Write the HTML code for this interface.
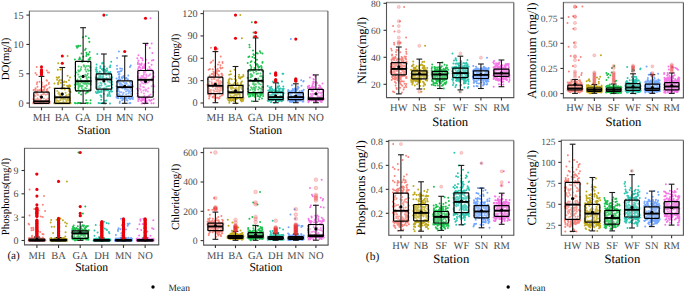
<!DOCTYPE html><html><head><meta charset="utf-8"><style>html,body{margin:0;padding:0;background:#fff;}svg{display:block;}text{text-rendering:geometricPrecision;}</style></head><body>
<svg width="685" height="292" viewBox="0 0 685 292" font-family='"Liberation Serif", serif'>
<rect width="685" height="292" fill="#fff"/>
<path d="M34.4 103.3h0M34.1 102.3h0M34.3 103.3h0M46.9 101.9h0M49 103.3h0M49.4 102.1h0M35.6 88.9h0M46.8 102.8h0M43.8 98.5h0M34.2 99.7h0M40.3 103.3h0M40.7 98.4h0M37.2 90.9h0M47.7 100.4h0M49.5 103h0M45.8 101.9h0M33.8 101.4h0M47.8 91.7h0M43.1 94.3h0M47.2 101.6h0M44.2 101.5h0M44 94.1h0M39.6 90.1h0M36 103.3h0M35.3 103.3h0M47.7 102.1h0M42.3 101.7h0M37.8 90.2h0M47.9 102.4h0M37 103.3h0M43 101.4h0M39.3 103.3h0M41.8 84.2h0M34.1 95.1h0M46.5 91.3h0M34.9 102.1h0M36.6 103.3h0M34 102.5h0M39.2 103.3h0M35.6 88.3h0M39.2 102.5h0M40.9 89.3h0M38.9 103.3h0M33.6 89.9h0M35.6 100.3h0M49.5 103.3h0M37.5 94.3h0M42 103.3h0M36.9 102.6h0M46.6 80.2h0M36.9 92.5h0M33.7 102.4h0M37.5 103h0M48.8 83.9h0M36.8 84h0M43.6 103.3h0M44 89.5h0M48.3 103.3h0M36.1 92.1h0M46.5 102.6h0M39.9 102.1h0M36 93.2h0M46.6 103.3h0M44.1 90h0M35.4 99.6h0M41.9 82.4h0M47.7 101.8h0M38.1 103.3h0M37.5 98.3h0M39.1 103.3h0M48.2 98.4h0M42 86.4h0M36.2 103.3h0M41.1 90.8h0M38.6 99.4h0M46.2 99.4h0M37.3 99.2h0M42.5 91.5h0M43.4 86.7h0M44.7 100.9h0M41.1 100.2h0M47.8 94.2h0M42.5 103.2h0M35.2 89.6h0M34.4 103.3h0M35.7 91.2h0M35.6 95.7h0M49 82.8h0M49.7 101.4h0M41.8 103.3h0M45.2 103.3h0M40.5 99.4h0M43.6 102.6h0M46.3 103.3h0M33.8 103.3h0M35.3 103.1h0M37.5 86.7h0M44.8 86.3h0M40.3 103.3h0M46.5 85.2h0M47.5 89h0M42.4 102.5h0M35.3 103.1h0M35.9 103.3h0M38.3 103.3h0M41.5 102.9h0M33.5 102.5h0M42.4 103.3h0M48.7 101.5h0M41.4 90.2h0M41.6 102.1h0M47 80.7h0M39.9 96.6h0M34.3 103.3h0M35.9 103.2h0M44.3 89.5h0M40.8 103.3h0M37.6 101.7h0M37.2 82.2h0M39.1 102.8h0M41.1 102.2h0M33.3 103.3h0M33.9 103.3h0M37 102.8h0M45.7 100.3h0M47.8 93.5h0M49.6 102.6h0M43.9 93.2h0M43.6 89.7h0M41.9 90.4h0M46.9 89.7h0M44.7 87.6h0M39.2 103.3h0M43.6 89.7h0M41.3 94.9h0M41.5 90.8h0M34.3 95.7h0M34.4 103.3h0M36.6 93h0M39.5 81.8h0M45.9 94.8h0M34.5 96.3h0M45.6 103.3h0M33.4 99h0M44.4 103.1h0M38 95.1h0M40.9 101.6h0M49.5 87.6h0M46.8 103.3h0M37.6 101.7h0M36.7 66.9h0M36.7 74.7h0M35.5 72.9h0M49 72.6h0M46.8 70.6h0M47.9 72.5h0" stroke="#F8766D" stroke-width="2.0" stroke-linecap="round" opacity="0.88"/>
<path d="M62.1 103.3h0M61.5 103.3h0M59.2 103.3h0M67.9 103.3h0M69 80.2h0M60.5 100.2h0M60 94.3h0M54.8 102.6h0M69.6 85.2h0M62.5 102.9h0M69.9 100.2h0M69.2 86.2h0M66 95.7h0M61.5 89.1h0M58.7 92.4h0M61.8 80.2h0M66.3 102h0M64.9 103h0M60.5 95.4h0M69.1 103.3h0M70.6 103.3h0M55.5 103.3h0M58.3 103.3h0M60.8 82.7h0M60.2 96.5h0M70.1 103.3h0M64.5 97.2h0M58.1 103.3h0M69.9 98.5h0M54.5 83.5h0M63.8 82.2h0M69.4 99.7h0M58.1 84.3h0M65.3 103.3h0M64.8 89.5h0M63.2 98.3h0M69.3 87.3h0M56.1 101.9h0M65.6 92.7h0M63.7 103.3h0M54.1 103.3h0M69.9 98.2h0M57.9 82.9h0M59.1 77h0M65.2 97.3h0M65.1 103.1h0M59.6 103.3h0M57.3 91h0M62.4 88.8h0M67.6 75.7h0M58.9 103.3h0M57.1 97.4h0M65.1 99.2h0M57.5 103.3h0M55 103.3h0M66.2 82.1h0M57.1 79.8h0M54.5 88.6h0M60.2 100h0M58.6 103.3h0M70 77.6h0M67.7 100.6h0M54.8 98.8h0M69.3 100.2h0M68.9 100.4h0M67.5 99.3h0M55 103.3h0M66.4 103.1h0M58.5 101h0M58.3 93.4h0M58.6 101.5h0M64.5 88.2h0M61.9 103.3h0M58.2 77.7h0M69.4 97.4h0M67.7 86.5h0M59.4 93.7h0M67 100.4h0M58.1 103.3h0M59.4 103.3h0M58.4 82.9h0M65.8 103.3h0M64.3 103.3h0M68.1 88.5h0M58.9 103.3h0M66.3 100.2h0M56.5 103.3h0M59.4 94.7h0M57.8 69.8h0M70.5 92.1h0M67.6 97.9h0M58.9 81.1h0M63.7 103.3h0M68.4 100.2h0M66.9 103h0M64.3 103.3h0M56.3 100.3h0M64 103.2h0M59.4 103.3h0M57.4 103.3h0M55 95.7h0M63.1 99.7h0M65.6 103.3h0M59.1 102.4h0M63.4 101.7h0M68.4 99.2h0M57.3 100.4h0M69 103.3h0M68.7 85.8h0M63.2 103.3h0M64.3 81.4h0M56.4 97.2h0M69.4 96.6h0M67.4 97.5h0M69.7 103.3h0M54.9 97.7h0M69 99.8h0M67.1 85.7h0M68.1 99.5h0M60.6 103.3h0M56 99.9h0M68.9 89.4h0M66.6 95.2h0M64 85.1h0M59.1 93h0M61.1 94.5h0M61.3 98.5h0M62.1 93.3h0M61.6 87.9h0M55.8 97.9h0M55.5 98.9h0M54.7 97h0M66.9 103.3h0M60.3 103.3h0M70.6 103.3h0M70.3 86.1h0M56.7 77.4h0M59.8 79.9h0M58.6 103.3h0M69.3 103.3h0M62.4 102.9h0M56.7 103.3h0M68.9 91.1h0M62.8 87.2h0M68.5 100.5h0M68.7 94.6h0M60.5 69.6h0M70.5 102.9h0M66.7 100.5h0M54.8 103.3h0M67.6 56h0M58.2 63.3h0" stroke="#B79F00" stroke-width="2.0" stroke-linecap="round" opacity="0.88"/>
<path d="M85.8 36.3h0M77.3 103.3h0M83.3 83.6h0M85.7 93.6h0M80.7 102.9h0M78.5 86.4h0M78.2 74.6h0M77 82.1h0M76.4 90.9h0M81.5 53.5h0M80.6 78.9h0M90.4 83.2h0M83.6 89.8h0M87.7 91h0M90.4 103.2h0M85.5 80.9h0M75.6 84.8h0M74.9 59.5h0M82.5 61.7h0M78.5 82.9h0M80.4 91.2h0M88.9 66.1h0M84 90.1h0M79.2 59.1h0M89.4 41.9h0M78.7 103.1h0M80.2 45.7h0M78.8 87.5h0M86.3 71.4h0M88.8 38.2h0M86.8 54.6h0M78.3 88.3h0M75.2 87.8h0M77.1 47.8h0M86.3 102.9h0M87 66h0M80.8 103.3h0M89.2 89.4h0M78.2 45.7h0M85.3 69.4h0M79.6 71.3h0M87.4 103h0M81.8 87.9h0M79.5 103.1h0M80.1 86h0M89 80.9h0M87.6 82.3h0M83.7 65.3h0M88.4 54.2h0M87.5 103.3h0M88 81.4h0M80.6 81.4h0M90.5 90.3h0M76.6 81.2h0M87.9 73.8h0M81.5 86.5h0M89.6 51.9h0M79.2 103h0M81.1 81.1h0M87.3 80h0M80.6 70.1h0M87.1 75.2h0M87.7 83.4h0M78.7 66.4h0M86.5 88.6h0M78.9 93h0M77.5 79.6h0M76.5 72.6h0M88 62h0M78 83.5h0M81.2 94.4h0M87.9 103.1h0M85.3 81.2h0M87.1 82.9h0M84.3 83.7h0M78.6 84h0M86.4 52.8h0M85.5 67.4h0M85.2 88.1h0M87.8 103.2h0M78.9 71.4h0M85.1 82.8h0M90.3 67.8h0M87.7 69.5h0M91 81.6h0M77.5 103.2h0M76.5 46.3h0M86.7 78.2h0M88.6 70.7h0M90.6 84.4h0M81.3 67h0M75.7 83.8h0M75 84.8h0M86.4 84.1h0M78.5 90.1h0M78.4 46.4h0M78.3 85.1h0M82.6 76.2h0M85.4 83.8h0M79.7 57.5h0M88.9 83.8h0M79 85.7h0M86.8 92.2h0M81.9 81.6h0M80.8 69.1h0M88.6 54.8h0M88.6 59.4h0M90.6 100.3h0M76.5 90.8h0M77.3 84h0M89.6 59h0M89.7 59.6h0M86.3 55.9h0M82.1 62h0M79.2 77.1h0M82.6 89.5h0M83.1 81.5h0M88.8 54.2h0M85.9 76.6h0M81.7 85.7h0M75.2 76.1h0M90.3 67.2h0M82.8 37.2h0M80.4 76.5h0M82.7 86.1h0M82 60.2h0M88.5 77.2h0M83.2 56.7h0M91 80.7h0M80.1 58.9h0M85.3 74.8h0M83.9 66.3h0M74.9 103.1h0M85.7 48.7h0M85 50h0M84.7 66h0M87.5 82h0M87.7 92.3h0M80.9 69.4h0M79.1 59.3h0M80.1 84h0M90.3 70.5h0M75.4 103.2h0M90.1 57.8h0M90.4 77.8h0M81.6 82.1h0M78.3 70.3h0M86.2 100.2h0M89.3 41.7h0M87 85.9h0" stroke="#00BA38" stroke-width="2.0" stroke-linecap="round" opacity="0.88"/>
<path d="M107.5 96.1h0M97 74.4h0M103.2 74.9h0M111.6 89h0M106.4 100.6h0M107.7 94.4h0M96.6 69.8h0M102.9 77.9h0M101.6 91.9h0M102.5 76.7h0M108.6 72.7h0M96.6 87.3h0M109.4 75h0M111.9 77.2h0M100.7 77.3h0M107 68.4h0M100.3 68h0M102.6 103.1h0M96.3 71.6h0M105.1 71.8h0M107 70.2h0M97 85.1h0M108.1 72.3h0M106.9 89.6h0M108.1 90.2h0M97 80.9h0M105.2 73.2h0M103.5 68.6h0M98.6 90.7h0M105 84.5h0M98.1 79h0M97.3 54h0M105.5 72.7h0M95.9 79h0M110 103.5h0M99.9 78h0M111.3 82.1h0M99.8 71.5h0M98.6 103h0M110.1 96.1h0M96.6 64.4h0M97.6 83.2h0M105 88.9h0M102.1 63.5h0M112.1 91.5h0M101.4 97h0M96.4 67.5h0M106.3 74.9h0M108.1 95.7h0M100.5 75.7h0M101 73.6h0M98.4 92.6h0M95.8 92h0M111 90.5h0M110.4 65.5h0M97.2 81.3h0M103.1 70.6h0M106 71.4h0M107.5 89.9h0M100 91.9h0M109.6 91.6h0M100.9 91.3h0M96.5 93h0M99.1 75.9h0M99.9 87.6h0M112.1 84.4h0M100.4 66.2h0M100.5 95.6h0M101.2 99.7h0M104.3 103.3h0M110.8 81.8h0M97.9 77.9h0M98.8 73.2h0M103.8 94.1h0M107.4 90.2h0M98.9 77.7h0M102.4 74.3h0M101.2 95.8h0M95.8 69.6h0M110.1 80.3h0M101.7 90.8h0M105.5 84.2h0M103 103.2h0M109.2 92.7h0M107.4 86.2h0M110.1 73.9h0M104.1 79.6h0M95.9 78.6h0M97.3 89.8h0M97.2 71.6h0M105.6 90.5h0M107.3 78.9h0M96.3 69.4h0M103.9 79.6h0M97.9 92.7h0M105.1 69.8h0M111.2 91.4h0M109.6 82.3h0M111.3 83.2h0M99.6 85.5h0M111.9 81.8h0M109.7 67h0M111.5 79h0M106.1 89.2h0M96.7 78.8h0M95.9 79.3h0M111.2 61.8h0M110.3 71.9h0M100 103.3h0M104.6 88.2h0M99.7 76.9h0M111.4 81.8h0M106.4 86.8h0M111.5 77.5h0M103.3 88.4h0M97.8 91.8h0M100.4 82.8h0M109.6 94h0M106.4 78h0M103.2 74.9h0M103.4 77.1h0M104.1 89.4h0M95.8 77.6h0M104.8 69.7h0M112 87.7h0M96.7 73.2h0M96.6 81.6h0M107.8 81.6h0M107.9 89.8h0M101.4 85.5h0M109.7 77h0M107.9 79h0M108.6 73.6h0M110.1 66.9h0M105.3 103.4h0M102.5 62.7h0M101.9 69.2h0M107.6 80.9h0M104.8 83.4h0M108.7 86.1h0M103 79.4h0M98 86.9h0M97 77.7h0M109.6 86h0M102.7 63.2h0M105 100.8h0M104.5 66.5h0M104.2 79h0M101.5 83.5h0M111.4 85h0M106.8 15.1h0" stroke="#12BFA6" stroke-width="2.0" stroke-linecap="round" opacity="0.88"/>
<path d="M123 98.5h0M131 85.4h0M123.7 87.6h0M125.2 56h0M132.7 97.3h0M118.2 86.9h0M130 82.5h0M119 74h0M124.8 86.9h0M126.4 97.1h0M117.1 57.9h0M127.9 79.2h0M130.4 103.1h0M119.6 83.1h0M120.8 85.9h0M133 86.5h0M118.4 90.2h0M118 80.4h0M130.1 86.7h0M116.6 78.4h0M128.3 93.4h0M118 97.3h0M122.2 85.2h0M117.3 91.1h0M132.4 85.2h0M120.5 84.3h0M121.6 70.7h0M126.4 78h0M132.2 87.4h0M128.3 91h0M131 93.9h0M119.3 79h0M121.2 97.1h0M122.8 98.2h0M130.1 99.3h0M121.1 96.4h0M122.1 100.3h0M117.9 82.1h0M123.8 77h0M122.2 78.5h0M132.3 91.4h0M120.2 68.5h0M120.7 97.9h0M122.5 85.1h0M119.9 84.6h0M125.4 98h0M127.3 79.9h0M122.9 93.9h0M121.7 97.2h0M122.4 98.3h0M117.5 94.4h0M128.3 96.6h0M131.5 90.5h0M118.6 74.3h0M127.4 100.6h0M127.3 90.2h0M122.2 96.3h0M131.6 97.1h0M117 81.9h0M119.7 103h0M117 91.3h0M119.4 83.8h0M128.3 85.5h0M127.8 89.4h0M129.3 103.3h0M126.5 100h0M129.6 96.4h0M117.8 72.1h0M128.8 90.8h0M117.9 95h0M131.9 89.8h0M130.2 81.1h0M117.3 88.8h0M124.9 89.6h0M117.1 97.9h0M125.5 78.4h0M125.4 83.9h0M123.2 99.4h0M118.6 93.9h0M120.3 83h0M123.8 86.8h0M121.4 92.3h0M121.9 97.7h0M129 86h0M126.3 83.1h0M118.3 80.2h0M119.8 92h0M119.7 95h0M118.3 89h0M122.4 88.3h0M132.9 99.1h0M132.7 98.8h0M123.6 98.3h0M116.5 86.2h0M126.8 83.7h0M120.6 83.5h0M129.3 97.8h0M119.5 94.4h0M119.2 76.5h0M121.8 77.3h0M122.5 77.5h0M130.2 91.7h0M126.8 100.1h0M131.4 82.1h0M124.7 87.4h0M126.1 94.3h0M119.1 82.5h0M117 65.7h0M116.4 97h0M123.5 76h0M124.9 83.2h0M123.7 92.8h0M119.1 77.5h0M125.8 89.1h0M121.8 96.9h0M130.8 65.4h0M129.9 67h0M126.5 82.9h0M132.2 85.5h0M121.4 83.6h0M119.5 74.2h0M117.8 89h0M126 91.6h0M125.8 86.5h0M131.2 98.2h0M120.6 98.2h0M120.6 86.5h0M120.1 85.9h0M126.2 98.2h0M117.6 90.3h0M128.3 75.5h0M128.4 98.2h0M119.2 77.3h0M129.3 85.7h0M120.3 79.7h0M119.9 101.6h0M123.5 82h0M130.9 84.3h0M119.2 71.8h0M129.1 92.7h0M122.6 77.5h0M117.1 68.9h0M129.7 98.5h0M120.6 71.2h0M130.3 89h0M118.2 98.2h0M121.2 97.1h0M118.8 91.3h0M127.9 86.3h0M122.1 68.8h0M118.9 51.5h0" stroke="#619CFF" stroke-width="2.0" stroke-linecap="round" opacity="0.88"/>
<path d="M137.8 64.1h0M143.7 67.3h0M143.7 98.1h0M138.4 75.9h0M147 97.4h0M145 98h0M143.1 87.1h0M142.7 103.2h0M153.6 103.2h0M141.7 98.3h0M141.5 79.8h0M153.1 78.8h0M150 100.7h0M147.7 69.4h0M150.4 94.6h0M142.2 58.6h0M145.6 70.9h0M146.3 89.7h0M142.6 99.8h0M143.3 81h0M139.4 97.3h0M144.7 103.4h0M142.2 77.4h0M142.3 99.7h0M152.8 78h0M138.5 60.4h0M153.6 77h0M151.6 69.4h0M152.1 80.8h0M137.6 96.5h0M148.9 95.7h0M140.5 86.3h0M140.4 64.7h0M138.5 55.2h0M139.4 63.9h0M151.8 78.5h0M142.6 60.2h0M143.9 74.5h0M138.1 90.5h0M142.7 100.3h0M141.5 76.4h0M146.6 101.9h0M149.2 100h0M139.5 99.1h0M144.2 99.2h0M146.4 76.7h0M142.7 76.3h0M149 96.5h0M150 69.3h0M141.8 82.8h0M137.3 58.3h0M150.1 74.3h0M149.8 48.1h0M138.2 101h0M140.2 77.9h0M139.7 88.6h0M152.5 71h0M141.2 100.9h0M147.8 79.9h0M142.6 68.2h0M138.3 98.9h0M151.6 86.2h0M144 77.6h0M140.9 57.8h0M144.4 96.1h0M147.9 97.6h0M146.7 45.1h0M141.6 64.7h0M142.7 67.1h0M148.5 62.9h0M146.8 82.8h0M143.2 97.5h0M151.6 64.7h0M137.6 93.4h0M152.4 53h0M138.8 71.1h0M138.7 73.2h0M151.9 60.6h0M150.4 100.8h0M141 100.6h0M153.7 98.9h0M145.3 63.7h0M140.2 84.4h0M145.5 98.3h0M145.4 89.4h0M140.8 89.7h0M141.7 63.4h0M138.3 95.9h0M144 79.5h0M137.3 88.8h0M146.2 74.4h0M153.5 73h0M143.8 71.9h0M153.4 85h0M144 87.3h0M147.3 43.4h0M147.3 96.7h0M139.1 97.2h0M138 69h0M147.9 91.5h0M153.4 92.1h0M151.4 103.3h0M153.7 76.6h0M149.6 75.2h0M143.7 72.1h0M148.5 75.8h0M146.2 75.3h0M141.6 75.9h0M149.2 81.5h0M140.9 81.3h0M145.9 59.8h0M140 67.5h0M147.8 82.4h0M137.9 62.6h0M139.2 66.6h0M138.9 97h0M144.7 68.1h0M153.8 86.6h0M145.1 83.1h0M148.5 70.1h0M141.1 79.1h0M143.5 90.4h0M146.7 103h0M141.7 97.9h0M138.7 97.2h0M144.2 65h0M143.4 75.7h0M143.3 83.5h0M144 93.6h0M143.6 67.7h0M153.4 60h0M148.3 88.2h0M143.5 99.6h0M152.2 80h0M144.9 101.1h0M145.1 66.1h0M145.4 83.7h0M149.5 67h0M146.4 100.5h0M140.8 69.6h0M138.6 67.3h0M138.1 77.6h0M145.2 72.1h0M144.1 72.9h0M151.7 43.4h0M145.8 90.8h0M141.7 103.5h0M141.4 92.3h0M145.7 77.9h0M151.6 100.1h0M150.5 18.2h0" stroke="#F564E3" stroke-width="2.0" stroke-linecap="round" opacity="0.88"/>
<line x1="41.5" y1="76.4" x2="41.5" y2="92.1" stroke="#1a1a1a" stroke-width="1.1"/>
<line x1="41.5" y1="103.3" x2="41.5" y2="103.3" stroke="#1a1a1a" stroke-width="1.1"/>
<line x1="38.6" y1="76.4" x2="44.4" y2="76.4" stroke="#1a1a1a" stroke-width="1.1"/>
<line x1="38.6" y1="103.3" x2="44.4" y2="103.3" stroke="#1a1a1a" stroke-width="1.1"/>
<rect x="33.8" y="92.1" width="15.4" height="11.2" rx="0.8" fill="#fff" fill-opacity="0.2" stroke="#000" stroke-width="1.2"/>
<line x1="33.8" y1="101.3" x2="49.2" y2="101.3" stroke="#000" stroke-width="1.9"/>
<circle cx="41.5" cy="97.1" r="1.55" fill="#000"/>
<circle cx="41.5" cy="66.9" r="1.55" fill="#E8000B"/>
<circle cx="41.5" cy="69.9" r="1.55" fill="#E8000B"/>
<circle cx="41.5" cy="70.7" r="1.55" fill="#E8000B"/>
<circle cx="41.5" cy="71.5" r="1.55" fill="#E8000B"/>
<circle cx="41.5" cy="72.3" r="1.55" fill="#E8000B"/>
<circle cx="41.5" cy="73.1" r="1.55" fill="#E8000B"/>
<circle cx="41.5" cy="73.9" r="1.55" fill="#E8000B"/>
<circle cx="41.5" cy="74.7" r="1.55" fill="#E8000B"/>
<line x1="62.3" y1="67.5" x2="62.3" y2="88.4" stroke="#1a1a1a" stroke-width="1.1"/>
<line x1="62.3" y1="103.3" x2="62.3" y2="103.3" stroke="#1a1a1a" stroke-width="1.1"/>
<line x1="59.4" y1="67.5" x2="65.2" y2="67.5" stroke="#1a1a1a" stroke-width="1.1"/>
<line x1="59.4" y1="103.3" x2="65.2" y2="103.3" stroke="#1a1a1a" stroke-width="1.1"/>
<rect x="54.6" y="88.4" width="15.4" height="14.9" rx="0.8" fill="#fff" fill-opacity="0.2" stroke="#000" stroke-width="1.2"/>
<line x1="54.6" y1="97.3" x2="70" y2="97.3" stroke="#000" stroke-width="1.9"/>
<circle cx="62.3" cy="94.1" r="1.55" fill="#000"/>
<circle cx="62.3" cy="56" r="1.55" fill="#E8000B"/>
<circle cx="62.3" cy="63.3" r="1.55" fill="#E8000B"/>
<line x1="83.1" y1="27.7" x2="83.1" y2="61.3" stroke="#1a1a1a" stroke-width="1.1"/>
<line x1="83.1" y1="90.8" x2="83.1" y2="103.3" stroke="#1a1a1a" stroke-width="1.1"/>
<line x1="80.2" y1="27.7" x2="86" y2="27.7" stroke="#1a1a1a" stroke-width="1.1"/>
<line x1="80.2" y1="103.3" x2="86" y2="103.3" stroke="#1a1a1a" stroke-width="1.1"/>
<rect x="75.4" y="61.3" width="15.4" height="29.5" rx="0.8" fill="#fff" fill-opacity="0.2" stroke="#000" stroke-width="1.2"/>
<line x1="75.4" y1="81.2" x2="90.8" y2="81.2" stroke="#000" stroke-width="1.9"/>
<circle cx="83.1" cy="76.4" r="1.55" fill="#000"/>
<line x1="103.9" y1="54" x2="103.9" y2="73.9" stroke="#1a1a1a" stroke-width="1.1"/>
<line x1="103.9" y1="89.2" x2="103.9" y2="103.3" stroke="#1a1a1a" stroke-width="1.1"/>
<line x1="101" y1="54" x2="106.8" y2="54" stroke="#1a1a1a" stroke-width="1.1"/>
<line x1="101" y1="103.3" x2="106.8" y2="103.3" stroke="#1a1a1a" stroke-width="1.1"/>
<rect x="96.2" y="73.9" width="15.4" height="15.3" rx="0.8" fill="#fff" fill-opacity="0.2" stroke="#000" stroke-width="1.2"/>
<line x1="96.2" y1="79.4" x2="111.6" y2="79.4" stroke="#000" stroke-width="1.9"/>
<circle cx="103.9" cy="81" r="1.55" fill="#000"/>
<circle cx="103.9" cy="15.1" r="1.55" fill="#E8000B"/>
<line x1="124.7" y1="56" x2="124.7" y2="80.8" stroke="#1a1a1a" stroke-width="1.1"/>
<line x1="124.7" y1="96.3" x2="124.7" y2="103.3" stroke="#1a1a1a" stroke-width="1.1"/>
<line x1="121.8" y1="56" x2="127.6" y2="56" stroke="#1a1a1a" stroke-width="1.1"/>
<line x1="121.8" y1="103.3" x2="127.6" y2="103.3" stroke="#1a1a1a" stroke-width="1.1"/>
<rect x="117" y="80.8" width="15.4" height="15.5" rx="0.8" fill="#fff" fill-opacity="0.2" stroke="#000" stroke-width="1.2"/>
<line x1="117" y1="87.2" x2="132.4" y2="87.2" stroke="#000" stroke-width="1.9"/>
<circle cx="124.7" cy="86.4" r="1.55" fill="#000"/>
<circle cx="124.7" cy="51.5" r="1.55" fill="#E8000B"/>
<line x1="145.5" y1="43.4" x2="145.5" y2="70.5" stroke="#1a1a1a" stroke-width="1.1"/>
<line x1="145.5" y1="97.1" x2="145.5" y2="103.3" stroke="#1a1a1a" stroke-width="1.1"/>
<line x1="142.6" y1="43.4" x2="148.4" y2="43.4" stroke="#1a1a1a" stroke-width="1.1"/>
<line x1="142.6" y1="103.3" x2="148.4" y2="103.3" stroke="#1a1a1a" stroke-width="1.1"/>
<rect x="137.8" y="70.5" width="15.4" height="26.6" rx="0.8" fill="#fff" fill-opacity="0.2" stroke="#000" stroke-width="1.2"/>
<line x1="137.8" y1="79.8" x2="153.2" y2="79.8" stroke="#000" stroke-width="1.9"/>
<circle cx="145.5" cy="81.4" r="1.55" fill="#000"/>
<circle cx="145.5" cy="18.2" r="1.55" fill="#E8000B"/>
<line x1="29.4" y1="11.2" x2="158.5" y2="11.2" stroke="#b8b8b8" stroke-width="1.7"/>
<line x1="158.5" y1="11.2" x2="158.5" y2="107.3" stroke="#555" stroke-width="1.1"/>
<line x1="29.4" y1="107.3" x2="159" y2="107.3" stroke="#555" stroke-width="1.1"/>
<line x1="29.4" y1="10.7" x2="29.4" y2="107.8" stroke="#555" stroke-width="1.1"/>
<line x1="26.4" y1="103.1" x2="29.4" y2="103.1" stroke="#333" stroke-width="1.1"/>
<text x="23.5" y="106.57" font-size="10.2" fill="#4d4d4d" text-anchor="end">0</text>
<line x1="26.4" y1="73.77" x2="29.4" y2="73.77" stroke="#333" stroke-width="1.1"/>
<text x="23.5" y="77.24" font-size="10.2" fill="#4d4d4d" text-anchor="end">5</text>
<line x1="26.4" y1="44.43" x2="29.4" y2="44.43" stroke="#333" stroke-width="1.1"/>
<text x="23.5" y="47.9" font-size="10.2" fill="#4d4d4d" text-anchor="end">10</text>
<line x1="26.4" y1="15.1" x2="29.4" y2="15.1" stroke="#333" stroke-width="1.1"/>
<text x="23.5" y="18.57" font-size="10.2" fill="#4d4d4d" text-anchor="end">15</text>
<line x1="41.5" y1="107.3" x2="41.5" y2="110.3" stroke="#333" stroke-width="1.1"/>
<text x="41.5" y="120.6" font-size="10.9" fill="#4d4d4d" text-anchor="middle">MH</text>
<line x1="62.3" y1="107.3" x2="62.3" y2="110.3" stroke="#333" stroke-width="1.1"/>
<text x="62.3" y="120.6" font-size="10.9" fill="#4d4d4d" text-anchor="middle">BA</text>
<line x1="83.1" y1="107.3" x2="83.1" y2="110.3" stroke="#333" stroke-width="1.1"/>
<text x="83.1" y="120.6" font-size="10.9" fill="#4d4d4d" text-anchor="middle">GA</text>
<line x1="103.9" y1="107.3" x2="103.9" y2="110.3" stroke="#333" stroke-width="1.1"/>
<text x="103.9" y="120.6" font-size="10.9" fill="#4d4d4d" text-anchor="middle">DH</text>
<line x1="124.7" y1="107.3" x2="124.7" y2="110.3" stroke="#333" stroke-width="1.1"/>
<text x="124.7" y="120.6" font-size="10.9" fill="#4d4d4d" text-anchor="middle">MN</text>
<line x1="145.5" y1="107.3" x2="145.5" y2="110.3" stroke="#333" stroke-width="1.1"/>
<text x="145.5" y="120.6" font-size="10.9" fill="#4d4d4d" text-anchor="middle">NO</text>
<text x="93.95" y="133.8" font-size="12" font-weight="normal" fill="#000" text-anchor="middle" textLength="32.8" lengthAdjust="spacingAndGlyphs">Station</text>
<text transform="translate(8.9 58.9) rotate(-90)" font-size="10.9" font-weight="normal" fill="#000" text-anchor="middle" textLength="42.7" lengthAdjust="spacingAndGlyphs">DO(mg/l)</text>
<path d="M210.6 93.4h0M213.4 84.6h0M216.7 86.1h0M222.1 75h0M215.9 98.1h0M212.6 83.7h0M218.8 75.2h0M214.7 82.8h0M221.5 87.4h0M217.6 87.8h0M216.9 71.8h0M220.2 67.5h0M218.2 80.1h0M209.7 94.3h0M208.9 94.3h0M218 64.5h0M209.9 68.9h0M208 79.3h0M211.1 92.2h0M216.4 91.3h0M220.9 68.4h0M213.7 75.1h0M217.7 89.4h0M208.9 84.3h0M214.3 78.1h0M209.3 96.1h0M215.8 51.6h0M219.4 90.4h0M215.2 66.8h0M216.1 82.6h0M221.7 95.6h0M207.9 94h0M222.5 62.1h0M214.6 98.1h0M210.2 77.5h0M208.5 92h0M220 96.6h0M207.9 86.9h0M209.5 96.5h0M213.4 90.2h0M222.5 95.1h0M215.1 72.9h0M209.3 96.6h0M209.3 84.6h0M215.5 95.1h0M210.6 94.5h0M215.4 93.8h0M215.2 100.5h0M218.4 83.5h0M211.6 77.2h0M215.7 89h0M216.7 70h0M220 82.7h0M217 97.6h0M218.5 98.5h0M220.4 90.6h0M222.5 67.7h0M208.8 88.6h0M218.3 77.8h0M209.6 90.5h0M223 94.2h0M215.4 75.4h0M217.6 68.7h0M220.9 81.7h0M213 96.7h0M219.3 62.3h0M221.9 73.7h0M216.9 73.5h0M221.4 73.8h0M222.6 63.1h0M211.4 61.9h0M214.7 94h0M222 86h0M213.7 78.7h0M222.5 75.3h0M208.8 88.6h0M216.9 73.3h0M215.2 75.4h0M214.1 96.2h0M212.8 87.1h0M220.9 90.2h0M208.8 92.2h0M214.5 79.1h0M218.3 74.7h0M211.7 73.9h0M211 89.9h0M221.7 82.2h0M222.7 85.8h0M220.7 56.5h0M207.4 84.9h0M220.4 65.2h0M209 90.2h0M213.4 71.8h0M208.6 69.8h0M222.7 87.4h0M217.5 80.5h0M218.2 85.1h0M213.2 85.9h0M218.3 97.8h0M219.4 87.3h0M219.4 78h0M209.6 91.1h0M216.8 70h0M219.4 98.3h0M219.6 92.6h0M214.1 84.4h0M220.3 80.9h0M222.8 89.4h0M211.8 79.4h0M220.6 83.4h0M209.6 90.4h0M219.2 70.9h0M208.2 91.5h0M222.9 89.3h0M222.5 94.7h0M214.4 91.2h0M213.7 93.3h0M210.6 62.7h0M220.8 87.3h0M209.8 76h0M216.3 86.7h0M213.2 77.1h0M212 84.9h0M219.8 93.3h0M213.1 73.8h0M211.3 93.1h0M219.5 84.2h0M220.3 88.4h0M217.7 91.7h0M218.5 81.4h0M222.5 88.9h0M213.7 90.6h0M210.4 90.3h0M215.7 84.8h0M212.8 69.2h0M215.4 88.4h0M216.6 80.3h0M211.8 83.4h0M209.8 75.6h0M221.8 77h0M220.6 77.5h0M218.7 70.8h0M211.8 82.2h0M220.6 82.5h0M208.9 94.3h0M213.1 60.6h0M212.6 97.3h0M209.6 81.6h0M216.3 97.7h0M209.1 98.6h0M211 47.7h0M217.5 49h0" stroke="#F8766D" stroke-width="2.0" stroke-linecap="round" opacity="0.88"/>
<path d="M236.6 95.8h0M240.9 84h0M228 91.3h0M234.3 101.2h0M239.1 88.9h0M235.7 94.3h0M243.5 97.9h0M243.3 75h0M229.6 92.7h0M238.8 87.4h0M230.5 95.6h0M230.6 96.9h0M234.5 91.9h0M230.6 86.8h0M238.7 90.7h0M242.7 85.5h0M239 86.3h0M241.3 98.1h0M231.7 88.9h0M243.4 98.6h0M233.2 100.6h0M229.1 83.6h0M235 98.7h0M235.1 78.9h0M236.5 99h0M227.8 98.1h0M242.6 86.6h0M239.2 93.6h0M229.6 83.4h0M233.6 98h0M234.9 82.7h0M228.6 80.2h0M241.7 89.1h0M230.8 88.6h0M229.1 79.3h0M234.8 99h0M238.8 88.7h0M228.3 100h0M238.3 94.3h0M238.6 97.8h0M237.1 98.8h0M231.1 97.8h0M237.6 84.2h0M243.1 100.8h0M231.3 100.8h0M242.4 98h0M229.9 78.5h0M243.1 85.2h0M230.1 98.3h0M241.8 99.3h0M236.4 103.3h0M237.4 92.2h0M228.3 83.8h0M233.8 96.7h0M227.9 85.6h0M229.4 83.4h0M229.2 98.1h0M233.1 91.1h0M241.1 86h0M232.3 99.4h0M243.2 98.8h0M229.3 102.8h0M235.8 89.7h0M237.3 94.2h0M240.3 78.6h0M228 82.5h0M241.6 81.9h0M238.8 76.8h0M233.1 96.5h0M243.2 99.5h0M240.9 77.6h0M231.5 85.3h0M241.7 101.6h0M239.8 95.9h0M236 80.1h0M237.5 82.9h0M243 91.3h0M237.9 91.5h0M242.1 77.1h0M230.9 74.2h0M231.7 79.2h0M234.5 69.7h0M239.4 87.2h0M227.9 97.7h0M243 98.1h0M238 89.9h0M232.4 87.1h0M233.3 100h0M243 99.2h0M239.8 97.1h0M234 99.4h0M239.2 93.4h0M240.8 77.6h0M241.2 82.8h0M231.9 87.8h0M230 98.3h0M238.1 90.1h0M243.2 98.8h0M236.6 88.3h0M241.2 100.1h0M239.1 74.8h0M233.4 84.2h0M240.3 99.2h0M239.8 94.7h0M233.6 98.2h0M235 88.6h0M240.9 100.4h0M229.3 101.1h0M229 86.6h0M230.3 92.7h0M229.4 93.5h0M235 95.1h0M228.6 90.9h0M236.5 85.6h0M229.2 74.8h0M231.3 91.7h0M228.8 81.3h0M239.2 78.1h0M232.6 93.2h0M233.3 88h0M230.4 71.3h0M235.7 88.3h0M239.4 92.9h0M237.2 97.8h0M242.7 98.8h0M242 81.6h0M241.9 97.9h0M234.5 98h0M236.8 98.3h0M238.4 94.3h0M235.1 76.3h0M243.4 76.3h0M230.7 98h0M231.1 93.2h0M234 96h0M227.8 87.8h0M227.5 98.6h0M234.8 97.5h0M229.7 86.6h0M229.9 99.1h0M236.8 91.7h0M230.2 100.3h0M234 93.3h0M241.3 88h0M242.6 97.2h0M229.1 100.4h0M232.1 96.7h0M236 81.1h0M235.7 83.6h0M236.9 97.8h0M240.3 15.1h0M241.9 38.3h0" stroke="#B79F00" stroke-width="2.0" stroke-linecap="round" opacity="0.88"/>
<path d="M262 93.5h0M251.7 93.7h0M256 86.8h0M257.6 96.1h0M260.4 73.6h0M258.5 81.9h0M250.5 74.7h0M254.5 68h0M263 93.3h0M253.3 92.9h0M251.1 69h0M248.1 91.8h0M254.3 85h0M262.7 77.4h0M258.9 87.3h0M247.9 93.8h0M263 94.1h0M257.8 65h0M259.9 51.2h0M260.8 92.4h0M257 64.1h0M259.2 99.2h0M250.4 96.2h0M251.8 101.3h0M249.4 44.7h0M253 50.4h0M254.3 89h0M248.5 92.2h0M257.6 94h0M260.3 92h0M255.5 88h0M248.4 57.1h0M253.8 72.7h0M260.4 93h0M250.6 77.3h0M251.3 67h0M256.6 74h0M249.3 93.5h0M254.4 92.8h0M248.1 71.2h0M257.8 93.1h0M262 76.1h0M258.2 89.5h0M260 94.1h0M263 71.6h0M252.6 89.6h0M249 96.7h0M250 80.2h0M250.7 62h0M255.9 80.5h0M256.1 71.6h0M253.8 95.2h0M258.3 92.6h0M255.2 89.1h0M254.7 68.8h0M249.3 56.5h0M252 75.1h0M249.6 47.2h0M252.4 75.9h0M254.6 69.9h0M249.1 85.6h0M259.9 96.9h0M250.2 95.2h0M250.4 65.2h0M253 84.1h0M249.5 92.8h0M261.9 70.4h0M262.9 82h0M255 90.6h0M249.7 70.7h0M260.6 52.8h0M255.1 92.7h0M252.7 94.3h0M253.1 70.2h0M260.8 84.4h0M247.7 77.7h0M262 76.4h0M261.2 88.7h0M253.4 91.8h0M253.6 87.5h0M254.2 93h0M251.5 61.2h0M259.3 67h0M258.1 66.4h0M256.2 64.7h0M261.1 66h0M262.6 61.9h0M258 73.4h0M254.9 62.6h0M261.5 68.2h0M251.6 88.1h0M248 88.7h0M248.7 93h0M254 93.5h0M257.7 53.5h0M262 82.1h0M261.6 89.5h0M260.9 95.2h0M254.3 81.5h0M250.9 73.9h0M263 87h0M248.1 94.8h0M259.1 83.8h0M260.7 95.5h0M251.1 87.3h0M261.7 67.1h0M253.7 83.8h0M252.4 57h0M250.6 70.8h0M258.3 80.8h0M256.6 53.1h0M256.4 93.7h0M262.4 62.7h0M262 98.4h0M262.5 53.4h0M260.5 94.4h0M251.7 76.6h0M255.8 84.3h0M253 95.5h0M251.4 70h0M250.4 80.1h0M257 59.7h0M259 69.9h0M261 91.5h0M254.7 96.8h0M258.5 96.2h0M257.8 82.6h0M259.9 88.3h0M254.2 93.4h0M250.2 89.9h0M252.6 95.7h0M254.6 93.7h0M262.7 81.4h0M249.9 93.5h0M263.1 96.1h0M254.4 87.4h0M253.9 72.8h0M247.7 63h0M253.3 71h0M254.5 58.1h0M258.2 78.6h0M253.4 54.3h0M258.4 67.7h0M254 55h0M260.4 95h0M255.3 88.9h0M261.9 87h0M262.5 79.5h0M252.9 81.8h0M260.2 76.3h0M251.8 22.3h0M253.5 32.6h0M253.8 36.5h0" stroke="#00BA38" stroke-width="2.0" stroke-linecap="round" opacity="0.88"/>
<path d="M272.1 89h0M278.7 91.1h0M280.6 100h0M271.9 99.8h0M282.3 92.9h0M282.5 96.2h0M270.8 88.6h0M269.2 90.4h0M283.4 92.2h0M268 101.1h0M269.5 94.7h0M278.5 100.1h0M283.4 98.5h0M271.7 98.2h0M279 86.2h0M273.3 100.1h0M278.6 101h0M280.4 97.7h0M281.8 97.6h0M274 98.7h0M276.7 90.4h0M278.8 100.1h0M275.9 91.5h0M278.4 91.5h0M274.2 92.8h0M277.5 87.4h0M272 98.3h0M280.9 91.6h0M272.8 93.6h0M277.5 99.6h0M272.1 90.4h0M279.8 100.8h0M282.2 92.1h0M282.7 97.8h0M272.1 91.9h0M279.3 90.1h0M278.1 92.7h0M279.3 97.2h0M272.1 94.3h0M283.7 88.8h0M280.7 95.8h0M281.5 97.5h0M269.6 87.6h0M268.5 100.3h0M279.6 96.4h0M273.7 94.6h0M275.3 91.2h0M268.2 90.5h0M279.2 97.4h0M282.6 98.7h0M269.6 100.3h0M273.1 97.1h0M280.3 88.5h0M282.2 89h0M277.8 86.4h0M269.3 90.5h0M279.6 91.4h0M280.9 97.5h0M278.7 88.7h0M270.4 98h0M275.6 97.4h0M276.6 98.4h0M270.3 95.5h0M283.1 98.4h0M283.2 100.3h0M272.7 96.3h0M272.2 99.9h0M282.9 96h0M282.9 98.5h0M281.5 96.3h0M277.4 98.5h0M283.3 86.6h0M271 102.2h0M278.4 100.5h0M278.6 88.6h0M274.5 102.7h0M276.8 99h0M282.2 97.9h0M270.9 91.1h0M282.6 90.9h0M272.9 89.9h0M278.9 98h0M269.4 90.9h0M270 99.5h0M283 94.1h0M278.2 83.6h0M276.5 92.8h0M269.9 89.4h0M280.5 100.3h0M276.9 97.1h0M276.4 98h0M271.5 101.1h0M271.6 99.7h0M273.9 97.3h0M278.4 92.1h0M275.7 97.6h0M270.6 95.2h0M269.1 100.8h0M272.6 97.8h0M270.2 88.2h0M282.3 98.9h0M270.3 97.8h0M278.1 100.4h0M268.6 94.8h0M269.3 98.7h0M275.9 93h0M274.6 94h0M267.7 100.7h0M270.9 98.1h0M283.6 93.6h0M278.4 99.5h0M278.7 98.1h0M276.4 100.2h0M275.7 88.8h0M275.6 100h0M282.7 99.2h0M269.9 97.4h0M278.9 100.4h0M279.2 86h0M268.5 100.5h0M273.3 92.9h0M279.1 98.4h0M267.7 85.9h0M281.6 92.8h0M279.2 100.2h0M278.5 98.3h0M281.7 101.3h0M282.3 98.9h0M283.2 90.2h0M270.8 87.7h0M273.1 97.3h0M277.1 96.9h0M275.7 99.4h0M278.3 97.9h0M272.1 96.5h0M280.2 93.3h0M275.9 99.7h0M274.1 99.2h0M279.4 91.2h0M273.4 97.6h0M279.8 98.5h0M280.3 99.9h0M277.9 93.8h0M268.7 99.4h0M276.1 101.5h0M271.4 86.7h0M279.5 100.5h0M272 98.4h0M282 93.1h0M274.4 90.2h0M283.3 73.8h0M270.2 73.4h0M282.5 73.7h0M273 81.5h0M282 81.5h0" stroke="#12BFA6" stroke-width="2.0" stroke-linecap="round" opacity="0.88"/>
<path d="M293.8 100h0M294.2 89.9h0M288.1 99.6h0M288 98.3h0M298.7 92.5h0M298.6 100h0M291 99.2h0M297.2 89.7h0M288.4 98.9h0M297.4 94.7h0M292.8 100.4h0M302.3 98.4h0M301.5 85.8h0M293.8 95.7h0M292.1 92h0M303.6 97.3h0M291.4 98.3h0M296.6 92.3h0M291.9 92h0M303.7 97.7h0M291.2 97.5h0M293.7 100.7h0M292.4 97h0M303.5 96.8h0M295.7 96.9h0M301.9 90.8h0M297.6 98.7h0M289.1 99.3h0M289.6 98.4h0M293 96.6h0M294.5 91.2h0M294.2 98.5h0M298.4 94.4h0M291.5 98h0M301.1 97.5h0M288.2 93h0M298.6 87.8h0M290.9 97.4h0M298.9 94.7h0M290 94.7h0M292.8 100.1h0M297.7 100.4h0M298.7 99h0M300.3 95.2h0M301.1 99.8h0M295 92.7h0M289.5 91.6h0M303.4 101.5h0M301.4 99.5h0M288 91.5h0M301.1 97.7h0M301.6 96.6h0M288.2 90h0M297.8 101h0M292.2 100.2h0M303.7 89.8h0M302.6 92h0M291.4 93.1h0M297.6 89.3h0M295.2 100.3h0M290.9 97.5h0M299.7 99.3h0M294.1 99.7h0M293.7 99.9h0M288.2 97.1h0M301.8 92.8h0M299.5 99.9h0M296.2 98h0M295.9 89.5h0M293.4 100h0M298 100.7h0M297.1 98.3h0M287.8 97.7h0M301.1 99.7h0M297.8 95.4h0M301.6 92.3h0M300.9 94.1h0M303.1 94.2h0M296 100.6h0M294 99.8h0M290.8 100h0M294.8 96.5h0M302.7 91.3h0M296.9 101.4h0M292.7 99.9h0M298.2 99.8h0M288.8 97.3h0M290.2 93.8h0M289.4 93h0M291.8 90.7h0M289.2 99.7h0M292.6 99.7h0M300.4 98.4h0M287.9 100.5h0M300.3 100.6h0M299.9 99.9h0M292.8 89.1h0M294.8 88.4h0M295.4 92.4h0M302.1 98h0M296.8 94.4h0M291.7 95.9h0M293.7 90.8h0M297.8 86.6h0M289.9 91.2h0M299.5 93.4h0M298.3 94.7h0M293 101.7h0M289.8 98.7h0M300.5 99.3h0M300.7 96.3h0M288.9 93.1h0M293.7 101.6h0M295.8 98.1h0M292.6 100.4h0M294.8 98.2h0M298.1 87.3h0M299.9 98.1h0M295 100.5h0M300 99.9h0M294.6 100.2h0M296.8 90h0M302.5 101.4h0M299.2 95.7h0M292.6 89.3h0M289.8 101.8h0M291.3 101.9h0M296.1 100.7h0M291.8 91.6h0M299.7 91.3h0M297.4 88.6h0M298.9 100.6h0M292.2 93.3h0M292.3 100h0M292.2 99.1h0M295.7 100.8h0M295.9 100.5h0M294.4 98.3h0M303.5 99.4h0M291.9 85.2h0M291 95.2h0M300.8 94.6h0M290.6 100.8h0M290.9 95.2h0M289.3 93.4h0M298.2 100.6h0M303.2 101.3h0M293.8 97.8h0M298.2 92.9h0M296 96h0M290.8 39.1h0M303.3 81.6h0M303.7 81.1h0M301.2 80.2h0" stroke="#619CFF" stroke-width="2.0" stroke-linecap="round" opacity="0.88"/>
<path d="M319.4 89.7h0M312.2 87.3h0M312.9 98.4h0M321.4 88.2h0M317 100.1h0M309.5 99.2h0M311.5 90.7h0M321.5 99.2h0M314.2 99.6h0M314 98.6h0M307.9 86.4h0M308.3 99.8h0M317.2 91h0M323.4 99.7h0M309.9 77.4h0M320.9 101.8h0M320.9 96.6h0M312.1 97h0M317.1 100h0M317.5 94h0M313.1 87.8h0M309.5 99h0M322.8 91.1h0M322.9 92.8h0M315.3 98.6h0M309.6 99.3h0M318.8 87.9h0M315.8 100.4h0M315 82.3h0M310.7 93.9h0M315.1 100.1h0M314.5 98.4h0M321.5 98.8h0M311.7 95.4h0M314.2 98.3h0M313.1 98.1h0M313.3 74.9h0M314.7 100.7h0M323.4 91.5h0M317.2 95.4h0M312.1 98.9h0M313.9 101h0M309.5 98.8h0M309.7 88.2h0M320 86.1h0M312.3 85.8h0M311.8 87.5h0M312.6 98.9h0M313.2 94.4h0M322.5 83.6h0M315.3 76.6h0M323.4 90.3h0M318.1 98.4h0M323.1 91.2h0M321.9 99.3h0M318.3 88.4h0M311.5 99.8h0M317.6 97.3h0M323.2 95.4h0M316.2 82.2h0M320.8 99.1h0M320.3 96.4h0M315.8 101.8h0M314.2 100.2h0M313.2 83.6h0M319.1 100.4h0M316 100.4h0M311.4 87.6h0M307.9 87.9h0M320.2 87.5h0M321.2 93.8h0M321.3 99.2h0M318.8 99.3h0M312.3 86.8h0M310 96.9h0M319.1 85.4h0M320.2 100.4h0M320.3 100.6h0M309.6 87.8h0M309.1 85.7h0M309.2 100.7h0M321.9 92.7h0M308.4 98.6h0M319.3 99.7h0M319.1 97.2h0M312.6 98.9h0M311.3 89.8h0M321.7 99.5h0M314 98.4h0M317 83h0M312 99.7h0M320.2 98.2h0M323.8 98.7h0M321.3 98.9h0M309.9 99h0M322.7 89.8h0M316.1 99.3h0M315.4 98.6h0M315.5 84.7h0M318.2 100.3h0M323.8 98.8h0M313.9 86.8h0M315.4 99.9h0M319.6 100h0M313.9 79.6h0M322.2 95.8h0M313.7 93.8h0M317.2 100.9h0M313.5 78.9h0M317.4 100.1h0M311.9 98.7h0M315 98.3h0M311.2 96.2h0M320.4 100.2h0M315 99.8h0M308.6 97.2h0M318.9 92.6h0M312.7 84.1h0M318.4 96.5h0M308.4 101.3h0M312.4 94.1h0M310.8 99.8h0M319.4 98.5h0M318.4 88h0M310.9 96.2h0M316.4 92.4h0M311.6 100.6h0M321.8 102.1h0M312.7 90.7h0M312.7 91.2h0M320.1 99.1h0M314 87.8h0M308.4 102.2h0M320.2 98.9h0M316.7 99.9h0M308.5 98.4h0M307.9 99.9h0M320.1 92.7h0M319.6 98.6h0M317.5 99.9h0M313.4 100h0M319.6 99.1h0M309.7 100.1h0M311.9 100.3h0M322.1 99.6h0M319.9 99.5h0M312 96.3h0M313.2 81.8h0M322.3 100h0M308.1 87.2h0" stroke="#F564E3" stroke-width="2.0" stroke-linecap="round" opacity="0.88"/>
<line x1="215.4" y1="51.6" x2="215.4" y2="77.2" stroke="#1a1a1a" stroke-width="1.1"/>
<line x1="215.4" y1="93.7" x2="215.4" y2="102.7" stroke="#1a1a1a" stroke-width="1.1"/>
<line x1="212.5" y1="51.6" x2="218.3" y2="51.6" stroke="#1a1a1a" stroke-width="1.1"/>
<line x1="212.5" y1="102.7" x2="218.3" y2="102.7" stroke="#1a1a1a" stroke-width="1.1"/>
<rect x="207.9" y="77.2" width="15" height="16.5" rx="0.8" fill="#fff" fill-opacity="0.2" stroke="#000" stroke-width="1.2"/>
<line x1="207.9" y1="85.8" x2="222.9" y2="85.8" stroke="#000" stroke-width="1.9"/>
<circle cx="215.4" cy="84.2" r="1.55" fill="#000"/>
<circle cx="215.4" cy="47.7" r="1.55" fill="#E8000B"/>
<circle cx="215.4" cy="49" r="1.55" fill="#E8000B"/>
<line x1="235.5" y1="66.5" x2="235.5" y2="85.4" stroke="#1a1a1a" stroke-width="1.1"/>
<line x1="235.5" y1="97.7" x2="235.5" y2="103.3" stroke="#1a1a1a" stroke-width="1.1"/>
<line x1="232.6" y1="66.5" x2="238.4" y2="66.5" stroke="#1a1a1a" stroke-width="1.1"/>
<line x1="232.6" y1="103.3" x2="238.4" y2="103.3" stroke="#1a1a1a" stroke-width="1.1"/>
<rect x="228" y="85.4" width="15" height="12.3" rx="0.8" fill="#fff" fill-opacity="0.2" stroke="#000" stroke-width="1.2"/>
<line x1="228" y1="92.3" x2="243" y2="92.3" stroke="#000" stroke-width="1.9"/>
<circle cx="235.5" cy="90.8" r="1.55" fill="#000"/>
<circle cx="235.5" cy="15.1" r="1.55" fill="#E8000B"/>
<circle cx="235.5" cy="38.3" r="1.55" fill="#E8000B"/>
<line x1="255.6" y1="37.9" x2="255.6" y2="69.9" stroke="#1a1a1a" stroke-width="1.1"/>
<line x1="255.6" y1="92.7" x2="255.6" y2="101.3" stroke="#1a1a1a" stroke-width="1.1"/>
<line x1="252.7" y1="37.9" x2="258.5" y2="37.9" stroke="#1a1a1a" stroke-width="1.1"/>
<line x1="252.7" y1="101.3" x2="258.5" y2="101.3" stroke="#1a1a1a" stroke-width="1.1"/>
<rect x="248.1" y="69.9" width="15" height="22.8" rx="0.8" fill="#fff" fill-opacity="0.2" stroke="#000" stroke-width="1.2"/>
<line x1="248.1" y1="80.8" x2="263.1" y2="80.8" stroke="#000" stroke-width="1.9"/>
<circle cx="255.6" cy="79.2" r="1.55" fill="#000"/>
<circle cx="255.6" cy="22.3" r="1.55" fill="#E8000B"/>
<circle cx="255.6" cy="32.6" r="1.55" fill="#E8000B"/>
<circle cx="255.6" cy="36.5" r="1.55" fill="#E8000B"/>
<line x1="275.7" y1="82.8" x2="275.7" y2="92.3" stroke="#1a1a1a" stroke-width="1.1"/>
<line x1="275.7" y1="99.7" x2="275.7" y2="102.7" stroke="#1a1a1a" stroke-width="1.1"/>
<line x1="272.8" y1="82.8" x2="278.6" y2="82.8" stroke="#1a1a1a" stroke-width="1.1"/>
<line x1="272.8" y1="102.7" x2="278.6" y2="102.7" stroke="#1a1a1a" stroke-width="1.1"/>
<rect x="268.2" y="92.3" width="15" height="7.4" rx="0.8" fill="#fff" fill-opacity="0.2" stroke="#000" stroke-width="1.2"/>
<line x1="268.2" y1="97.1" x2="283.2" y2="97.1" stroke="#000" stroke-width="1.9"/>
<circle cx="275.7" cy="95.7" r="1.55" fill="#000"/>
<circle cx="275.7" cy="72.9" r="1.55" fill="#E8000B"/>
<circle cx="275.7" cy="73.7" r="1.55" fill="#E8000B"/>
<circle cx="275.7" cy="74.5" r="1.55" fill="#E8000B"/>
<circle cx="275.7" cy="75.3" r="1.55" fill="#E8000B"/>
<circle cx="275.7" cy="79.6" r="1.55" fill="#E8000B"/>
<circle cx="275.7" cy="80.4" r="1.55" fill="#E8000B"/>
<circle cx="275.7" cy="81.2" r="1.55" fill="#E8000B"/>
<line x1="295.8" y1="83.8" x2="295.8" y2="92.7" stroke="#1a1a1a" stroke-width="1.1"/>
<line x1="295.8" y1="99.7" x2="295.8" y2="102.7" stroke="#1a1a1a" stroke-width="1.1"/>
<line x1="292.9" y1="83.8" x2="298.7" y2="83.8" stroke="#1a1a1a" stroke-width="1.1"/>
<line x1="292.9" y1="102.7" x2="298.7" y2="102.7" stroke="#1a1a1a" stroke-width="1.1"/>
<rect x="288.3" y="92.7" width="15" height="7" rx="0.8" fill="#fff" fill-opacity="0.2" stroke="#000" stroke-width="1.2"/>
<line x1="288.3" y1="97.1" x2="303.3" y2="97.1" stroke="#000" stroke-width="1.9"/>
<circle cx="295.8" cy="96.1" r="1.55" fill="#000"/>
<circle cx="295.8" cy="39.1" r="1.55" fill="#E8000B"/>
<circle cx="295.8" cy="78.8" r="1.55" fill="#E8000B"/>
<circle cx="295.8" cy="79.6" r="1.55" fill="#E8000B"/>
<circle cx="295.8" cy="80.4" r="1.55" fill="#E8000B"/>
<circle cx="295.8" cy="81.2" r="1.55" fill="#E8000B"/>
<line x1="315.9" y1="74.9" x2="315.9" y2="89.4" stroke="#1a1a1a" stroke-width="1.1"/>
<line x1="315.9" y1="99.7" x2="315.9" y2="102.7" stroke="#1a1a1a" stroke-width="1.1"/>
<line x1="313" y1="74.9" x2="318.8" y2="74.9" stroke="#1a1a1a" stroke-width="1.1"/>
<line x1="313" y1="102.7" x2="318.8" y2="102.7" stroke="#1a1a1a" stroke-width="1.1"/>
<rect x="308.4" y="89.4" width="15" height="10.3" rx="0.8" fill="#fff" fill-opacity="0.2" stroke="#000" stroke-width="1.2"/>
<line x1="308.4" y1="98.3" x2="323.4" y2="98.3" stroke="#000" stroke-width="1.9"/>
<circle cx="315.9" cy="93.7" r="1.55" fill="#000"/>
<line x1="203.5" y1="11" x2="327.9" y2="11" stroke="#b8b8b8" stroke-width="1.7"/>
<line x1="327.9" y1="11" x2="327.9" y2="107.1" stroke="#555" stroke-width="1.1"/>
<line x1="203.5" y1="107.1" x2="328.4" y2="107.1" stroke="#555" stroke-width="1.1"/>
<line x1="203.5" y1="10.5" x2="203.5" y2="107.6" stroke="#555" stroke-width="1.1"/>
<line x1="200.5" y1="103" x2="203.5" y2="103" stroke="#333" stroke-width="1.1"/>
<text x="197.6" y="106.47" font-size="10.2" fill="#4d4d4d" text-anchor="end">0</text>
<line x1="200.5" y1="80.65" x2="203.5" y2="80.65" stroke="#333" stroke-width="1.1"/>
<text x="197.6" y="84.12" font-size="10.2" fill="#4d4d4d" text-anchor="end">30</text>
<line x1="200.5" y1="58.3" x2="203.5" y2="58.3" stroke="#333" stroke-width="1.1"/>
<text x="197.6" y="61.77" font-size="10.2" fill="#4d4d4d" text-anchor="end">60</text>
<line x1="200.5" y1="35.95" x2="203.5" y2="35.95" stroke="#333" stroke-width="1.1"/>
<text x="197.6" y="39.42" font-size="10.2" fill="#4d4d4d" text-anchor="end">90</text>
<line x1="200.5" y1="13.6" x2="203.5" y2="13.6" stroke="#333" stroke-width="1.1"/>
<text x="197.6" y="17.07" font-size="10.2" fill="#4d4d4d" text-anchor="end">120</text>
<line x1="215.4" y1="107.1" x2="215.4" y2="110.1" stroke="#333" stroke-width="1.1"/>
<text x="215.4" y="120.5" font-size="10.9" fill="#4d4d4d" text-anchor="middle">MH</text>
<line x1="235.5" y1="107.1" x2="235.5" y2="110.1" stroke="#333" stroke-width="1.1"/>
<text x="235.5" y="120.5" font-size="10.9" fill="#4d4d4d" text-anchor="middle">BA</text>
<line x1="255.6" y1="107.1" x2="255.6" y2="110.1" stroke="#333" stroke-width="1.1"/>
<text x="255.6" y="120.5" font-size="10.9" fill="#4d4d4d" text-anchor="middle">GA</text>
<line x1="275.7" y1="107.1" x2="275.7" y2="110.1" stroke="#333" stroke-width="1.1"/>
<text x="275.7" y="120.5" font-size="10.9" fill="#4d4d4d" text-anchor="middle">DH</text>
<line x1="295.8" y1="107.1" x2="295.8" y2="110.1" stroke="#333" stroke-width="1.1"/>
<text x="295.8" y="120.5" font-size="10.9" fill="#4d4d4d" text-anchor="middle">MN</text>
<line x1="315.9" y1="107.1" x2="315.9" y2="110.1" stroke="#333" stroke-width="1.1"/>
<text x="315.9" y="120.5" font-size="10.9" fill="#4d4d4d" text-anchor="middle">NO</text>
<text x="265.7" y="133.8" font-size="12" font-weight="normal" fill="#000" text-anchor="middle" textLength="32.8" lengthAdjust="spacingAndGlyphs">Station</text>
<text transform="translate(178.6 58.3) rotate(-90)" font-size="10.9" font-weight="normal" fill="#000" text-anchor="middle" textLength="49.4" lengthAdjust="spacingAndGlyphs">BOD(mg/l)</text>
<path d="M31.9 240.7h0M30.3 240.6h0M38.3 240.8h0M37.3 240.7h0M34.2 239.2h0M36.5 239h0M38.8 240.8h0M28.8 238.3h0M42.7 240.8h0M39.8 240.3h0M35.6 239.7h0M29 240.8h0M37.4 240.7h0M39 238.9h0M41.5 240.8h0M35.1 238.2h0M45 240.6h0M44.5 240.8h0M41.2 238.7h0M30 240.7h0M33.7 239.2h0M41.2 240.5h0M42.2 238.2h0M37.7 238.9h0M29.6 240.3h0M35.6 239.5h0M29.7 238.1h0M38.7 239.2h0M38.5 238.3h0M28.7 240.7h0M29 240.8h0M31.9 237.1h0M38.3 238.5h0M44.6 240.5h0M29.2 240.5h0M42.8 240.7h0M36.8 240.7h0M42.1 240.8h0M32.9 238.6h0M39.5 240.4h0M37.1 238.5h0M33.9 240.8h0M28.8 240.8h0M43.5 240.3h0M41.4 239.2h0M31.8 239.2h0M41.7 239.9h0M42.5 240.6h0M31.9 237.7h0M41.2 239.2h0M38 239h0M39.6 239.6h0M41.3 240.3h0M35.5 240.8h0M34.5 240h0M34.7 240.4h0M40.7 240.7h0M38.5 240.4h0M43.4 240.8h0M36.3 240.7h0M42.7 240.7h0M40.3 240.8h0M35 240.4h0M43.1 238.9h0M45.3 239.9h0M30.8 240.4h0M29.4 239.2h0M36.4 239.5h0M30 238.2h0M32.6 240.4h0M30.4 239.2h0M38.2 240.6h0M42.3 240.4h0M34 239.3h0M38.7 238.1h0M39 240.5h0M28.8 240.6h0M31.2 240h0M43.8 239.8h0M38.4 240.8h0M32.8 239h0M31.6 238.4h0M35.1 240.8h0M36.5 240.5h0M35.6 239h0M45.2 240.8h0M34.8 239.5h0M34.5 240.8h0M37.4 240.4h0M40 240.8h0M35.7 240.6h0M31.9 240.8h0M33.9 240.1h0M33.1 240.7h0M40.3 239h0M30.2 239.6h0M37.4 240.8h0M35.7 239.9h0M34.2 237.6h0M42.9 237.6h0M34.4 239.6h0M30 240.7h0M39.4 238.9h0M33 240.7h0M38.8 237.5h0M44.4 240.8h0M39.6 240.8h0M30.2 240.8h0M36.5 240.8h0M43.7 239.2h0M28.6 240.7h0M41.8 240.8h0M43 240.7h0M42 240.7h0M33.8 240.8h0M30.4 240.8h0M37.8 240.1h0M34 238.9h0M41.5 238.6h0M30.3 239h0M33.8 240.7h0M30 240.1h0M43.5 238.9h0M40.2 240.8h0M30.9 240.6h0M42.3 240.4h0M37.1 240.6h0M40.2 238.6h0M37.9 238.7h0M43.6 240.7h0M29.7 240.7h0M42.3 237.9h0M37.6 240.1h0M29.8 240h0M39.9 240.7h0M44.4 238.9h0M41.7 240.6h0M41.6 240.2h0M43.8 240.2h0M36.5 240.5h0M40 238h0M36.7 239.2h0M43.5 240.6h0M38 240.4h0M44.9 240.2h0M36.7 238.5h0M40.6 240.8h0M45.5 240.5h0M29.6 240.7h0M32.8 240.6h0M36 174.1h0M29.6 189.4h0M44 196.1h0M42.8 204.7h0M35.9 212.9h0M38.7 210.6h0M45.1 210.9h0M40.8 216.6h0M29.5 215.4h0M34.2 208.9h0M35.6 208.9h0M42.7 216.9h0M32.1 235.8h0M28.6 223.7h0M29.2 224.5h0M33.4 228.7h0M38 231.1h0M33.4 229.9h0M40.2 232.1h0M36.4 231.8h0M33.2 227.7h0M36.3 220.7h0M31.5 230.2h0M43.5 234.2h0M42.4 234.1h0M31.3 228.1h0" stroke="#F8766D" stroke-width="2.0" stroke-linecap="round" opacity="0.88"/>
<path d="M66.9 239.4h0M55.9 240.6h0M55.7 240.7h0M55.2 240.6h0M64.2 238.3h0M62.6 240.1h0M56.4 238.5h0M66.5 240.2h0M54.5 240.7h0M59.9 240.6h0M54.3 238.4h0M66.2 240.7h0M60 240.6h0M61.2 239.5h0M62 238.6h0M67.2 240.8h0M63.7 240.4h0M54.7 238.6h0M61.5 238h0M59.6 240.5h0M50.3 240.8h0M52.4 240h0M53.1 240.4h0M57.3 240h0M52.2 240.7h0M65.2 239.1h0M60.3 240.6h0M54 240.7h0M51.2 238h0M57.5 240.7h0M55.4 240.6h0M62 240.8h0M51.7 239.2h0M65.8 240.4h0M61.5 239.3h0M63 240.8h0M61.8 240.4h0M53.1 240.4h0M65.4 240.1h0M55.6 240.1h0M62.7 239.8h0M67.2 239.6h0M61.2 238.5h0M66.9 240.8h0M58.1 240.7h0M66 239.8h0M50.5 240.6h0M60.8 240.7h0M66.5 238.9h0M59.3 239.8h0M54.2 239.2h0M50.5 238.8h0M63.9 239.9h0M59 239.2h0M67 240.4h0M62 238.6h0M61.5 240.7h0M54.5 240.7h0M50.2 240.2h0M51.1 240.6h0M50 238.7h0M63.9 240.7h0M50.1 239.2h0M58.8 239h0M55.5 238.9h0M63.2 238h0M67 240h0M51.3 238.6h0M55.8 240.8h0M52.1 240.7h0M62 240.3h0M57.1 239.2h0M65.3 239.5h0M59.8 239h0M51.2 240h0M52 240.7h0M62.6 239.4h0M64.2 240.8h0M56.7 240.8h0M60.8 240.8h0M58.7 240.8h0M59.2 240.7h0M60.9 238.7h0M49.9 239.2h0M51.8 239.2h0M52.2 239.7h0M50 240.3h0M53.4 240.5h0M54.1 240.8h0M56.1 240.5h0M62.7 240.7h0M65.5 240.6h0M65.3 240.8h0M59.6 240.3h0M60.6 240.6h0M60.6 239.8h0M64.4 240.7h0M63.2 238.7h0M53.4 240.6h0M56.5 239.1h0M59.8 240.8h0M51.6 240.8h0M54.7 240.8h0M59 239.8h0M59.2 239.3h0M51.2 240.8h0M51.4 238.8h0M59.1 240h0M60.3 240.7h0M60.1 239.2h0M66.3 240.6h0M59.2 240.4h0M59.2 237.9h0M66.5 239.8h0M59.7 239.3h0M53.7 240.8h0M57.3 240.3h0M67 239.4h0M61.5 239.1h0M56.1 238.5h0M59.1 240.4h0M51.1 240.7h0M55.9 240.4h0M56.6 240.2h0M66.7 240.7h0M55.4 240.6h0M63.7 240.3h0M56.3 240.8h0M66.6 240.5h0M66.6 240h0M64.2 239.9h0M59.1 240.7h0M56.4 240.7h0M65.8 240.7h0M65.4 240.7h0M58.3 240.8h0M63.7 240.7h0M63.5 240.5h0M65.3 239.2h0M65.3 239.1h0M52.5 240.8h0M65 240.7h0M58.2 238.9h0M65.9 240.7h0M60.4 240.3h0M50.8 238.4h0M52.3 240.8h0M57.9 240h0M59.2 240.8h0M65.9 239h0M66.9 181.4h0M56.6 219.7h0M54.3 226.8h0M65.6 232.2h0M58.7 221h0M65.3 236.4h0M51.7 226.8h0M58.9 226.9h0M53.1 233h0M66.9 223.6h0M60.5 218.6h0M62.9 220.2h0M65.9 226.3h0M65.1 222.6h0M50.7 222.6h0M51.2 220h0" stroke="#B79F00" stroke-width="2.0" stroke-linecap="round" opacity="0.88"/>
<path d="M84 225.4h0M80.9 233.2h0M79.3 232.6h0M73.6 229.6h0M82.6 239.3h0M73.7 225.6h0M88.8 230.6h0M73.8 238.8h0M86.4 232.2h0M76.1 240.1h0M85.3 228.9h0M82.1 232.8h0M82.2 232.4h0M73.5 233.2h0M72.9 231.9h0M85.3 238.3h0M88.2 236.1h0M86.4 238.3h0M81.5 234.6h0M74.7 232h0M79.7 236.8h0M77 239.8h0M82.4 229.7h0M80.4 238.2h0M80.2 238.4h0M86 238.2h0M72.8 227h0M83.3 239.7h0M83.4 234.5h0M85.2 235.9h0M73.3 232.6h0M72.1 238.2h0M87.5 232.7h0M80.5 227.6h0M87.8 234.1h0M75 240.4h0M79.8 233.3h0M72.1 230.6h0M82.8 232.5h0M86 239.5h0M87.2 239.4h0M87.6 238.6h0M85.5 232h0M85.6 234.1h0M83.7 238.7h0M88.1 239.2h0M81.5 228.7h0M74.1 236.6h0M82.7 239.4h0M86.6 230.5h0M72.9 227.1h0M80.9 238.6h0M77.2 233.5h0M79.5 231.3h0M83.9 234.9h0M82.9 238.6h0M88.4 237.8h0M73 230.5h0M72.4 228.8h0M79.9 232.2h0M74.7 233.2h0M86.3 238.8h0M83.8 233.3h0M81.1 235.5h0M72.2 236.2h0M74.3 227.9h0M85.5 237.6h0M84.4 232.4h0M84.7 229.5h0M78.7 238.2h0M83.4 239.1h0M86.8 233h0M83.4 236h0M76 233.4h0M77.4 231.7h0M76.3 228.1h0M72.8 238.9h0M77.8 226.2h0M86.2 227.2h0M82.7 239.2h0M82.1 234.8h0M77.2 228.9h0M82.9 230.4h0M77.8 239.1h0M82.5 225.3h0M84.3 232.8h0M85.8 230.7h0M81 226.6h0M83.1 230h0M77.2 236.4h0M88.8 230.3h0M72.9 239.2h0M78.3 236h0M82.5 233.1h0M88.1 234.1h0M79.8 233.2h0M85.4 238.7h0M73.9 239.2h0M74.1 239.4h0M84.6 234.8h0M78.5 234.9h0M88 237.6h0M77.6 238.8h0M77.9 239.4h0M79 237.2h0M76.4 233.1h0M83.8 235h0M81.2 234.2h0M79 231.9h0M74.7 238.9h0M77.4 231.8h0M74.7 238.4h0M81.6 231.6h0M79 229.9h0M79.2 231.8h0M87.9 235.9h0M73.1 232h0M78 228.9h0M75.2 238.2h0M80.4 231.5h0M87.9 225.9h0M88.4 239.7h0M82.3 232.3h0M74.1 234.8h0M73.7 237.7h0M86.7 232.7h0M76.3 232.7h0M81.2 238.4h0M80.6 239.1h0M76.8 238.5h0M72.1 238.4h0M80.1 231.3h0M87.8 233.9h0M78.8 232.8h0M81.6 239.4h0M74.8 237.5h0M82 229.4h0M84.3 238.5h0M71.8 232.8h0M82.2 238.6h0M80.6 231.8h0M86.4 226.2h0M75.3 229.5h0M75.3 239.1h0M82.2 238.6h0M83.4 226.5h0M84.8 228.3h0M87.3 238h0M85.8 226.5h0M79.4 229.4h0M78.4 152.5h0M85.3 206.6h0M82.9 213.4h0M80.9 215.8h0" stroke="#00BA38" stroke-width="2.0" stroke-linecap="round" opacity="0.88"/>
<path d="M101.2 240.7h0M108.5 239.3h0M104.9 240.8h0M102.8 240.1h0M102.5 240.4h0M105.1 240.5h0M109.3 239.7h0M99.3 240.3h0M108.4 240.7h0M107.2 240.8h0M99 239.2h0M101 239.6h0M100.5 239.2h0M105.4 240.4h0M101.7 239.8h0M102.6 238.7h0M96.7 240.8h0M93.9 239.2h0M96.2 240.4h0M97.2 239h0M104.4 240.7h0M98.6 240.2h0M108.9 240h0M105.4 240.8h0M98.1 240.7h0M106.1 239.1h0M103.9 240.7h0M102.4 240.4h0M96 240.8h0M99.5 239.2h0M96.7 240.7h0M106.2 239.5h0M94.7 240.8h0M106 240.6h0M96.2 238.6h0M102.3 239.1h0M97 240.7h0M98.8 240h0M107.5 240.2h0M104.1 239.2h0M100.2 239.7h0M95.6 240.1h0M104.1 239.5h0M98.9 239.6h0M106.2 240.4h0M97.7 240.4h0M96.8 240.8h0M108.4 239.1h0M102.8 240.8h0M95.1 238.9h0M104.8 240.4h0M94.5 239h0M105.5 239.1h0M107.7 239.1h0M101.3 239.4h0M109.8 239.4h0M104.8 239.6h0M102 240.4h0M107.8 240.8h0M105.1 239.7h0M104.7 240.2h0M110 240.5h0M94.5 240.4h0M107 239.3h0M109.3 239.2h0M109.7 240.5h0M95.1 239.8h0M95 240.8h0M104.9 240.8h0M98.7 239.7h0M106.8 240.7h0M99.1 239.7h0M106 240.7h0M101.4 240.8h0M95.5 240.7h0M107 240.8h0M110.4 240.3h0M110.1 240.6h0M100.5 238.7h0M108.5 239.9h0M105.7 240.8h0M103.5 239.2h0M94.3 239.4h0M103.7 240.8h0M102.5 240.5h0M98 239.1h0M109.1 240.7h0M108.8 240.6h0M98.5 238.5h0M93.5 240.8h0M105 240.4h0M94.8 240.8h0M108.4 240.7h0M104.5 239.4h0M94 239.3h0M106.3 240.8h0M95.7 240.7h0M97.2 239.8h0M104.1 240.8h0M94.2 240h0M103.4 239.4h0M98 239.5h0M102.2 240.8h0M96.8 239.6h0M103.2 240.1h0M105.1 240.4h0M106.8 240.3h0M98.6 240.7h0M98.3 240.4h0M99.6 239.6h0M104.1 238.9h0M108.4 240.6h0M95.7 240.7h0M99.3 240.5h0M108.7 239.6h0M99.6 239.5h0M96.3 240.8h0M100.3 240.8h0M98.9 239.8h0M108.4 239.3h0M105.3 240.8h0M102.7 238.6h0M100.5 240.7h0M94.5 240.8h0M107.3 239.5h0M93.9 240.8h0M96.2 240.7h0M110 239.4h0M107.1 240.8h0M107 239.4h0M105.7 240.7h0M98 239.5h0M95.9 239.2h0M97.6 240.7h0M105 239.6h0M105.2 240.7h0M99.4 239.3h0M109.2 239.9h0M106.5 240.3h0M100.4 240.7h0M97 240.6h0M108.5 239.5h0M102.1 239.2h0M96.1 239.4h0M104.5 240h0M100.2 240.7h0M106.3 239.8h0M110.4 239.5h0M96.5 240.1h0M105.8 239.7h0M97.6 232.5h0M106.5 229.6h0M108.9 232.1h0M106.6 223.1h0M104 221.8h0M94.5 230.4h0M104.8 228.5h0M94.5 235.8h0M107 230h0M108.6 223.5h0M99.1 237h0M95.7 225h0M100.4 225.2h0M109.4 233.2h0" stroke="#12BFA6" stroke-width="2.0" stroke-linecap="round" opacity="0.88"/>
<path d="M126.2 238.7h0M115.2 240.5h0M120 239.3h0M115.4 240.3h0M121.9 239.8h0M121.3 240.4h0M116.1 240.7h0M116.8 238.7h0M131.8 240.6h0M119.3 240h0M121.4 240.3h0M131.9 240.7h0M127.9 240.4h0M121.4 239.6h0M115.1 240.8h0M127.6 240.8h0M131.3 239.1h0M129.4 240h0M129.7 240.5h0M128.3 239.4h0M125.3 240.7h0M131.6 240.8h0M126.5 239.3h0M122.9 240.5h0M117.8 240.7h0M130 240.6h0M127.2 239h0M120.2 240.8h0M120.7 240.7h0M131.9 240.3h0M131.4 240.6h0M124.6 240.3h0M128 239.4h0M126.9 240h0M115.9 240.8h0M117.2 238.4h0M118.8 240.7h0M130.9 239.9h0M124.9 239.6h0M115 240.5h0M120.7 240.3h0M129.5 240.6h0M123.5 239.4h0M115.1 240.7h0M131.4 240.5h0M123.4 240.5h0M117.7 239.5h0M123.1 240.7h0M128.5 240.8h0M119 238.9h0M126.5 239.2h0M115.7 238.5h0M119.1 240.8h0M117.1 240.1h0M127.9 240.7h0M118.4 238.7h0M125.1 240.8h0M120.3 239.4h0M123.3 238.8h0M122.3 239.5h0M131.5 239.8h0M131.7 240.1h0M116.6 240.6h0M131 240.7h0M127.8 238.8h0M127.7 240.8h0M119.4 240.8h0M127.8 239.1h0M122.7 240.5h0M128.3 240.6h0M127.2 240.7h0M128.3 240.6h0M120.4 238.1h0M130.6 239.2h0M121.4 240.8h0M119.9 240.3h0M127.3 240h0M129.7 240.6h0M124.4 240.8h0M114.9 240.8h0M116 238.7h0M124.2 240.4h0M131.1 239.9h0M129.1 239h0M131.6 238.9h0M123.9 240.6h0M124.7 240.7h0M125.3 240.6h0M126.6 240.6h0M124 240.6h0M119.8 239.3h0M117.5 239.9h0M127.5 240.4h0M124.7 240.7h0M122.8 238.5h0M126.1 240.8h0M119.5 240.4h0M123.8 239.7h0M116.3 240h0M128 240.4h0M129.6 240.6h0M114.9 239.9h0M122.7 240.5h0M118.8 240.6h0M115.8 240h0M119.9 238.9h0M131.3 240.6h0M117.8 240.8h0M126.5 240.7h0M116.8 240.7h0M121.1 240.8h0M122.1 238.6h0M130.1 240.8h0M130.5 240.8h0M125.6 239.5h0M128.6 239.6h0M132.1 240.6h0M120.5 240.6h0M118.7 238.6h0M122.5 240.5h0M131.9 239.6h0M122.2 239.2h0M127 238.6h0M124 239h0M121 240.6h0M131 238.1h0M128.4 240.6h0M123.3 239.8h0M123.1 239.3h0M123.1 239.4h0M127.6 239.6h0M126.5 239.4h0M128.3 239h0M122.3 240.6h0M130.9 240.7h0M132.1 239.1h0M127.9 239.6h0M130 240.7h0M123.8 240.8h0M122.8 240.4h0M131.7 240h0M121.4 240.8h0M127.7 240.2h0M121.2 239.8h0M126 240.4h0M114.9 240.7h0M126 240.3h0M131.9 239.1h0M129.2 239.6h0M121.2 240.5h0M122 225.3h0M115.9 235.1h0M128.5 237.8h0M126 229.5h0M128.1 224.5h0M121.5 235.6h0M118.6 228.3h0M129.6 223.5h0M122.6 231.1h0M118 231.1h0M121 218.8h0M118 229.8h0M120.5 229.2h0M127.7 223.8h0M127.7 225.7h0M121.3 233.2h0" stroke="#619CFF" stroke-width="2.0" stroke-linecap="round" opacity="0.88"/>
<path d="M146.5 239.2h0M152.2 240.2h0M143.5 238.6h0M136.7 239.1h0M146.4 240.5h0M141.9 240.8h0M141.1 240.7h0M141.5 238.8h0M142.6 239.9h0M146.5 240.8h0M148.1 240.8h0M139.3 238.9h0M142.6 240.7h0M147.5 239h0M147.9 240.4h0M151 240.6h0M148.3 240.5h0M144 240.6h0M150.2 240.8h0M141.4 240.4h0M144.9 239.4h0M148.2 239.9h0M142.2 240.8h0M143.3 239.1h0M153 240.8h0M139.9 240.6h0M144.9 240.7h0M145.4 239.7h0M149.4 239.6h0M146.8 240.8h0M145 238.9h0M149.9 240.7h0M144.6 240.7h0M153.5 240.5h0M145.8 240.7h0M150.7 240.5h0M145.2 239.3h0M136.8 240.1h0M139.2 240.5h0M149.3 240.2h0M152.3 240h0M139.3 240.7h0M138.9 240.8h0M144.4 240.3h0M140.9 240.6h0M143.4 240.7h0M139.3 240.5h0M137.7 239.1h0M149.6 240.7h0M149 239.1h0M144 239.1h0M140.9 239.2h0M152.6 240.8h0M153.4 240.6h0M138.3 240.5h0M152.9 240.7h0M137.3 238.6h0M146.8 240.7h0M153.5 239.3h0M143 238.8h0M147.8 239.6h0M149.7 239.7h0M145.9 240.7h0M153.7 239.2h0M139.7 240.5h0M151.4 240h0M136.9 240.7h0M147.7 239.7h0M150.7 239.3h0M138.1 238.8h0M141.8 239.9h0M144.9 240.7h0M151.9 238.8h0M152.9 240.2h0M145.9 239.5h0M138.5 240.8h0M143.2 240.6h0M144.2 239.3h0M147 238.4h0M138.5 239h0M148.4 240.8h0M147.9 239h0M150.8 239.4h0M137.9 239.7h0M142.8 239.7h0M138.9 240.5h0M140.2 240.7h0M147.6 240.7h0M146 240h0M151 240.8h0M151.7 240.8h0M145.4 240.4h0M151.1 240.6h0M144.3 240.7h0M149.6 240.7h0M137.8 240.7h0M149.5 240.3h0M146.3 239.2h0M138.7 240.8h0M153.7 240.7h0M146.8 240.2h0M142.9 240.7h0M139.6 239.4h0M142.5 239h0M148.5 238h0M151 240.3h0M142 240.1h0M143.7 239.6h0M146.3 239.5h0M148.4 238.8h0M152.1 240.8h0M153.3 238.7h0M144.4 239.4h0M152.1 239.4h0M139 240.3h0M137.3 240.7h0M143.3 240h0M148.3 240.2h0M136.9 240.7h0M146.8 239.2h0M151.6 239.8h0M143.4 238.6h0M142.2 239.5h0M151.9 239.2h0M143.5 240.1h0M148.9 240.5h0M151.7 239.6h0M139.8 240.7h0M140.4 240.5h0M146.9 240.5h0M151.7 240.6h0M143.5 240.8h0M141.4 239.7h0M140.6 240.4h0M145.2 239.5h0M146.4 240.6h0M146.2 240.6h0M137.6 240.8h0M145.9 240.7h0M151.8 240h0M151.7 240.7h0M142.1 239.5h0M152.3 240.2h0M148.5 240.6h0M150.1 240.4h0M142.2 239.9h0M139.7 240.7h0M148.8 239.6h0M137.6 240.5h0M148.9 240.8h0M144.2 228.1h0M140.4 219.3h0M144.5 233.1h0M150.5 235.7h0M153.5 229h0M143.4 218.7h0M137.4 229h0M139.1 235.5h0M141.2 229.9h0M144.6 226.1h0M139.5 224.3h0M147.3 231.6h0M153.3 220.3h0M140.4 220.8h0M142.8 224.1h0M152.1 228.2h0" stroke="#F564E3" stroke-width="2.0" stroke-linecap="round" opacity="0.88"/>
<line x1="36.9" y1="237" x2="36.9" y2="239.1" stroke="#1a1a1a" stroke-width="1.1"/>
<line x1="36.9" y1="240.8" x2="36.9" y2="240.6" stroke="#1a1a1a" stroke-width="1.1"/>
<line x1="34" y1="237" x2="39.8" y2="237" stroke="#1a1a1a" stroke-width="1.1"/>
<line x1="34" y1="240.6" x2="39.8" y2="240.6" stroke="#1a1a1a" stroke-width="1.1"/>
<rect x="28.9" y="239.1" width="16" height="1.7" rx="0.8" fill="#fff" fill-opacity="0.2" stroke="#000" stroke-width="1.2"/>
<line x1="28.9" y1="240.3" x2="44.9" y2="240.3" stroke="#000" stroke-width="1.9"/>
<circle cx="36.9" cy="239.4" r="1.55" fill="#000"/>
<circle cx="36.9" cy="174.1" r="1.55" fill="#E8000B"/>
<circle cx="36.9" cy="189.4" r="1.55" fill="#E8000B"/>
<circle cx="36.9" cy="196.1" r="1.55" fill="#E8000B"/>
<circle cx="36.9" cy="204.7" r="1.55" fill="#E8000B"/>
<circle cx="36.9" cy="207.7" r="1.55" fill="#E8000B"/>
<circle cx="36.9" cy="208.5" r="1.55" fill="#E8000B"/>
<circle cx="36.9" cy="209.3" r="1.55" fill="#E8000B"/>
<circle cx="36.9" cy="210.1" r="1.55" fill="#E8000B"/>
<circle cx="36.9" cy="210.9" r="1.55" fill="#E8000B"/>
<circle cx="36.9" cy="211.7" r="1.55" fill="#E8000B"/>
<circle cx="36.9" cy="212.5" r="1.55" fill="#E8000B"/>
<circle cx="36.9" cy="213.3" r="1.55" fill="#E8000B"/>
<circle cx="36.9" cy="214.1" r="1.55" fill="#E8000B"/>
<circle cx="36.9" cy="214.9" r="1.55" fill="#E8000B"/>
<circle cx="36.9" cy="215.7" r="1.55" fill="#E8000B"/>
<circle cx="36.9" cy="216.5" r="1.55" fill="#E8000B"/>
<circle cx="36.9" cy="220" r="1.55" fill="#E8000B"/>
<circle cx="36.9" cy="220.8" r="1.55" fill="#E8000B"/>
<circle cx="36.9" cy="221.6" r="1.55" fill="#E8000B"/>
<circle cx="36.9" cy="222.4" r="1.55" fill="#E8000B"/>
<circle cx="36.9" cy="223.2" r="1.55" fill="#E8000B"/>
<circle cx="36.9" cy="224" r="1.55" fill="#E8000B"/>
<circle cx="36.9" cy="224.8" r="1.55" fill="#E8000B"/>
<circle cx="36.9" cy="225.6" r="1.55" fill="#E8000B"/>
<circle cx="36.9" cy="226.4" r="1.55" fill="#E8000B"/>
<circle cx="36.9" cy="227.2" r="1.55" fill="#E8000B"/>
<circle cx="36.9" cy="228" r="1.55" fill="#E8000B"/>
<circle cx="36.9" cy="228.8" r="1.55" fill="#E8000B"/>
<circle cx="36.9" cy="229.6" r="1.55" fill="#E8000B"/>
<circle cx="36.9" cy="230.4" r="1.55" fill="#E8000B"/>
<circle cx="36.9" cy="231.2" r="1.55" fill="#E8000B"/>
<circle cx="36.9" cy="232" r="1.55" fill="#E8000B"/>
<circle cx="36.9" cy="232.8" r="1.55" fill="#E8000B"/>
<circle cx="36.9" cy="233.6" r="1.55" fill="#E8000B"/>
<circle cx="36.9" cy="234.4" r="1.55" fill="#E8000B"/>
<circle cx="36.9" cy="235.2" r="1.55" fill="#E8000B"/>
<circle cx="36.9" cy="236" r="1.55" fill="#E8000B"/>
<line x1="58.55" y1="237.5" x2="58.55" y2="239.3" stroke="#1a1a1a" stroke-width="1.1"/>
<line x1="58.55" y1="240.8" x2="58.55" y2="240.6" stroke="#1a1a1a" stroke-width="1.1"/>
<line x1="55.65" y1="237.5" x2="61.45" y2="237.5" stroke="#1a1a1a" stroke-width="1.1"/>
<line x1="55.65" y1="240.6" x2="61.45" y2="240.6" stroke="#1a1a1a" stroke-width="1.1"/>
<rect x="50.55" y="239.3" width="16" height="1.5" rx="0.8" fill="#fff" fill-opacity="0.2" stroke="#000" stroke-width="1.2"/>
<line x1="50.55" y1="240.3" x2="66.55" y2="240.3" stroke="#000" stroke-width="1.9"/>
<circle cx="58.55" cy="239.6" r="1.55" fill="#000"/>
<circle cx="58.55" cy="181.4" r="1.55" fill="#E8000B"/>
<circle cx="58.55" cy="218.4" r="1.55" fill="#E8000B"/>
<circle cx="58.55" cy="219.2" r="1.55" fill="#E8000B"/>
<circle cx="58.55" cy="220" r="1.55" fill="#E8000B"/>
<circle cx="58.55" cy="220.8" r="1.55" fill="#E8000B"/>
<circle cx="58.55" cy="221.6" r="1.55" fill="#E8000B"/>
<circle cx="58.55" cy="222.4" r="1.55" fill="#E8000B"/>
<circle cx="58.55" cy="223.2" r="1.55" fill="#E8000B"/>
<circle cx="58.55" cy="224" r="1.55" fill="#E8000B"/>
<circle cx="58.55" cy="224.8" r="1.55" fill="#E8000B"/>
<circle cx="58.55" cy="225.6" r="1.55" fill="#E8000B"/>
<circle cx="58.55" cy="226.4" r="1.55" fill="#E8000B"/>
<circle cx="58.55" cy="227.2" r="1.55" fill="#E8000B"/>
<circle cx="58.55" cy="228" r="1.55" fill="#E8000B"/>
<circle cx="58.55" cy="228.8" r="1.55" fill="#E8000B"/>
<circle cx="58.55" cy="229.6" r="1.55" fill="#E8000B"/>
<circle cx="58.55" cy="230.4" r="1.55" fill="#E8000B"/>
<circle cx="58.55" cy="231.2" r="1.55" fill="#E8000B"/>
<circle cx="58.55" cy="232" r="1.55" fill="#E8000B"/>
<circle cx="58.55" cy="232.8" r="1.55" fill="#E8000B"/>
<circle cx="58.55" cy="233.6" r="1.55" fill="#E8000B"/>
<circle cx="58.55" cy="234.4" r="1.55" fill="#E8000B"/>
<circle cx="58.55" cy="235.2" r="1.55" fill="#E8000B"/>
<circle cx="58.55" cy="236" r="1.55" fill="#E8000B"/>
<circle cx="58.55" cy="236.8" r="1.55" fill="#E8000B"/>
<line x1="80.2" y1="222.1" x2="80.2" y2="230.8" stroke="#1a1a1a" stroke-width="1.1"/>
<line x1="80.2" y1="238.3" x2="80.2" y2="240.4" stroke="#1a1a1a" stroke-width="1.1"/>
<line x1="77.3" y1="222.1" x2="83.1" y2="222.1" stroke="#1a1a1a" stroke-width="1.1"/>
<line x1="77.3" y1="240.4" x2="83.1" y2="240.4" stroke="#1a1a1a" stroke-width="1.1"/>
<rect x="72.2" y="230.8" width="16" height="7.5" rx="0.8" fill="#fff" fill-opacity="0.2" stroke="#000" stroke-width="1.2"/>
<line x1="72.2" y1="233.4" x2="88.2" y2="233.4" stroke="#000" stroke-width="1.9"/>
<circle cx="80.2" cy="232.6" r="1.55" fill="#000"/>
<circle cx="80.2" cy="152.5" r="1.55" fill="#E8000B"/>
<circle cx="80.2" cy="206.6" r="1.55" fill="#E8000B"/>
<circle cx="80.2" cy="213.4" r="1.55" fill="#E8000B"/>
<circle cx="80.2" cy="215.8" r="1.55" fill="#E8000B"/>
<line x1="101.85" y1="238" x2="101.85" y2="239.5" stroke="#1a1a1a" stroke-width="1.1"/>
<line x1="101.85" y1="240.8" x2="101.85" y2="240.6" stroke="#1a1a1a" stroke-width="1.1"/>
<line x1="98.95" y1="238" x2="104.75" y2="238" stroke="#1a1a1a" stroke-width="1.1"/>
<line x1="98.95" y1="240.6" x2="104.75" y2="240.6" stroke="#1a1a1a" stroke-width="1.1"/>
<rect x="93.85" y="239.5" width="16" height="1.3" rx="0.8" fill="#fff" fill-opacity="0.2" stroke="#000" stroke-width="1.2"/>
<line x1="93.85" y1="240.4" x2="109.85" y2="240.4" stroke="#000" stroke-width="1.9"/>
<circle cx="101.85" cy="240" r="1.55" fill="#000"/>
<circle cx="101.85" cy="221.6" r="1.55" fill="#E8000B"/>
<circle cx="101.85" cy="222.4" r="1.55" fill="#E8000B"/>
<circle cx="101.85" cy="223.2" r="1.55" fill="#E8000B"/>
<circle cx="101.85" cy="224" r="1.55" fill="#E8000B"/>
<circle cx="101.85" cy="224.8" r="1.55" fill="#E8000B"/>
<circle cx="101.85" cy="225.6" r="1.55" fill="#E8000B"/>
<circle cx="101.85" cy="226.4" r="1.55" fill="#E8000B"/>
<circle cx="101.85" cy="227.2" r="1.55" fill="#E8000B"/>
<circle cx="101.85" cy="228" r="1.55" fill="#E8000B"/>
<circle cx="101.85" cy="228.8" r="1.55" fill="#E8000B"/>
<circle cx="101.85" cy="229.6" r="1.55" fill="#E8000B"/>
<circle cx="101.85" cy="230.4" r="1.55" fill="#E8000B"/>
<circle cx="101.85" cy="231.2" r="1.55" fill="#E8000B"/>
<circle cx="101.85" cy="232" r="1.55" fill="#E8000B"/>
<circle cx="101.85" cy="232.8" r="1.55" fill="#E8000B"/>
<circle cx="101.85" cy="233.6" r="1.55" fill="#E8000B"/>
<circle cx="101.85" cy="234.4" r="1.55" fill="#E8000B"/>
<circle cx="101.85" cy="235.2" r="1.55" fill="#E8000B"/>
<circle cx="101.85" cy="236" r="1.55" fill="#E8000B"/>
<circle cx="101.85" cy="236.8" r="1.55" fill="#E8000B"/>
<circle cx="101.85" cy="237.6" r="1.55" fill="#E8000B"/>
<line x1="123.5" y1="238" x2="123.5" y2="239.5" stroke="#1a1a1a" stroke-width="1.1"/>
<line x1="123.5" y1="240.8" x2="123.5" y2="240.6" stroke="#1a1a1a" stroke-width="1.1"/>
<line x1="120.6" y1="238" x2="126.4" y2="238" stroke="#1a1a1a" stroke-width="1.1"/>
<line x1="120.6" y1="240.6" x2="126.4" y2="240.6" stroke="#1a1a1a" stroke-width="1.1"/>
<rect x="115.5" y="239.5" width="16" height="1.3" rx="0.8" fill="#fff" fill-opacity="0.2" stroke="#000" stroke-width="1.2"/>
<line x1="115.5" y1="240.4" x2="131.5" y2="240.4" stroke="#000" stroke-width="1.9"/>
<circle cx="123.5" cy="240" r="1.55" fill="#000"/>
<circle cx="123.5" cy="218.7" r="1.55" fill="#E8000B"/>
<circle cx="123.5" cy="219.5" r="1.55" fill="#E8000B"/>
<circle cx="123.5" cy="220.3" r="1.55" fill="#E8000B"/>
<circle cx="123.5" cy="221.1" r="1.55" fill="#E8000B"/>
<circle cx="123.5" cy="221.9" r="1.55" fill="#E8000B"/>
<circle cx="123.5" cy="222.7" r="1.55" fill="#E8000B"/>
<circle cx="123.5" cy="223.5" r="1.55" fill="#E8000B"/>
<circle cx="123.5" cy="224.3" r="1.55" fill="#E8000B"/>
<circle cx="123.5" cy="225.1" r="1.55" fill="#E8000B"/>
<circle cx="123.5" cy="225.9" r="1.55" fill="#E8000B"/>
<circle cx="123.5" cy="226.7" r="1.55" fill="#E8000B"/>
<circle cx="123.5" cy="227.5" r="1.55" fill="#E8000B"/>
<circle cx="123.5" cy="228.3" r="1.55" fill="#E8000B"/>
<circle cx="123.5" cy="229.1" r="1.55" fill="#E8000B"/>
<circle cx="123.5" cy="229.9" r="1.55" fill="#E8000B"/>
<circle cx="123.5" cy="230.7" r="1.55" fill="#E8000B"/>
<circle cx="123.5" cy="231.5" r="1.55" fill="#E8000B"/>
<circle cx="123.5" cy="232.3" r="1.55" fill="#E8000B"/>
<circle cx="123.5" cy="233.1" r="1.55" fill="#E8000B"/>
<circle cx="123.5" cy="233.9" r="1.55" fill="#E8000B"/>
<circle cx="123.5" cy="234.7" r="1.55" fill="#E8000B"/>
<circle cx="123.5" cy="235.5" r="1.55" fill="#E8000B"/>
<circle cx="123.5" cy="236.3" r="1.55" fill="#E8000B"/>
<circle cx="123.5" cy="237.1" r="1.55" fill="#E8000B"/>
<circle cx="123.5" cy="237.9" r="1.55" fill="#E8000B"/>
<line x1="145.15" y1="238" x2="145.15" y2="239.5" stroke="#1a1a1a" stroke-width="1.1"/>
<line x1="145.15" y1="240.8" x2="145.15" y2="240.6" stroke="#1a1a1a" stroke-width="1.1"/>
<line x1="142.25" y1="238" x2="148.05" y2="238" stroke="#1a1a1a" stroke-width="1.1"/>
<line x1="142.25" y1="240.6" x2="148.05" y2="240.6" stroke="#1a1a1a" stroke-width="1.1"/>
<rect x="137.15" y="239.5" width="16" height="1.3" rx="0.8" fill="#fff" fill-opacity="0.2" stroke="#000" stroke-width="1.2"/>
<line x1="137.15" y1="240.4" x2="153.15" y2="240.4" stroke="#000" stroke-width="1.9"/>
<circle cx="145.15" cy="240" r="1.55" fill="#000"/>
<circle cx="145.15" cy="218.7" r="1.55" fill="#E8000B"/>
<circle cx="145.15" cy="219.5" r="1.55" fill="#E8000B"/>
<circle cx="145.15" cy="220.3" r="1.55" fill="#E8000B"/>
<circle cx="145.15" cy="221.1" r="1.55" fill="#E8000B"/>
<circle cx="145.15" cy="221.9" r="1.55" fill="#E8000B"/>
<circle cx="145.15" cy="222.7" r="1.55" fill="#E8000B"/>
<circle cx="145.15" cy="223.5" r="1.55" fill="#E8000B"/>
<circle cx="145.15" cy="224.3" r="1.55" fill="#E8000B"/>
<circle cx="145.15" cy="225.1" r="1.55" fill="#E8000B"/>
<circle cx="145.15" cy="225.9" r="1.55" fill="#E8000B"/>
<circle cx="145.15" cy="226.7" r="1.55" fill="#E8000B"/>
<circle cx="145.15" cy="227.5" r="1.55" fill="#E8000B"/>
<circle cx="145.15" cy="228.3" r="1.55" fill="#E8000B"/>
<circle cx="145.15" cy="229.1" r="1.55" fill="#E8000B"/>
<circle cx="145.15" cy="229.9" r="1.55" fill="#E8000B"/>
<circle cx="145.15" cy="230.7" r="1.55" fill="#E8000B"/>
<circle cx="145.15" cy="231.5" r="1.55" fill="#E8000B"/>
<circle cx="145.15" cy="232.3" r="1.55" fill="#E8000B"/>
<circle cx="145.15" cy="233.1" r="1.55" fill="#E8000B"/>
<circle cx="145.15" cy="233.9" r="1.55" fill="#E8000B"/>
<circle cx="145.15" cy="234.7" r="1.55" fill="#E8000B"/>
<circle cx="145.15" cy="235.5" r="1.55" fill="#E8000B"/>
<circle cx="145.15" cy="236.3" r="1.55" fill="#E8000B"/>
<circle cx="145.15" cy="237.1" r="1.55" fill="#E8000B"/>
<circle cx="145.15" cy="237.9" r="1.55" fill="#E8000B"/>
<line x1="24.5" y1="148.4" x2="158.7" y2="148.4" stroke="#8a8a8a" stroke-width="1.4"/>
<line x1="158.7" y1="148.4" x2="158.7" y2="244.9" stroke="#555" stroke-width="1.1"/>
<line x1="24.5" y1="244.9" x2="159.2" y2="244.9" stroke="#555" stroke-width="1.1"/>
<line x1="24.5" y1="147.9" x2="24.5" y2="245.4" stroke="#555" stroke-width="1.1"/>
<line x1="21.5" y1="240.5" x2="24.5" y2="240.5" stroke="#333" stroke-width="1.1"/>
<text x="18.6" y="243.9" font-size="10" fill="#4d4d4d" text-anchor="end">0</text>
<line x1="21.5" y1="217.2" x2="24.5" y2="217.2" stroke="#333" stroke-width="1.1"/>
<text x="18.6" y="220.6" font-size="10" fill="#4d4d4d" text-anchor="end">3</text>
<line x1="21.5" y1="193.8" x2="24.5" y2="193.8" stroke="#333" stroke-width="1.1"/>
<text x="18.6" y="197.2" font-size="10" fill="#4d4d4d" text-anchor="end">6</text>
<line x1="21.5" y1="170.5" x2="24.5" y2="170.5" stroke="#333" stroke-width="1.1"/>
<text x="18.6" y="173.9" font-size="10" fill="#4d4d4d" text-anchor="end">9</text>
<line x1="36.9" y1="244.9" x2="36.9" y2="247.9" stroke="#333" stroke-width="1.1"/>
<text x="36.9" y="258.6" font-size="10.5" fill="#4d4d4d" text-anchor="middle">MH</text>
<line x1="58.55" y1="244.9" x2="58.55" y2="247.9" stroke="#333" stroke-width="1.1"/>
<text x="58.55" y="258.6" font-size="10.5" fill="#4d4d4d" text-anchor="middle">BA</text>
<line x1="80.2" y1="244.9" x2="80.2" y2="247.9" stroke="#333" stroke-width="1.1"/>
<text x="80.2" y="258.6" font-size="10.5" fill="#4d4d4d" text-anchor="middle">GA</text>
<line x1="101.85" y1="244.9" x2="101.85" y2="247.9" stroke="#333" stroke-width="1.1"/>
<text x="101.85" y="258.6" font-size="10.5" fill="#4d4d4d" text-anchor="middle">DH</text>
<line x1="123.5" y1="244.9" x2="123.5" y2="247.9" stroke="#333" stroke-width="1.1"/>
<text x="123.5" y="258.6" font-size="10.5" fill="#4d4d4d" text-anchor="middle">MN</text>
<line x1="145.15" y1="244.9" x2="145.15" y2="247.9" stroke="#333" stroke-width="1.1"/>
<text x="145.15" y="258.6" font-size="10.5" fill="#4d4d4d" text-anchor="middle">NO</text>
<text x="91.6" y="271.3" font-size="12" font-weight="normal" fill="#000" text-anchor="middle" textLength="32.9" lengthAdjust="spacingAndGlyphs">Station</text>
<text transform="translate(9.2 196.6) rotate(-90)" font-size="10.9" font-weight="normal" fill="#000" text-anchor="middle" textLength="77.2" lengthAdjust="spacingAndGlyphs">Phosphorus(mg/l)</text>
<path d="M217.4 225.6h0M214.5 228.8h0M208.5 222.7h0M213.6 221.9h0M218.4 235.4h0M221.1 227.8h0M212.9 226.1h0M212.9 228.2h0M223.4 224h0M213.2 227h0M218.3 228.6h0M211.7 226h0M222.7 228.6h0M216.2 229h0M220.6 224h0M209.6 225h0M217.8 224.7h0M212.5 223h0M220.9 222.8h0M222.7 228.3h0M214.4 224.3h0M220.7 235.1h0M220.3 227h0M211.4 228.1h0M217.1 228.8h0M209.2 227.9h0M214.5 221.5h0M221.8 233.3h0M215 229.4h0M217.6 231.1h0M209 233.5h0M220.3 231.2h0M220.4 223.3h0M221 236.3h0M214.2 225.2h0M213 226.1h0M210.4 226.9h0M207.5 221.5h0M215.5 222.9h0M212.7 226.1h0M210 223.9h0M219 226.2h0M221.4 216.1h0M213.4 223.6h0M213.9 224h0M214.9 227.5h0M212.7 232.2h0M216.9 232.4h0M210.6 227.4h0M218.4 223.4h0M208.7 235h0M222.3 225.9h0M220.7 224.5h0M208.4 229.9h0M217.5 224.4h0M222.1 227.2h0M219.6 232.5h0M209.9 214.7h0M213.6 226.7h0M223 230.7h0M220.7 230.1h0M211.8 223.6h0M211.3 227h0M209.9 218.2h0M219.3 227.4h0M218.3 217.1h0M208.4 228.1h0M210.3 223.2h0M209.1 219.9h0M214.1 231h0M214.6 220.5h0M216 229.6h0M217.5 229.2h0M219 221.6h0M213.6 224h0M212.6 228.7h0M215.1 222.9h0M218.9 234.3h0M222.9 220.7h0M212.9 227.9h0M218.9 222.9h0M215.6 223.2h0M216.7 226.6h0M216.5 218.5h0M222.3 233.3h0M218.8 222.8h0M219.8 225.3h0M211.3 221.4h0M219.3 225.8h0M217.6 234.2h0M213.3 223h0M217.8 232.4h0M209.6 224.4h0M222.2 225.9h0M217.2 231.2h0M219.6 224h0M222 231.2h0M212.9 218.8h0M209.7 230.8h0M207.7 223.5h0M218.8 228h0M210.8 226.8h0M212.1 220.8h0M216.1 228.6h0M221.4 227.9h0M211.1 221.9h0M216.1 232.7h0M210.9 223.8h0M209.6 227.8h0M219.6 231.7h0M210.7 227.2h0M213.3 224h0M211.6 228.6h0M209.8 223h0M209.9 232.2h0M222.2 222.7h0M214.4 221.6h0M221.4 230.5h0M222.2 219.8h0M220.8 227.7h0M215.9 230.8h0M217.5 231.2h0M214.1 222.5h0M212.1 225.6h0M216.4 223.8h0M222.1 230.7h0M210.9 225.4h0M212.3 225.5h0M208.1 226h0M209.7 227.8h0M217.4 225.3h0M219.8 225.2h0M216.9 220.6h0M214.3 225.9h0M218.8 226.8h0M222.5 220h0M216.1 236.8h0M219 230.9h0M209.5 221.1h0M222.7 222.8h0M218.2 232.3h0M208.1 219h0M213.7 228.9h0M218.5 220.3h0M222 230.1h0M210.5 229.8h0M213.2 224h0M212.8 225.3h0M207.4 224.5h0M208.8 221.9h0M211 152.5h0M214.2 198.1h0M212.3 209.7h0M208.8 210.1h0M208.3 209.9h0" stroke="#F8766D" stroke-width="2.0" stroke-linecap="round" opacity="0.88"/>
<path d="M242.1 232.9h0M231.9 233.3h0M233.8 234h0M242.2 236.6h0M230.2 237.3h0M241.9 234.5h0M232.3 236.6h0M242.9 238.9h0M242.5 238.2h0M242.1 237.7h0M232.1 236h0M230.6 238.6h0M230.9 238h0M227.5 237.7h0M227.9 236.7h0M237.4 239.6h0M243.1 238.5h0M233.4 233.8h0M240.1 237.5h0M236.2 238.5h0M227.5 237.9h0M235.8 234.5h0M237.2 234.8h0M232.9 232.9h0M238.4 235.6h0M239 237.6h0M236.4 238.5h0M232.2 238.2h0M243.1 237.4h0M233.9 236.7h0M235.7 235h0M228.9 238.6h0M236.7 239.4h0M237.5 235.5h0M229.4 235.2h0M239.5 238.3h0M243.3 238.5h0M242.4 238.4h0M234.4 237.5h0M232.6 235.3h0M231.8 238.5h0M231.8 234.3h0M233.9 236.5h0M237.4 239.3h0M240.6 237h0M234.1 238.2h0M238.4 235.6h0M237.5 237.9h0M236.9 233.8h0M235.4 237.1h0M243.5 236.4h0M243.1 237h0M232.4 236.7h0M234.3 237.4h0M235.2 238.4h0M238.9 239h0M235 238.4h0M236.9 237.5h0M235.6 239.4h0M234.6 235.8h0M239.8 238.8h0M238.8 239.1h0M241.7 237.5h0M241.8 239.7h0M233.8 239.1h0M236 239.6h0M242.5 239.5h0M238.2 234.6h0M236.8 238h0M241.4 238.5h0M235 238.1h0M231.2 238.8h0M233.6 235.1h0M233.1 238h0M242.1 232.9h0M242.1 236.1h0M232 234h0M230.1 235.9h0M242.1 238.6h0M239.5 235h0M235.8 237.3h0M233.2 238.4h0M241.5 238.4h0M230.6 233.8h0M231.1 234.9h0M227.6 236.5h0M238.2 235.6h0M235.9 236.6h0M239.9 239.1h0M238.6 235.4h0M242.6 233h0M229.1 235.3h0M232.9 239h0M240.5 238.3h0M239.4 238.1h0M239.8 235.1h0M234.9 232.3h0M232.1 236.6h0M243 235.2h0M233.8 237h0M242.6 236.1h0M231.9 237.6h0M233.8 235.3h0M241.9 237h0M239.7 235.5h0M231.5 236.5h0M243 236.5h0M242 237.8h0M237.9 237.8h0M234.9 238.6h0M231.3 238.5h0M233.8 236.5h0M238.6 238.5h0M234.7 239h0M233.9 237.6h0M234.8 235.7h0M235.1 238.5h0M230.3 239h0M238.2 237.8h0M233.6 237.5h0M240.4 238.5h0M233.3 232.7h0M232.8 236h0M235.3 235.7h0M229.3 236.6h0M230.2 238.1h0M235.9 235.8h0M234.2 236h0M236.6 238.5h0M233.9 237.6h0M241.3 238.4h0M234.9 236.6h0M236 235.6h0M231.7 234.1h0M238.5 235.1h0M228.3 235.8h0M234.7 234.6h0M238.8 235.3h0M232.5 237.2h0M231.8 238.1h0M236.5 234.5h0M230 236h0M232.8 233.8h0M228 236.2h0M236.2 235.8h0M243.2 235.2h0M240.3 234.1h0M234.6 237h0M240.1 236.2h0M236 238.4h0M227.8 219.8h0M232.4 222.6h0M231.9 230.7h0M234.7 227.1h0M240.5 230.4h0M238.2 227.6h0M228.5 225.7h0" stroke="#B79F00" stroke-width="2.0" stroke-linecap="round" opacity="0.88"/>
<path d="M249.8 234.3h0M248.4 231.2h0M256.9 238.6h0M255.8 237.4h0M249.3 235.1h0M250.9 240.3h0M251.8 237.9h0M263.2 232.3h0M253.2 235.5h0M263.2 236h0M252.8 232.6h0M259.1 237.5h0M254.8 237.2h0M248.9 238.4h0M248.2 233.8h0M254.5 237.8h0M249 234.7h0M260.3 232.6h0M249.6 233.7h0M248.2 236h0M251.9 238.4h0M259.3 229h0M261.6 235.3h0M251.1 236.8h0M262.4 236.7h0M262.3 237.5h0M253.6 236.5h0M251.2 238.1h0M261.4 238.7h0M260.7 238h0M251.5 232h0M249.8 236.6h0M251.5 233.1h0M253.5 233.6h0M262.8 235.8h0M255.3 237.6h0M257.9 226.3h0M255.6 237.8h0M262 228.5h0M252 238.7h0M255.8 238.2h0M259.8 237.9h0M262.1 227.6h0M257.2 232.8h0M255 237h0M253.5 237.6h0M255.4 234.1h0M251.4 232.4h0M260.4 238.2h0M250.2 233.8h0M253.1 225.6h0M257.5 238h0M250.3 231h0M253.2 235.8h0M255.7 238.4h0M261.1 236.1h0M248.9 238.2h0M250.4 239.9h0M249.9 238.3h0M256.9 231.9h0M248.8 231.8h0M250.5 238.1h0M259.3 234h0M262.3 238.9h0M259.9 234.5h0M259.4 229.2h0M259 238.1h0M252.9 231.1h0M249.4 234h0M254 237.4h0M257.5 234.3h0M262.1 230.5h0M261.8 234.1h0M248.2 234.3h0M261.2 233.1h0M261.1 237.8h0M250.9 238.2h0M261.8 237.6h0M249.8 237.9h0M253.7 239.4h0M261.4 237.7h0M261.3 230.9h0M255.8 235.2h0M263.2 234.8h0M254.7 230.5h0M253.9 237.4h0M261.2 228.3h0M258.2 230h0M261.1 230.7h0M250.7 235.4h0M248.2 227.9h0M250.5 237.6h0M263.2 237.8h0M252 235h0M251.7 238.7h0M258.3 237.1h0M262.3 229.5h0M253.7 238.8h0M253.2 230.6h0M248.5 234.1h0M259.6 238.9h0M260.4 227.1h0M257.3 234.2h0M256.1 231.6h0M263.2 238.5h0M256 237.4h0M252.5 232.1h0M259.8 230.4h0M248.1 229h0M250.5 233.4h0M257.8 234.8h0M247.8 237.8h0M249.8 238.7h0M260.1 236.4h0M253.4 228.2h0M262.6 237.1h0M251.7 234.4h0M254.3 237.4h0M250.3 231.6h0M259.1 232.4h0M247.6 237.7h0M251.8 234.8h0M258.6 237.8h0M254 233.9h0M260.8 238.4h0M260.1 231.1h0M256.1 234.8h0M249.4 237.7h0M256.6 237.3h0M261.9 237.5h0M250.7 237.9h0M247.7 237.7h0M261.4 231.9h0M253.6 239.4h0M256.1 233.4h0M259 238.1h0M256 239.1h0M255.6 236.2h0M260.6 238.3h0M260.6 235.6h0M262.5 237h0M255.3 225.5h0M256.4 231.4h0M249.7 230.6h0M263.3 237.6h0M255.9 232h0M254.1 230.6h0M255.3 231h0M250.8 231.7h0M251.7 237.2h0M260 191.9h0M253.2 202.5h0M257.6 204.4h0M252.4 216.9h0M249.4 218.8h0M260.1 222h0" stroke="#00BA38" stroke-width="2.0" stroke-linecap="round" opacity="0.88"/>
<path d="M277.5 236.8h0M281.1 238h0M277.8 237.5h0M268 239.8h0M278.9 238.5h0M272 235.7h0M269.3 239.5h0M275.6 237.6h0M280 235.3h0M269.9 239.2h0M276.8 239.1h0M275.9 239.3h0M273.6 238.3h0M277.9 239.5h0M275.9 237.2h0M275 235.3h0M283.4 238.6h0M277.3 236.2h0M274 239.3h0M281.5 238.5h0M280.4 235.8h0M282 239.3h0M276.1 236.7h0M283.2 234.7h0M281.9 239h0M274.3 235.6h0M270.4 239.4h0M273.8 238.4h0M275.8 239.9h0M282.2 238.1h0M275.6 234.9h0M281.2 239.7h0M276.3 239.5h0M276.9 239.5h0M281 235.4h0M273.2 238.4h0M268.8 238.3h0M268.5 239.5h0M267.7 238.2h0M283.4 235.4h0M273.9 234.8h0M278.3 239.5h0M282.6 239.5h0M271 233.1h0M282.6 236.8h0M271 239.3h0M271.5 238.4h0M274.4 239.3h0M267.7 239.8h0M282 239.8h0M274.1 239h0M268.5 238.9h0M273 239.5h0M270.9 237.3h0M275.7 236.9h0M271.1 236.3h0M273.6 236.9h0M282 239.7h0M271.7 235.9h0M277.3 235.6h0M274.5 238.2h0M279 235.8h0M282.5 239.8h0M271.5 235.6h0M270.5 239.2h0M273.3 233.2h0M282.1 236.1h0M282.7 239.3h0M275.8 235.7h0M280.4 237.6h0M278.7 238.3h0M276 238.3h0M273.6 235.6h0M281.4 237.7h0M271.8 238.2h0M267.8 236.8h0M280.1 239.5h0M277.5 239.7h0M273.2 239.2h0M279.1 236.1h0M278.4 239.3h0M271.8 235.3h0M279.2 239.4h0M270 237.5h0M276.9 239.5h0M282.1 239.4h0M272.8 237.4h0M278.2 236.4h0M268.4 237.2h0M274.4 236.3h0M272.3 237h0M274 235.3h0M282.6 235.7h0M278.5 234.7h0M282.9 239.6h0M282.6 239h0M280.9 236.5h0M273 240.1h0M281.3 235.8h0M273.1 238.6h0M282.9 238.2h0M274.8 235.1h0M271 239.5h0M279.1 236.6h0M280.4 239.8h0M280.4 239.7h0M270.4 239.4h0M275.4 239.5h0M273.4 235.9h0M270.3 237.7h0M278.4 234.4h0M283.3 239.4h0M270.9 236h0M270.8 235.9h0M283.6 239.4h0M270.9 238.4h0M282.9 237.5h0M278.9 237.7h0M270.5 234.5h0M281.9 237.4h0M269.8 236.3h0M274.3 238.7h0M277 235h0M271.9 238.6h0M279.3 239.3h0M274.8 236.9h0M283.7 239.4h0M276.3 238.5h0M274.4 239h0M272.3 235.5h0M269.9 239.3h0M275.1 240.1h0M275.3 239.5h0M273.3 239.8h0M271.2 237.4h0M267.9 236.8h0M282 237.2h0M271.3 236h0M282.5 236.5h0M276.4 235.4h0M267.9 239.4h0M274.5 234.7h0M281.4 235.1h0M271.6 238.2h0M276.9 236.8h0M283 239h0M283.3 239.4h0M275 239.3h0M277.6 237.2h0M282 235.5h0M272.7 220.7h0M270.2 231.2h0M272.5 231h0M278.4 233h0M283.1 229.6h0M279.7 228h0" stroke="#12BFA6" stroke-width="2.0" stroke-linecap="round" opacity="0.88"/>
<path d="M289.6 240h0M296.5 239.6h0M297.7 235.4h0M288.3 239.5h0M294 238h0M296.2 239.5h0M291.1 238.9h0M293.9 238.7h0M299.7 239.3h0M302.5 239.9h0M295.2 239.1h0M299.2 236.3h0M290.7 236.1h0M300.5 239.4h0M292.5 236.6h0M289 237.9h0M292 236h0M295.9 237.7h0M295 239.4h0M296.5 239.4h0M296.2 238.9h0M293.3 238.1h0M293.3 237.9h0M297.7 238.1h0M297.9 236.6h0M297.5 239.8h0M299.3 239.3h0M291.4 237.8h0M287.8 238.1h0M302.9 236.3h0M292 238.2h0M293 238.4h0M299.2 237.4h0M298 239.5h0M297.9 235.8h0M300.1 237.7h0M297.4 237.1h0M296.5 236.4h0M298.8 237.4h0M291.3 239.6h0M293.1 239.3h0M292.9 237.6h0M289.4 237.3h0M296.2 239.6h0M294.9 237h0M291.9 237h0M288.2 239.9h0M301.3 237.8h0M288.1 239.6h0M302.1 236.3h0M292.3 238h0M296.2 239.7h0M289 237.8h0M290.2 237h0M291.2 239.5h0M292.3 235.6h0M298.9 239.7h0M293.4 239.5h0M300.8 236.3h0M294 237.7h0M303.8 235.6h0M289.8 237.3h0M298 235.8h0M288 238.7h0M288.6 239.4h0M301.1 234.1h0M301.5 236h0M296.2 239h0M299.4 239.2h0M293.4 234.7h0M297.3 237.5h0M303.2 237.6h0M288.2 238.3h0M288 238.1h0M302 239.6h0M295.6 239.6h0M296.4 239h0M288.8 237.6h0M290.8 237.4h0M297.7 235.4h0M295.1 236.5h0M296.7 238.6h0M297.5 237.5h0M298.3 238.7h0M293.9 238.3h0M301.9 237.3h0M296.3 237.1h0M294.2 237.1h0M296.1 238.7h0M298.3 235.5h0M302 236.3h0M298.9 238.2h0M288.8 234h0M303.8 239.3h0M293.6 239h0M289.9 239.3h0M293.5 236.6h0M289.3 234.9h0M303.6 237.7h0M287.9 238.3h0M291.4 239.3h0M300.7 238.8h0M293.6 235.5h0M292.6 239.3h0M295.8 236.2h0M291.1 239.5h0M292.8 239.4h0M289.9 239.5h0M294.1 235h0M301.7 239.7h0M299.7 239.4h0M299.2 238.5h0M293.2 239.4h0M294 236.3h0M297.6 239.9h0M301.3 239.4h0M291 240.1h0M289.3 237.5h0M290.1 236.1h0M288.4 236.5h0M290.4 239.5h0M292.6 237.8h0M296 235.7h0M295.3 238.8h0M294.9 238.4h0M301.6 234.5h0M295.8 239.7h0M302.5 236.6h0M288.7 239h0M301.7 238.8h0M300.2 237.8h0M294.9 237.9h0M303.6 236.3h0M292.9 236.4h0M301.7 237.5h0M290.9 235.7h0M293.2 238.1h0M302.9 239.2h0M295.8 235.3h0M297.1 238.4h0M288.5 239.7h0M298 239.4h0M294.6 238.2h0M288.8 238.5h0M294.2 235h0M298.9 239.5h0M289.7 238.6h0M288.8 240.1h0M299.2 239.4h0M299.3 235.9h0M294.7 209.2h0M290.5 214.5h0M295.2 218.7h0M288.1 233.4h0M296.5 231.1h0M295.4 232.9h0M301.4 226.9h0M298.8 225.5h0M288.6 227.3h0M301.4 226.1h0M302.5 226h0" stroke="#619CFF" stroke-width="2.0" stroke-linecap="round" opacity="0.88"/>
<path d="M318.5 216.8h0M322.7 231.4h0M320.9 207h0M315.4 205.3h0M323.8 219.7h0M319.5 224.6h0M309.4 221.8h0M320.1 237.7h0M313.8 227.2h0M315 237.2h0M321.3 225.2h0M317.2 236.2h0M316.4 233.4h0M320.4 221.2h0M320.8 236.7h0M311.5 216.5h0M314 236.3h0M319.3 236.2h0M321.8 239h0M323.8 220.9h0M311 235.7h0M318.5 236.4h0M313.2 239.2h0M318 229.4h0M309.1 226.4h0M323.1 219.3h0M317 225h0M323 234h0M311.1 235.7h0M320.9 235.7h0M309.2 230.5h0M321 237.4h0M310.4 235.5h0M308.7 220h0M314.3 235.8h0M310.1 236.5h0M314.8 234.7h0M310.5 235.3h0M318.6 233h0M313.6 224.7h0M312 232h0M321.5 230.2h0M317.3 222.3h0M321.7 236.4h0M316.7 235.5h0M320.7 237.6h0M323.7 237.8h0M321.9 222.9h0M319.4 237.7h0M315.3 215.8h0M317 233.2h0M309.4 220.8h0M319.4 237h0M323.4 237.2h0M311.9 237h0M309.7 228.8h0M323.4 227.9h0M310.2 224.5h0M319.6 239.2h0M308.6 239.4h0M311 236.2h0M310.2 237.7h0M323.8 237.4h0M318.5 235.6h0M309.7 233.4h0M317.3 227.7h0M316.6 222.2h0M311.7 217.5h0M314 231.5h0M310.1 207.3h0M310.1 239.3h0M317.4 215.5h0M320.8 228.1h0M317.5 236.7h0M312.2 231.7h0M308 237.3h0M315.3 232.2h0M317.3 237h0M322.6 235.4h0M308.8 224.8h0M310.9 238.3h0M312.7 237.2h0M320.5 238h0M318.2 218.9h0M310.1 221.6h0M310.8 223h0M315.3 227.7h0M317.3 235.8h0M323.5 235.8h0M317.9 236.1h0M314.6 235.6h0M318.6 221h0M320.8 236.1h0M321.8 217.8h0M308.4 235.8h0M315.3 219.2h0M312.8 235.9h0M316.3 217.5h0M309.6 221.6h0M314.7 220h0M318.8 237h0M316 237.6h0M319 237.2h0M317.8 236h0M310.9 205.5h0M316.7 231.1h0M311.7 235.9h0M318.4 220h0M317.1 236.6h0M307.9 229.1h0M314.2 222.3h0M316.6 235.6h0M322.3 221h0M317.7 235.8h0M308.6 238.3h0M311 221.3h0M315.1 236.1h0M316.5 222.6h0M309.7 229.3h0M311 221.1h0M311.8 221.6h0M319.6 237.1h0M310.8 238.1h0M308.6 218.7h0M322.6 236.9h0M321.2 223.7h0M308.1 225.9h0M323.7 235.6h0M319.2 235.6h0M308 230.6h0M319.2 236.6h0M320 230.1h0M317.2 237.3h0M319 235.8h0M310.6 236.3h0M309.6 232.1h0M313.4 239.7h0M308.3 236.4h0M321 236h0M318.5 235.7h0M311 236.2h0M308.6 232.6h0M309.3 235.7h0M312.6 235.9h0M308.9 225.1h0M323.7 207.4h0M311.6 236.8h0M315.9 236.6h0M320.2 223.8h0M308 236.5h0M321.7 179.7h0M310 188h0M311.9 194.8h0M312.8 196.2h0M320.7 197.7h0M323.1 198.9h0M322.6 200.5h0" stroke="#F564E3" stroke-width="2.0" stroke-linecap="round" opacity="0.88"/>
<line x1="215.4" y1="212.1" x2="215.4" y2="239.3" stroke="#1a1a1a" stroke-width="1.1"/>
<line x1="212.5" y1="212.1" x2="218.3" y2="212.1" stroke="#1a1a1a" stroke-width="1.1"/>
<line x1="212.5" y1="239.3" x2="218.3" y2="239.3" stroke="#1a1a1a" stroke-width="1.1"/>
<rect x="207.9" y="223.2" width="15" height="7.5" rx="0.8" fill="#fff" fill-opacity="0.2" stroke="#000" stroke-width="1.2"/>
<line x1="207.9" y1="226.5" x2="222.9" y2="226.5" stroke="#000" stroke-width="1.9"/>
<circle cx="215.4" cy="225.5" r="1.55" fill="#000"/>
<circle cx="215.4" cy="152.5" r="1.9" fill="#F03030" fill-opacity="0.24" stroke="#E03030" stroke-opacity="0.32" stroke-width="0.5"/>
<circle cx="215.4" cy="198.1" r="1.9" fill="#F03030" fill-opacity="0.24" stroke="#E03030" stroke-opacity="0.32" stroke-width="0.5"/>
<circle cx="215.4" cy="207.3" r="1.9" fill="#F03030" fill-opacity="0.24" stroke="#E03030" stroke-opacity="0.32" stroke-width="0.5"/>
<circle cx="215.4" cy="207.8" r="1.9" fill="#F03030" fill-opacity="0.24" stroke="#E03030" stroke-opacity="0.32" stroke-width="0.5"/>
<circle cx="215.4" cy="208.3" r="1.9" fill="#F03030" fill-opacity="0.24" stroke="#E03030" stroke-opacity="0.32" stroke-width="0.5"/>
<circle cx="215.4" cy="208.8" r="1.9" fill="#F03030" fill-opacity="0.24" stroke="#E03030" stroke-opacity="0.32" stroke-width="0.5"/>
<circle cx="215.4" cy="209.3" r="1.9" fill="#F03030" fill-opacity="0.24" stroke="#E03030" stroke-opacity="0.32" stroke-width="0.5"/>
<circle cx="215.4" cy="209.8" r="1.9" fill="#F03030" fill-opacity="0.24" stroke="#E03030" stroke-opacity="0.32" stroke-width="0.5"/>
<line x1="235.5" y1="231.3" x2="235.5" y2="240.3" stroke="#1a1a1a" stroke-width="1.1"/>
<line x1="232.6" y1="231.3" x2="238.4" y2="231.3" stroke="#1a1a1a" stroke-width="1.1"/>
<line x1="232.6" y1="240.3" x2="238.4" y2="240.3" stroke="#1a1a1a" stroke-width="1.1"/>
<rect x="228" y="235.5" width="15" height="2.9" rx="0.8" fill="#fff" fill-opacity="0.2" stroke="#000" stroke-width="1.2"/>
<line x1="228" y1="237" x2="243" y2="237" stroke="#000" stroke-width="1.9"/>
<circle cx="235.5" cy="236.5" r="1.55" fill="#000"/>
<circle cx="235.5" cy="219.8" r="1.9" fill="#F03030" fill-opacity="0.24" stroke="#E03030" stroke-opacity="0.32" stroke-width="0.5"/>
<circle cx="235.5" cy="222.6" r="1.9" fill="#F03030" fill-opacity="0.24" stroke="#E03030" stroke-opacity="0.32" stroke-width="0.5"/>
<circle cx="235.5" cy="225.5" r="1.9" fill="#F03030" fill-opacity="0.24" stroke="#E03030" stroke-opacity="0.32" stroke-width="0.5"/>
<circle cx="235.5" cy="226" r="1.9" fill="#F03030" fill-opacity="0.24" stroke="#E03030" stroke-opacity="0.32" stroke-width="0.5"/>
<circle cx="235.5" cy="226.5" r="1.9" fill="#F03030" fill-opacity="0.24" stroke="#E03030" stroke-opacity="0.32" stroke-width="0.5"/>
<circle cx="235.5" cy="227" r="1.9" fill="#F03030" fill-opacity="0.24" stroke="#E03030" stroke-opacity="0.32" stroke-width="0.5"/>
<circle cx="235.5" cy="227.5" r="1.9" fill="#F03030" fill-opacity="0.24" stroke="#E03030" stroke-opacity="0.32" stroke-width="0.5"/>
<circle cx="235.5" cy="228" r="1.9" fill="#F03030" fill-opacity="0.24" stroke="#E03030" stroke-opacity="0.32" stroke-width="0.5"/>
<circle cx="235.5" cy="228.5" r="1.9" fill="#F03030" fill-opacity="0.24" stroke="#E03030" stroke-opacity="0.32" stroke-width="0.5"/>
<circle cx="235.5" cy="229" r="1.9" fill="#F03030" fill-opacity="0.24" stroke="#E03030" stroke-opacity="0.32" stroke-width="0.5"/>
<circle cx="235.5" cy="229.5" r="1.9" fill="#F03030" fill-opacity="0.24" stroke="#E03030" stroke-opacity="0.32" stroke-width="0.5"/>
<circle cx="235.5" cy="230" r="1.9" fill="#F03030" fill-opacity="0.24" stroke="#E03030" stroke-opacity="0.32" stroke-width="0.5"/>
<circle cx="235.5" cy="230.5" r="1.9" fill="#F03030" fill-opacity="0.24" stroke="#E03030" stroke-opacity="0.32" stroke-width="0.5"/>
<circle cx="235.5" cy="231" r="1.9" fill="#F03030" fill-opacity="0.24" stroke="#E03030" stroke-opacity="0.32" stroke-width="0.5"/>
<line x1="255.6" y1="225.5" x2="255.6" y2="240.3" stroke="#1a1a1a" stroke-width="1.1"/>
<line x1="252.7" y1="225.5" x2="258.5" y2="225.5" stroke="#1a1a1a" stroke-width="1.1"/>
<line x1="252.7" y1="240.3" x2="258.5" y2="240.3" stroke="#1a1a1a" stroke-width="1.1"/>
<rect x="248.1" y="232.6" width="15" height="5" rx="0.8" fill="#fff" fill-opacity="0.2" stroke="#000" stroke-width="1.2"/>
<line x1="248.1" y1="236.1" x2="263.1" y2="236.1" stroke="#000" stroke-width="1.9"/>
<circle cx="255.6" cy="234.5" r="1.55" fill="#000"/>
<circle cx="255.6" cy="191.9" r="1.9" fill="#F03030" fill-opacity="0.24" stroke="#E03030" stroke-opacity="0.32" stroke-width="0.5"/>
<circle cx="255.6" cy="202.5" r="1.9" fill="#F03030" fill-opacity="0.24" stroke="#E03030" stroke-opacity="0.32" stroke-width="0.5"/>
<circle cx="255.6" cy="204.4" r="1.9" fill="#F03030" fill-opacity="0.24" stroke="#E03030" stroke-opacity="0.32" stroke-width="0.5"/>
<circle cx="255.6" cy="216.9" r="1.9" fill="#F03030" fill-opacity="0.24" stroke="#E03030" stroke-opacity="0.32" stroke-width="0.5"/>
<circle cx="255.6" cy="218.8" r="1.9" fill="#F03030" fill-opacity="0.24" stroke="#E03030" stroke-opacity="0.32" stroke-width="0.5"/>
<circle cx="255.6" cy="222" r="1.9" fill="#F03030" fill-opacity="0.24" stroke="#E03030" stroke-opacity="0.32" stroke-width="0.5"/>
<line x1="275.7" y1="233.1" x2="275.7" y2="240.3" stroke="#1a1a1a" stroke-width="1.1"/>
<line x1="272.8" y1="233.1" x2="278.6" y2="233.1" stroke="#1a1a1a" stroke-width="1.1"/>
<line x1="272.8" y1="240.3" x2="278.6" y2="240.3" stroke="#1a1a1a" stroke-width="1.1"/>
<rect x="268.2" y="236.5" width="15" height="2.8" rx="0.8" fill="#fff" fill-opacity="0.2" stroke="#000" stroke-width="1.2"/>
<line x1="268.2" y1="238" x2="283.2" y2="238" stroke="#000" stroke-width="1.9"/>
<circle cx="275.7" cy="237.5" r="1.55" fill="#000"/>
<circle cx="275.7" cy="220.7" r="1.9" fill="#F03030" fill-opacity="0.24" stroke="#E03030" stroke-opacity="0.32" stroke-width="0.5"/>
<circle cx="275.7" cy="227.4" r="1.9" fill="#F03030" fill-opacity="0.24" stroke="#E03030" stroke-opacity="0.32" stroke-width="0.5"/>
<circle cx="275.7" cy="227.9" r="1.9" fill="#F03030" fill-opacity="0.24" stroke="#E03030" stroke-opacity="0.32" stroke-width="0.5"/>
<circle cx="275.7" cy="228.4" r="1.9" fill="#F03030" fill-opacity="0.24" stroke="#E03030" stroke-opacity="0.32" stroke-width="0.5"/>
<circle cx="275.7" cy="228.9" r="1.9" fill="#F03030" fill-opacity="0.24" stroke="#E03030" stroke-opacity="0.32" stroke-width="0.5"/>
<circle cx="275.7" cy="229.4" r="1.9" fill="#F03030" fill-opacity="0.24" stroke="#E03030" stroke-opacity="0.32" stroke-width="0.5"/>
<circle cx="275.7" cy="229.9" r="1.9" fill="#F03030" fill-opacity="0.24" stroke="#E03030" stroke-opacity="0.32" stroke-width="0.5"/>
<circle cx="275.7" cy="230.4" r="1.9" fill="#F03030" fill-opacity="0.24" stroke="#E03030" stroke-opacity="0.32" stroke-width="0.5"/>
<circle cx="275.7" cy="230.9" r="1.9" fill="#F03030" fill-opacity="0.24" stroke="#E03030" stroke-opacity="0.32" stroke-width="0.5"/>
<circle cx="275.7" cy="231.4" r="1.9" fill="#F03030" fill-opacity="0.24" stroke="#E03030" stroke-opacity="0.32" stroke-width="0.5"/>
<circle cx="275.7" cy="231.9" r="1.9" fill="#F03030" fill-opacity="0.24" stroke="#E03030" stroke-opacity="0.32" stroke-width="0.5"/>
<circle cx="275.7" cy="232.4" r="1.9" fill="#F03030" fill-opacity="0.24" stroke="#E03030" stroke-opacity="0.32" stroke-width="0.5"/>
<circle cx="275.7" cy="232.9" r="1.9" fill="#F03030" fill-opacity="0.24" stroke="#E03030" stroke-opacity="0.32" stroke-width="0.5"/>
<line x1="295.8" y1="234" x2="295.8" y2="240.3" stroke="#1a1a1a" stroke-width="1.1"/>
<line x1="292.9" y1="234" x2="298.7" y2="234" stroke="#1a1a1a" stroke-width="1.1"/>
<line x1="292.9" y1="240.3" x2="298.7" y2="240.3" stroke="#1a1a1a" stroke-width="1.1"/>
<rect x="288.3" y="236.5" width="15" height="2.8" rx="0.8" fill="#fff" fill-opacity="0.2" stroke="#000" stroke-width="1.2"/>
<line x1="288.3" y1="238" x2="303.3" y2="238" stroke="#000" stroke-width="1.9"/>
<circle cx="295.8" cy="237.5" r="1.55" fill="#000"/>
<circle cx="295.8" cy="209.2" r="1.9" fill="#F03030" fill-opacity="0.24" stroke="#E03030" stroke-opacity="0.32" stroke-width="0.5"/>
<circle cx="295.8" cy="214.5" r="1.9" fill="#F03030" fill-opacity="0.24" stroke="#E03030" stroke-opacity="0.32" stroke-width="0.5"/>
<circle cx="295.8" cy="218.7" r="1.9" fill="#F03030" fill-opacity="0.24" stroke="#E03030" stroke-opacity="0.32" stroke-width="0.5"/>
<circle cx="295.8" cy="224.5" r="1.9" fill="#F03030" fill-opacity="0.24" stroke="#E03030" stroke-opacity="0.32" stroke-width="0.5"/>
<circle cx="295.8" cy="225" r="1.9" fill="#F03030" fill-opacity="0.24" stroke="#E03030" stroke-opacity="0.32" stroke-width="0.5"/>
<circle cx="295.8" cy="225.5" r="1.9" fill="#F03030" fill-opacity="0.24" stroke="#E03030" stroke-opacity="0.32" stroke-width="0.5"/>
<circle cx="295.8" cy="226" r="1.9" fill="#F03030" fill-opacity="0.24" stroke="#E03030" stroke-opacity="0.32" stroke-width="0.5"/>
<circle cx="295.8" cy="226.5" r="1.9" fill="#F03030" fill-opacity="0.24" stroke="#E03030" stroke-opacity="0.32" stroke-width="0.5"/>
<circle cx="295.8" cy="227" r="1.9" fill="#F03030" fill-opacity="0.24" stroke="#E03030" stroke-opacity="0.32" stroke-width="0.5"/>
<circle cx="295.8" cy="227.5" r="1.9" fill="#F03030" fill-opacity="0.24" stroke="#E03030" stroke-opacity="0.32" stroke-width="0.5"/>
<circle cx="295.8" cy="228" r="1.9" fill="#F03030" fill-opacity="0.24" stroke="#E03030" stroke-opacity="0.32" stroke-width="0.5"/>
<circle cx="295.8" cy="228.5" r="1.9" fill="#F03030" fill-opacity="0.24" stroke="#E03030" stroke-opacity="0.32" stroke-width="0.5"/>
<circle cx="295.8" cy="229" r="1.9" fill="#F03030" fill-opacity="0.24" stroke="#E03030" stroke-opacity="0.32" stroke-width="0.5"/>
<circle cx="295.8" cy="229.5" r="1.9" fill="#F03030" fill-opacity="0.24" stroke="#E03030" stroke-opacity="0.32" stroke-width="0.5"/>
<circle cx="295.8" cy="230" r="1.9" fill="#F03030" fill-opacity="0.24" stroke="#E03030" stroke-opacity="0.32" stroke-width="0.5"/>
<circle cx="295.8" cy="230.5" r="1.9" fill="#F03030" fill-opacity="0.24" stroke="#E03030" stroke-opacity="0.32" stroke-width="0.5"/>
<circle cx="295.8" cy="231" r="1.9" fill="#F03030" fill-opacity="0.24" stroke="#E03030" stroke-opacity="0.32" stroke-width="0.5"/>
<circle cx="295.8" cy="231.5" r="1.9" fill="#F03030" fill-opacity="0.24" stroke="#E03030" stroke-opacity="0.32" stroke-width="0.5"/>
<circle cx="295.8" cy="232" r="1.9" fill="#F03030" fill-opacity="0.24" stroke="#E03030" stroke-opacity="0.32" stroke-width="0.5"/>
<circle cx="295.8" cy="232.5" r="1.9" fill="#F03030" fill-opacity="0.24" stroke="#E03030" stroke-opacity="0.32" stroke-width="0.5"/>
<circle cx="295.8" cy="233" r="1.9" fill="#F03030" fill-opacity="0.24" stroke="#E03030" stroke-opacity="0.32" stroke-width="0.5"/>
<circle cx="295.8" cy="233.5" r="1.9" fill="#F03030" fill-opacity="0.24" stroke="#E03030" stroke-opacity="0.32" stroke-width="0.5"/>
<circle cx="295.8" cy="234" r="1.9" fill="#F03030" fill-opacity="0.24" stroke="#E03030" stroke-opacity="0.32" stroke-width="0.5"/>
<line x1="315.9" y1="205.3" x2="315.9" y2="240.2" stroke="#1a1a1a" stroke-width="1.1"/>
<line x1="313" y1="205.3" x2="318.8" y2="205.3" stroke="#1a1a1a" stroke-width="1.1"/>
<line x1="313" y1="240.2" x2="318.8" y2="240.2" stroke="#1a1a1a" stroke-width="1.1"/>
<rect x="308.4" y="224.5" width="15" height="12.1" rx="0.8" fill="#fff" fill-opacity="0.2" stroke="#000" stroke-width="1.2"/>
<line x1="308.4" y1="235.4" x2="323.4" y2="235.4" stroke="#000" stroke-width="1.9"/>
<circle cx="315.9" cy="228.9" r="1.55" fill="#000"/>
<circle cx="315.9" cy="179.7" r="1.9" fill="#F03030" fill-opacity="0.24" stroke="#E03030" stroke-opacity="0.32" stroke-width="0.5"/>
<circle cx="315.9" cy="188" r="1.9" fill="#F03030" fill-opacity="0.24" stroke="#E03030" stroke-opacity="0.32" stroke-width="0.5"/>
<circle cx="315.9" cy="194.8" r="1.9" fill="#F03030" fill-opacity="0.24" stroke="#E03030" stroke-opacity="0.32" stroke-width="0.5"/>
<circle cx="315.9" cy="196.2" r="1.9" fill="#F03030" fill-opacity="0.24" stroke="#E03030" stroke-opacity="0.32" stroke-width="0.5"/>
<circle cx="315.9" cy="197.7" r="1.9" fill="#F03030" fill-opacity="0.24" stroke="#E03030" stroke-opacity="0.32" stroke-width="0.5"/>
<circle cx="315.9" cy="198.9" r="1.9" fill="#F03030" fill-opacity="0.24" stroke="#E03030" stroke-opacity="0.32" stroke-width="0.5"/>
<circle cx="315.9" cy="200.5" r="1.9" fill="#F03030" fill-opacity="0.24" stroke="#E03030" stroke-opacity="0.32" stroke-width="0.5"/>
<line x1="203.6" y1="148.3" x2="328.1" y2="148.3" stroke="#8a8a8a" stroke-width="1.4"/>
<line x1="328.1" y1="148.3" x2="328.1" y2="245.1" stroke="#555" stroke-width="1.1"/>
<line x1="203.6" y1="245.1" x2="328.6" y2="245.1" stroke="#555" stroke-width="1.1"/>
<line x1="203.6" y1="147.8" x2="203.6" y2="245.6" stroke="#555" stroke-width="1.1"/>
<line x1="200.6" y1="240.6" x2="203.6" y2="240.6" stroke="#333" stroke-width="1.1"/>
<text x="197.7" y="243.9" font-size="9.7" fill="#4d4d4d" text-anchor="end">0</text>
<line x1="200.6" y1="211.3" x2="203.6" y2="211.3" stroke="#333" stroke-width="1.1"/>
<text x="197.7" y="214.6" font-size="9.7" fill="#4d4d4d" text-anchor="end">200</text>
<line x1="200.6" y1="182" x2="203.6" y2="182" stroke="#333" stroke-width="1.1"/>
<text x="197.7" y="185.3" font-size="9.7" fill="#4d4d4d" text-anchor="end">400</text>
<line x1="200.6" y1="152.6" x2="203.6" y2="152.6" stroke="#333" stroke-width="1.1"/>
<text x="197.7" y="155.9" font-size="9.7" fill="#4d4d4d" text-anchor="end">600</text>
<line x1="215.4" y1="245.1" x2="215.4" y2="248.1" stroke="#333" stroke-width="1.1"/>
<text x="215.4" y="258.6" font-size="10.5" fill="#4d4d4d" text-anchor="middle">MH</text>
<line x1="235.5" y1="245.1" x2="235.5" y2="248.1" stroke="#333" stroke-width="1.1"/>
<text x="235.5" y="258.6" font-size="10.5" fill="#4d4d4d" text-anchor="middle">BA</text>
<line x1="255.6" y1="245.1" x2="255.6" y2="248.1" stroke="#333" stroke-width="1.1"/>
<text x="255.6" y="258.6" font-size="10.5" fill="#4d4d4d" text-anchor="middle">GA</text>
<line x1="275.7" y1="245.1" x2="275.7" y2="248.1" stroke="#333" stroke-width="1.1"/>
<text x="275.7" y="258.6" font-size="10.5" fill="#4d4d4d" text-anchor="middle">DH</text>
<line x1="295.8" y1="245.1" x2="295.8" y2="248.1" stroke="#333" stroke-width="1.1"/>
<text x="295.8" y="258.6" font-size="10.5" fill="#4d4d4d" text-anchor="middle">MN</text>
<line x1="315.9" y1="245.1" x2="315.9" y2="248.1" stroke="#333" stroke-width="1.1"/>
<text x="315.9" y="258.6" font-size="10.5" fill="#4d4d4d" text-anchor="middle">NO</text>
<text x="265.85" y="271.3" font-size="12" font-weight="normal" fill="#000" text-anchor="middle" textLength="32.9" lengthAdjust="spacingAndGlyphs">Station</text>
<text transform="translate(179 196.9) rotate(-90)" font-size="10.9" font-weight="normal" fill="#000" text-anchor="middle" textLength="66" lengthAdjust="spacingAndGlyphs">Chloride(mg/l)</text>
<path d="M391.5 60h0M392.8 78.6h0M404.6 83.7h0M404.6 68.7h0M399.5 63.3h0M392.3 58.5h0M401 67.1h0M402.3 85.8h0M395.6 85.4h0M392.5 59.3h0M399.9 63.4h0M401.3 69.4h0M395.5 73.5h0M392.5 68.6h0M400.2 83.3h0M403.9 72.8h0M393.3 71.7h0M397.5 59.3h0M393.9 64.2h0M403.7 66.3h0M401.6 64.4h0M396.7 74.3h0M395.2 66.6h0M406.7 68.5h0M396.3 63h0M401.7 69.4h0M393.5 68.4h0M402.8 70.8h0M398.4 76.5h0M404.2 87.5h0M399.1 72.3h0M394.3 92.2h0M399.8 76.7h0M395.7 65.3h0M396.8 89h0M393 76.2h0M399.3 80.2h0M391.6 80.1h0M391.5 73.7h0M401.9 70.2h0M405.4 71.6h0M394.1 70.1h0M404.6 56.6h0M391 69.4h0M404.2 75.2h0M403.8 73.1h0M393.8 67h0M400.3 68.5h0M398.6 68.3h0M400.1 69.5h0M406.5 78.1h0M400.2 87.8h0M391.8 50.5h0M406.2 51.8h0M401.8 65.8h0M404.1 63.6h0M406.4 61.5h0M404.7 66.1h0M393 64.1h0M401.3 73.1h0M392.6 65.1h0M399.6 74.1h0M392 55.6h0M405.7 66.8h0M394.2 79h0M404.7 73.9h0M406.4 76.8h0M402.7 59.1h0M403.2 65.8h0M392.1 69.5h0M402.1 61.5h0M395.3 63.7h0M394.8 64.9h0M398.7 69.7h0M397.7 64.1h0M392.7 66.5h0M406 66.4h0M403.7 76.1h0M391.1 71.9h0M402.4 75.8h0M394.6 67.4h0M390.8 66.7h0M397.8 62h0M400.6 78.2h0M406 78.1h0M397.3 79.9h0M401.3 74.9h0M396.3 54.7h0M398.3 78.6h0M400.2 73.1h0M391.3 70.8h0M391.6 59.8h0M395.8 75.6h0M391.3 63.5h0M403.5 60.7h0M391.8 64.2h0M404.4 75.7h0M406.1 63.3h0M400.7 65.4h0M392.9 64.4h0M401.6 81.2h0M395.4 76.2h0M393.6 69.1h0M395.5 62.4h0M393.5 57.6h0M402.1 81.3h0M396.4 69.7h0M406.3 84h0M402.8 71.1h0M394.2 60h0M397 78.3h0M406.9 63.3h0M401.5 60.7h0M405.7 72.4h0M397.2 77.3h0M394.9 66.7h0M403.3 70h0M400.3 52.3h0M403.9 75.5h0M403.7 62.6h0M406.1 58.9h0M393.3 59.4h0M396.9 64.9h0M405.2 58.6h0M400.3 63.8h0M394.5 72.9h0M399.5 74.1h0M394.9 79.4h0M394.9 71h0M402.6 58h0M391.2 48.8h0M400.8 67.9h0M397.3 70.8h0M401.5 76.8h0M398.4 58.8h0M397.3 64.7h0M398.9 71h0M396 52h0M403.6 73.7h0M395.2 79.6h0M398.3 50.3h0M395.6 64.8h0M393.7 67h0M394.2 66.7h0M406.5 53.8h0M396.4 87.9h0M406.4 68.4h0M390.8 71.5h0M391.1 63.7h0M405.7 70.4h0M402 92.6h0M406 56.7h0M402.1 67.8h0M396.4 65.5h0M391.9 73.2h0M399 62.3h0M393.3 67.8h0M399.2 73.1h0M395.6 57.9h0M396.7 62.7h0M392.7 72.9h0M399.2 81.2h0M399.2 76h0M401.6 69.3h0M403.6 89.4h0M395.6 78.1h0M402.3 70.9h0M401.1 84.5h0M401.5 59.1h0M392.1 54.5h0M398.9 78.4h0M400.9 81.6h0M401 69.5h0M397.4 63.8h0M394 59.2h0M400.8 66.7h0M400 68.6h0M395 81.9h0M400.7 79.3h0M392.4 68.6h0M403.8 81.6h0M391.3 71.4h0M396.6 50.1h0M395.7 74.9h0M401.6 57.1h0M390.6 72.2h0M406.4 64.2h0M396.8 70.9h0M406.3 87h0M393 91.6h0M406.1 59.2h0M398 76.5h0M395.3 57.1h0M397.1 74h0M391.9 62h0M406.2 71.6h0M404.2 63.5h0M403.3 71.7h0M406.2 49.3h0M399.8 59.3h0M398.6 81.5h0M392 76.9h0M402.3 69.7h0M396.9 59.9h0M404.9 71.4h0M394.7 77.1h0M394.6 64.4h0M394.2 58.3h0M395.9 83h0M405.8 85.7h0M404.1 6.9h0M400 21.2h0M393.1 26h0M394.5 31.4h0M406.1 37.6h0M394.2 44.6h0M400.7 42.8h0M394.1 42.7h0" stroke="#F8766D" stroke-width="2.0" stroke-linecap="round" opacity="0.88"/>
<path d="M417.8 81.5h0M423.8 68.3h0M411.1 69.7h0M425.4 71.2h0M415.4 67.8h0M420.5 70.1h0M417.7 71.1h0M417.1 70.7h0M419.3 78.7h0M418 77.1h0M416.9 77.7h0M425.9 74.4h0M413.3 78h0M423.3 67.9h0M413.9 76.1h0M423.7 76.2h0M412.5 75.5h0M421.8 73.8h0M414.9 77.5h0M411.1 79.9h0M418.6 74h0M412.5 74.7h0M427.2 71.7h0M418.3 79.1h0M413.7 78.3h0M427.2 68.1h0M414.5 71.9h0M424.2 89h0M420 79.2h0M426.4 75.4h0M413.2 61.5h0M418.4 71.8h0M414.2 72.3h0M427 80.6h0M421.3 74.3h0M415.8 73.1h0M426.4 73.1h0M416 74.7h0M424 83.7h0M419 82.1h0M413.2 64.6h0M417.4 70.1h0M414.1 75.8h0M420 70.7h0M417.1 70.7h0M418.7 82.6h0M426.6 78.9h0M412.1 77.5h0M413.5 69.3h0M425.1 84.8h0M427.2 74.5h0M415.5 77.6h0M413.2 75.1h0M421.4 64.4h0M419.3 74.7h0M419.4 79.7h0M414 74.5h0M412 81.5h0M411.4 81.9h0M426.8 77.9h0M415.1 80.8h0M415.5 74.9h0M412.5 79.3h0M418 79.4h0M420.2 73.2h0M418.8 73h0M411.3 80.8h0M425 68.1h0M416.6 66.3h0M426.8 75.9h0M411.5 76.8h0M424.2 66.6h0M419.3 66.1h0M423.3 65.9h0M422.4 72.5h0M418.6 77.4h0M418.6 81.6h0M415.7 70.1h0M421 77.6h0M422.9 75.6h0M423.7 69.7h0M413 77h0M416.7 80.4h0M414.2 71.7h0M421.5 75.5h0M424.1 72.2h0M418.1 72.9h0M424.8 77.1h0M424.6 71.8h0M422.6 67.9h0M424.6 74.7h0M420.2 80.5h0M415.4 73.2h0M413.8 67.5h0M420.5 71.4h0M416.5 70.3h0M423.7 74.6h0M423.5 77.8h0M422.5 71.7h0M415.1 68.7h0M412.7 74.5h0M416.8 80.9h0M414.4 69.9h0M426.7 76.1h0M419.8 74.2h0M424.2 61.7h0M425 77h0M423.5 86.1h0M422.9 76.1h0M414.4 74.9h0M424 70.2h0M415 72.4h0M427.5 72.5h0M423.9 76.1h0M413.8 70.6h0M415.6 78.1h0M417.4 70.4h0M425.3 69.7h0M425.3 72.6h0M422.8 75h0M420 76.3h0M424.9 74.4h0M415.8 71.4h0M413.2 75.1h0M413.4 80.3h0M421 79.5h0M417.2 81.1h0M421.3 75.6h0M416.2 71.3h0M412.1 66.3h0M417.4 74.1h0M413.1 73.3h0M427.5 75.8h0M421.7 64.4h0M423.3 73.4h0M411.1 70h0M412.3 84.6h0M413.4 75.6h0M417.4 78.9h0M423.6 75.4h0M414.9 74.3h0M415.7 81.6h0M427.1 80.7h0M423.6 82.2h0M413.4 64.7h0M420.2 82.1h0M412.7 82.8h0M411.8 66.1h0M416.4 80h0M414.8 78h0M420.4 73.3h0M411.6 78.3h0M414.6 77.7h0M422.9 65.6h0M422.6 73.9h0M427.3 70.7h0M426.4 70.5h0M412.5 70.9h0M413.2 81.4h0M412.6 83.5h0M420.6 70.4h0M424.6 72.6h0M427.4 79h0M426.3 77.5h0M412.8 79.3h0M413.2 79.3h0M420.3 73.5h0M425.1 84.4h0M418.2 79.1h0M424.7 70.5h0M420.2 86.1h0M413.3 72.8h0M414.8 85.6h0M419.6 74.9h0M427.1 78.2h0M417.1 84.3h0M423.9 82.9h0M422.4 61.9h0M414.4 80.1h0M424.8 75h0M423.4 73.1h0M412.5 78.5h0M414.4 76h0M413.2 77.6h0M417 80.6h0M414.6 71.6h0M424.2 66h0M426 73.8h0M426.5 72.5h0M423 81.7h0M415.3 68.2h0M411.5 73.5h0M418.4 82.6h0M423.6 71.9h0M423.5 73.9h0M416.3 71.3h0M417 69.4h0M413 73.1h0M425.7 79.9h0M420.8 64.9h0M424.4 72.5h0M415.5 74h0M426.4 79.4h0M416.2 80.2h0M419.2 68h0M418.3 80.1h0M420.5 77.8h0M412.3 78.6h0M426.9 80.6h0M423.8 66.1h0M425.1 45.8h0M421.4 91.7h0" stroke="#B79F00" stroke-width="2.0" stroke-linecap="round" opacity="0.88"/>
<path d="M437.8 78.4h0M434.7 73.6h0M433.6 85h0M435.4 85.4h0M432.3 73.6h0M442 70.6h0M437.5 73.8h0M438.8 72.4h0M444 71.3h0M436.5 80.6h0M434.1 83h0M432.7 79.7h0M445.3 71.3h0M440.9 67.5h0M432.6 79.8h0M441.8 79.2h0M444.6 83.1h0M431.7 70.9h0M435.7 73.3h0M442.5 62.6h0M432.2 64.6h0M445.4 72.1h0M436.2 80.1h0M438.7 80.7h0M443.2 84.5h0M444.9 77.1h0M447 75.9h0M437.4 80.6h0M441.3 70h0M439.9 73.8h0M445 77.5h0M444.4 79.1h0M440.6 77.5h0M438.4 80h0M444.1 74.3h0M431.9 79.9h0M437.7 81h0M436.2 73.2h0M431.7 74.4h0M444.9 72h0M437.9 85.5h0M440.6 70.3h0M440.3 69.4h0M434.8 76.6h0M433.9 72.4h0M437.8 69.3h0M438.5 74.1h0M448.1 69.8h0M435.9 67.4h0M435.1 76.2h0M438.1 80h0M438.3 70.5h0M435.2 70.6h0M435.4 68.9h0M438.1 73h0M443.2 77.5h0M444.3 74.8h0M442.9 81.1h0M440 68.6h0M435.6 69.7h0M434.7 70.2h0M444.6 64.8h0M435.5 73.1h0M445.2 69.5h0M443.6 69.7h0M446.1 67.6h0M434.7 68.2h0M447.3 73.9h0M446.2 82.7h0M442.4 75.7h0M434.9 67.7h0M439.7 74.9h0M437 79.9h0M443.6 68.8h0M437.3 75.8h0M443.2 69.8h0M446.8 67.5h0M435.7 75.1h0M435.2 77.7h0M443.8 73.7h0M441.8 66.3h0M437.2 74.9h0M440 77.3h0M442.6 73.9h0M447.9 73.5h0M441.2 73.2h0M435.5 75.2h0M439.5 82.4h0M447.2 77.8h0M438.5 73.6h0M440.4 73.8h0M431.7 84.7h0M443.8 78.3h0M437.1 83.4h0M445.3 71.9h0M432.4 73.8h0M441.6 76.9h0M435.7 76.2h0M439.9 67.4h0M436.1 71.1h0M439.8 77.7h0M447.6 73.8h0M446.4 79.4h0M435.5 82.9h0M434.4 72.1h0M437.4 69.5h0M447 78.7h0M436.6 76.3h0M440.5 71.1h0M432.4 73.5h0M439.3 67h0M446.9 76.5h0M443 74.7h0M433.7 77.8h0M432 81.1h0M446.3 70.4h0M435.9 72.4h0M442.7 81.3h0M437.6 67.4h0M431.8 70.7h0M444.8 75.9h0M444 74h0M433.1 72.1h0M440.9 83.2h0M444.1 79.3h0M445.8 68h0M435.1 76.6h0M440.1 80.7h0M442.1 81.5h0M438.5 78.4h0M439.9 75.8h0M445.7 76.2h0M433.6 71.9h0M446.3 82.1h0M433.5 74.5h0M431.7 68.8h0M432 67.3h0M431.7 73h0M442.8 85.5h0M434.2 77.5h0M436.1 79.2h0M441.9 85.7h0M436.3 82.2h0M442.7 79.1h0M433.4 83.6h0M447.4 68.1h0M445.4 84.3h0M437.3 78.5h0M436.6 72.9h0M436.2 72.6h0M442.3 72.6h0M445.5 75.6h0M447.7 72.3h0M434.1 76.2h0M446 73.5h0M443.3 77.2h0M441.9 74.4h0M440.6 79h0M433.2 81.8h0M438.8 70.7h0M447.7 73.8h0M437.4 72.2h0M435.3 72.3h0M445.8 72.6h0M437.2 74.8h0M445.3 78.7h0M433.6 73.9h0M433.7 72.9h0M440.7 78.6h0M446.9 65.3h0M438.9 71.3h0M436.7 73h0M439.8 68.4h0M436.3 70.7h0M432.6 76h0M437.1 81.3h0M435.4 79.4h0M440.6 75.2h0M434.4 67.1h0M443.8 88.5h0M446.6 75.7h0M434.9 70.8h0M434.1 73.6h0M446.7 74.2h0M433.4 72.8h0M443.5 69.1h0M446.1 75.6h0M433.6 78.1h0M435.4 71.5h0M441 74.4h0M440.8 73.7h0M434.3 76.7h0M441.3 70.3h0M432.3 80h0M440 80.9h0M439.4 73.5h0M442.2 72.3h0M444.4 77.3h0M432.2 73.6h0M432.4 75.7h0M440.9 70.2h0M438.1 74.2h0M436.2 75.2h0M433.7 75.2h0M444.4 80.3h0M443.9 74.3h0M446.3 70.4h0M437.7 76.5h0M446.8 68.1h0M437.2 72.1h0" stroke="#00BA38" stroke-width="2.0" stroke-linecap="round" opacity="0.88"/>
<path d="M463.4 76.8h0M465.5 78.1h0M453.1 79.2h0M461.3 78.5h0M452.5 73.6h0M461.5 62.9h0M467 66.2h0M468.4 79.8h0M459.3 65.4h0M468.5 73.6h0M457.4 73.8h0M456.9 74.3h0M458.8 71.8h0M460.4 74.6h0M461.8 66.3h0M454.9 76.6h0M467.2 80h0M464.8 78.2h0M464.5 79.8h0M467.4 59.9h0M461 79.5h0M464.9 79.7h0M467.5 73.5h0M458.5 64.7h0M454.2 67h0M453 85.1h0M458.9 80.4h0M468.4 76.1h0M460.4 81.8h0M456.2 85h0M456.1 66.8h0M453.9 67.9h0M456 85.2h0M466.4 75.9h0M459.2 81.5h0M456.6 63.6h0M465.9 72.2h0M467.9 67.9h0M461.9 79.1h0M467.1 72.8h0M460.3 71.9h0M467 68h0M456.4 71.9h0M464.4 70.8h0M455.9 59.1h0M455.6 63.7h0M453.5 76.3h0M466 73.8h0M454.1 75.9h0M462.1 74h0M458.6 74.1h0M457.6 77.9h0M457.8 73.6h0M468.3 84h0M457.4 80.2h0M456.8 75.8h0M468.6 66.4h0M464.1 82.3h0M465.6 75.3h0M463.6 68.8h0M459.8 71h0M462.2 73.5h0M461.3 75.9h0M452.3 79.2h0M464.4 83.3h0M460.2 76.6h0M458.1 70.4h0M464.2 77.7h0M463.4 67.3h0M467.7 77.2h0M463.8 62.9h0M467.4 74.8h0M459 63.2h0M466.7 63.7h0M453.9 69h0M455.4 87h0M463.3 69.9h0M457.7 63.4h0M466 77.5h0M462.8 70h0M464.7 77h0M455.6 58.3h0M467.6 64.3h0M456 80.4h0M465.9 70.7h0M464.2 65.8h0M467.6 66.4h0M462.3 78.6h0M460.4 74.4h0M461.9 74.5h0M453.9 69.2h0M464.9 73.4h0M455.9 68.5h0M466 66.1h0M461.1 85.1h0M460.1 75.3h0M466.9 64h0M454.7 68.3h0M465.8 68.3h0M454.7 68.3h0M466.2 76.5h0M455.8 59.4h0M459.2 67.4h0M466.1 70.6h0M453.2 69.1h0M460.9 76.8h0M452.2 71.3h0M459.1 76.9h0M460.2 78.8h0M463.1 78.2h0M467.2 65.2h0M458.1 70.7h0M462.8 77.1h0M465.6 81h0M460.9 78.6h0M459.4 79.7h0M464.2 71.5h0M454 60.5h0M458.4 67h0M460.6 70.6h0M458.4 73.4h0M466.1 75.8h0M465.9 81.3h0M466.6 75.7h0M454.5 74.5h0M463.9 80.8h0M466.1 70.3h0M462.8 79.2h0M459.7 72.6h0M458.7 71.8h0M465 74.5h0M456 73.6h0M468 87.8h0M460.4 77.9h0M456.9 81h0M461.2 61.2h0M465.5 70.9h0M455.7 70.3h0M458.8 77.3h0M452.8 71.3h0M465.2 71.2h0M462.4 74.3h0M465.2 63.8h0M457.1 74.6h0M468.1 68h0M459.4 80.2h0M463.9 83.5h0M452.7 79.7h0M468.5 81.8h0M462.8 72.2h0M468 67.5h0M467.8 75.8h0M452.9 80.7h0M456.4 60.5h0M465.7 83.1h0M458 79.5h0M453.3 76.2h0M462.2 73.2h0M461.3 64.6h0M459 66.1h0M453.5 82.9h0M455.7 67.4h0M458.8 72.3h0M453 78.1h0M456.1 77.9h0M461.9 75.6h0M465.6 69.2h0M452.3 68h0M458.2 80.2h0M456.7 79.6h0M457.4 75.3h0M459.3 69.4h0M466.4 62.7h0M464.8 72.3h0M463.6 78.6h0M453.4 77.2h0M457.9 70.5h0M456.5 73.1h0M467.9 87.9h0M461.9 74.2h0M464.5 67.8h0M461.6 67.7h0M457.9 79.1h0M454.9 67.7h0M457.6 67.7h0M460.3 75.6h0M467.9 76.8h0M462.4 69.3h0M463.6 70.9h0M455.9 67.5h0M452.3 67.5h0M461.6 64.9h0M464.7 72.3h0M468.3 79.2h0M455.8 76.5h0M461.8 67.5h0M464.5 72.5h0M460.5 85.8h0M457.8 71.1h0M461.6 63.5h0M459.1 76.6h0M459.9 73.6h0M467.8 72.6h0M456 66.8h0M453.4 63.5h0M468.3 87h0M464.5 87.6h0M460.1 81.7h0M458.7 80.2h0M466.8 76.1h0M452.5 53.5h0M459.9 91.7h0" stroke="#12BFA6" stroke-width="2.0" stroke-linecap="round" opacity="0.88"/>
<path d="M484.1 82.7h0M484.7 77.9h0M474.2 69.5h0M483.5 67.5h0M484.7 69.5h0M488.1 79.1h0M486.8 81.8h0M489.1 74.6h0M475.3 76.6h0M477 73.6h0M488.3 68.6h0M489 71.9h0M486.3 71.7h0M479 78.2h0M486.9 74.8h0M480.4 69.2h0M478.6 70.2h0M485.7 70.8h0M482.4 69.5h0M473.8 71.4h0M485.2 76h0M477.9 76.8h0M483.2 80.5h0M478 68.5h0M479.2 78.1h0M488.5 77.6h0M484.2 68.6h0M479.4 72.8h0M488.5 72.6h0M483.9 66.7h0M486.8 71.4h0M487.1 74.1h0M476.2 70h0M480.4 70.4h0M483.7 69.8h0M486.7 84.5h0M477 83.3h0M480.8 68.3h0M479.9 69.4h0M486 80.2h0M483.6 84h0M484 75h0M477.4 73.7h0M478 69.4h0M481.2 77.1h0M478.5 75.6h0M473.4 76.7h0M485 77.7h0M478.4 76.5h0M483.3 67.9h0M480.2 77.5h0M484.8 76.5h0M474.4 78.5h0M486.3 73.7h0M486.2 70.3h0M475.1 74.7h0M476.5 72.2h0M476.3 69h0M486.9 77.1h0M482.4 69.7h0M473.7 73.1h0M482.4 76.9h0M488.3 75h0M479.2 71.2h0M478.9 77.2h0M485.7 75h0M485.3 76.3h0M487.2 84h0M487.6 74.8h0M473.6 73.7h0M482.6 79.3h0M483.9 82.5h0M488.7 70.2h0M482.2 75.6h0M488.5 68h0M481.3 74.9h0M483.5 78.4h0M481.1 82.6h0M475.5 78.3h0M473.7 82.8h0M480.9 72.7h0M478.3 72.1h0M481.2 69.8h0M473.3 66.1h0M484.8 67.9h0M479.8 71.7h0M485.8 72.6h0M486.3 72.8h0M473.8 79.2h0M477.7 78.6h0M488.4 81.3h0M476.4 70.3h0M473.9 80.7h0M486.9 69.2h0M480.7 77.6h0M476 66.7h0M479.1 74.8h0M487.2 73.2h0M480.9 77.1h0M479 83.5h0M487.1 76.1h0M475.6 77.5h0M481 79.9h0M477.4 74.5h0M475.4 75.1h0M474.3 74.7h0M484.5 74.9h0M477 72.7h0M487.8 70.4h0M472.9 76.6h0M479.8 70.8h0M473.6 73.3h0M474 69.7h0M478.9 73.2h0M488.8 68.1h0M477.1 77.4h0M481.8 73.1h0M476.5 70.4h0M476.6 86.1h0M480 69.4h0M484.8 67.5h0M488.7 76.4h0M476.4 78.4h0M488 75.6h0M477.7 77h0M476.8 70.1h0M483.8 70.2h0M473.1 70.4h0M482.3 78.6h0M486.7 72h0M476.9 68.5h0M485.1 76.9h0M474.2 73.8h0M487 80.7h0M480.2 77h0M474.1 71.9h0M484.6 84.2h0M481.9 72.8h0M486.1 74.6h0M487.2 70.7h0M473.1 77.8h0M480.2 74.3h0M487.3 80.1h0M482 76h0M473.9 75h0M484.6 73.6h0M476.4 81.4h0M486.3 79.4h0M480.9 71.4h0M483.8 69.3h0M479.2 70.1h0M474.2 78.1h0M478.7 70.6h0M487.7 77.4h0M488.4 79.3h0M473.3 79.3h0M476.4 75.5h0M484.9 78.9h0M475.7 68.9h0M473.9 86.2h0M476.9 80.9h0M481.5 70.4h0M474.1 82.7h0M476.3 78.7h0M483.4 68.2h0M481.1 68.2h0M487.4 71.3h0M486.5 82h0M487.3 76h0M485.2 77.5h0M476.5 72.3h0M477.1 77.2h0M479.3 76.9h0M483.7 80.5h0M480.3 69h0M487.3 72.6h0M473.5 79.1h0M479.2 78h0M484.6 77.8h0M473.2 76.2h0M486.1 77.9h0M485.7 81.1h0M474.9 76h0M480.8 77h0M481.8 69.4h0M473.6 73.2h0M479.8 74.2h0M476.8 78.8h0M479 70.3h0M485.3 71.1h0M480.1 71.4h0M487.7 79.4h0M478.8 79.8h0M478.8 79.8h0M473.2 71.3h0M483.3 81.9h0M475.4 71.3h0M483.1 85.5h0M483.9 76.4h0M477.9 77.5h0M475.5 81.2h0M486.1 68.3h0M476.4 70.3h0M488.8 72.2h0M477.4 74.9h0M477.6 86.3h0M485.7 70h0M479.8 75.5h0M476.7 75h0M485.2 75.7h0M487 57.7h0" stroke="#619CFF" stroke-width="2.0" stroke-linecap="round" opacity="0.88"/>
<path d="M500.6 80.3h0M493.4 75.8h0M507.5 76.9h0M504.1 70.3h0M506.8 80h0M501.4 75.6h0M505.9 69.9h0M504.6 75.5h0M508.9 67.3h0M502.7 72.4h0M501.5 74.6h0M498.9 72.4h0M499 80h0M499.8 73.8h0M494.5 76.6h0M497.2 65.3h0M508.5 68.3h0M505.4 79.3h0M501.3 84.5h0M499 79.5h0M498.5 73.9h0M493.9 72.7h0M497.8 76.3h0M499.3 76h0M494.5 76.6h0M504 69.6h0M505 75.9h0M495.7 68.3h0M507.9 76.6h0M497.9 67h0M501.8 74.9h0M495.1 77h0M495.8 79.6h0M500.9 67.4h0M506 73.1h0M504.7 78.4h0M505 65.6h0M505 75.9h0M500.2 76.8h0M499.2 62.6h0M494.4 78.2h0M507.2 71h0M494.2 68.3h0M505.5 77.1h0M503.5 76.4h0M497.9 65.1h0M499.9 73.4h0M502.9 77.3h0M505.9 64h0M500.5 66.6h0M500.7 67.8h0M506 68.7h0M502.7 74.6h0M503.3 84.4h0M494 77.8h0M501.4 81.8h0M495.4 70.3h0M496.5 74.2h0M497.4 65.5h0M508 70.1h0M506.5 75.7h0M504.9 71.9h0M505.4 68.1h0M508.1 73.6h0M502 70.2h0M496 80.1h0M497.9 63.5h0M504.9 71.7h0M501.4 67.9h0M493.8 73.9h0M499 64h0M494.8 75.5h0M503.9 74.5h0M505.8 78.6h0M505.2 70.7h0M496.4 70.4h0M507.1 74.1h0M505.3 68.7h0M496.8 78.6h0M504.7 72.1h0M503 69.8h0M500.7 65.7h0M504.5 72.2h0M494 74.8h0M503.4 81.5h0M505.7 70.8h0M502.2 65.2h0M502.3 67.6h0M496.5 68.6h0M500.4 75.9h0M498.3 68.2h0M499.8 73.6h0M499 84.2h0M495 71.3h0M496.5 74.8h0M495.7 68.9h0M507 70.4h0M502.9 76.9h0M494.1 60.9h0M497.1 70.2h0M502.7 77.3h0M497.4 74.9h0M498.4 67.9h0M504.8 65.6h0M506.1 75.6h0M496.1 63.2h0M500.7 75.1h0M503.4 77.9h0M496.8 73.9h0M494 70.9h0M506.2 65.4h0M504.8 66.5h0M496.3 75.1h0M508.3 65.5h0M509.6 79.9h0M500 67.8h0M509 76.4h0M504.8 71.6h0M508.1 71h0M494 63.5h0M505.4 74.4h0M495.5 65.1h0M494.1 76.9h0M504.5 75.1h0M499.6 73.4h0M509.2 74.2h0M506.5 64.3h0M503.4 72.1h0M506.5 74h0M509.6 75.4h0M496.1 64.8h0M509 81.7h0M505.2 66h0M496.1 65.7h0M500.3 79.2h0M503.2 79.1h0M497.6 69.9h0M498.6 66.7h0M501.3 79.2h0M500.8 72h0M496.3 65.5h0M504.1 78.4h0M509.2 77.5h0M502.4 71.2h0M508.8 63.9h0M508.5 70.8h0M502.6 73.5h0M502.8 71.9h0M499.9 73.8h0M493.7 86.7h0M497.5 67.2h0M501.9 78.1h0M502.9 78.8h0M506.7 79.5h0M507.9 76.5h0M498.1 79h0M499.8 79.2h0M506.4 76.3h0M507.7 64.1h0M493.9 74.6h0M496.8 72.8h0M507.1 79.9h0M501.2 61.3h0M495.1 66.4h0M502.1 72.6h0M497.3 76.8h0M509.4 77.7h0M502.4 82.1h0M493.5 67.2h0M506.8 76.8h0M508.5 72.7h0M505.8 71.1h0M493.6 79.1h0M502.3 73.6h0M500.5 72.8h0M502.1 79.5h0M493.7 70.7h0M503.7 74.5h0M497.4 67.8h0M495.4 73.4h0M503.4 67.7h0M495.5 76.9h0M497.7 80.2h0M504.3 70.7h0M500.5 76h0M500 69.8h0M494.8 71.4h0M504.5 74.5h0M498.5 80.8h0M501.5 81.5h0M500.4 80.5h0M501.6 72.7h0M503.5 79.1h0M499.6 73.3h0M495.7 72.9h0M503 68h0M499.3 75.6h0M498.7 74.9h0M505.7 67.5h0M505.2 74.7h0M493.3 62.3h0M498.5 69.9h0M507.2 77.2h0M505.2 74.6h0M495.5 73.4h0M494.2 72.8h0M507.3 73.5h0M500.4 72h0M496.2 73.4h0M505 68.9h0" stroke="#F564E3" stroke-width="2.0" stroke-linecap="round" opacity="0.88"/>
<line x1="398.8" y1="47" x2="398.8" y2="93.9" stroke="#1a1a1a" stroke-width="1.1"/>
<line x1="395.9" y1="47" x2="401.7" y2="47" stroke="#1a1a1a" stroke-width="1.1"/>
<line x1="395.9" y1="93.9" x2="401.7" y2="93.9" stroke="#1a1a1a" stroke-width="1.1"/>
<rect x="391.2" y="62.6" width="15.2" height="12.3" rx="0.8" fill="#fff" fill-opacity="0.2" stroke="#000" stroke-width="1.2"/>
<line x1="391.2" y1="68.9" x2="406.4" y2="68.9" stroke="#000" stroke-width="1.9"/>
<circle cx="398.8" cy="66.7" r="1.55" fill="#000"/>
<circle cx="398.8" cy="6.9" r="1.6" fill="#F03030" fill-opacity="0.24" stroke="#E03030" stroke-opacity="0.32" stroke-width="0.5"/>
<circle cx="398.8" cy="21.2" r="1.6" fill="#F03030" fill-opacity="0.24" stroke="#E03030" stroke-opacity="0.32" stroke-width="0.5"/>
<circle cx="398.8" cy="26" r="1.6" fill="#F03030" fill-opacity="0.24" stroke="#E03030" stroke-opacity="0.32" stroke-width="0.5"/>
<circle cx="398.8" cy="31.4" r="1.6" fill="#F03030" fill-opacity="0.24" stroke="#E03030" stroke-opacity="0.32" stroke-width="0.5"/>
<circle cx="398.8" cy="37.6" r="1.6" fill="#F03030" fill-opacity="0.24" stroke="#E03030" stroke-opacity="0.32" stroke-width="0.5"/>
<circle cx="398.8" cy="41.7" r="1.6" fill="#F03030" fill-opacity="0.24" stroke="#E03030" stroke-opacity="0.32" stroke-width="0.5"/>
<circle cx="398.8" cy="42.85" r="1.6" fill="#F03030" fill-opacity="0.24" stroke="#E03030" stroke-opacity="0.32" stroke-width="0.5"/>
<circle cx="398.8" cy="44" r="1.6" fill="#F03030" fill-opacity="0.24" stroke="#E03030" stroke-opacity="0.32" stroke-width="0.5"/>
<line x1="419.33" y1="59.1" x2="419.33" y2="89" stroke="#1a1a1a" stroke-width="1.1"/>
<line x1="416.43" y1="59.1" x2="422.23" y2="59.1" stroke="#1a1a1a" stroke-width="1.1"/>
<line x1="416.43" y1="89" x2="422.23" y2="89" stroke="#1a1a1a" stroke-width="1.1"/>
<rect x="411.73" y="70.9" width="15.2" height="8" rx="0.8" fill="#fff" fill-opacity="0.2" stroke="#000" stroke-width="1.2"/>
<line x1="411.73" y1="74.5" x2="426.93" y2="74.5" stroke="#000" stroke-width="1.9"/>
<circle cx="419.33" cy="73.6" r="1.55" fill="#000"/>
<circle cx="419.33" cy="45.8" r="1.6" fill="#F03030" fill-opacity="0.24" stroke="#E03030" stroke-opacity="0.32" stroke-width="0.5"/>
<circle cx="419.33" cy="91.7" r="1.6" fill="#F03030" fill-opacity="0.24" stroke="#E03030" stroke-opacity="0.32" stroke-width="0.5"/>
<line x1="439.86" y1="62.6" x2="439.86" y2="88.5" stroke="#1a1a1a" stroke-width="1.1"/>
<line x1="436.96" y1="62.6" x2="442.76" y2="62.6" stroke="#1a1a1a" stroke-width="1.1"/>
<line x1="436.96" y1="88.5" x2="442.76" y2="88.5" stroke="#1a1a1a" stroke-width="1.1"/>
<rect x="432.26" y="71.3" width="15.2" height="7.6" rx="0.8" fill="#fff" fill-opacity="0.2" stroke="#000" stroke-width="1.2"/>
<line x1="432.26" y1="74.5" x2="447.46" y2="74.5" stroke="#000" stroke-width="1.9"/>
<circle cx="439.86" cy="74.3" r="1.55" fill="#000"/>
<line x1="460.39" y1="56.2" x2="460.39" y2="89.9" stroke="#1a1a1a" stroke-width="1.1"/>
<line x1="457.49" y1="56.2" x2="463.29" y2="56.2" stroke="#1a1a1a" stroke-width="1.1"/>
<line x1="457.49" y1="89.9" x2="463.29" y2="89.9" stroke="#1a1a1a" stroke-width="1.1"/>
<rect x="452.79" y="68.2" width="15.2" height="9.4" rx="0.8" fill="#fff" fill-opacity="0.2" stroke="#000" stroke-width="1.2"/>
<line x1="452.79" y1="73.1" x2="467.99" y2="73.1" stroke="#000" stroke-width="1.9"/>
<circle cx="460.39" cy="72.7" r="1.55" fill="#000"/>
<circle cx="460.39" cy="53.5" r="1.6" fill="#F03030" fill-opacity="0.24" stroke="#E03030" stroke-opacity="0.32" stroke-width="0.5"/>
<circle cx="460.39" cy="91.7" r="1.6" fill="#F03030" fill-opacity="0.24" stroke="#E03030" stroke-opacity="0.32" stroke-width="0.5"/>
<line x1="480.92" y1="64" x2="480.92" y2="88.5" stroke="#1a1a1a" stroke-width="1.1"/>
<line x1="478.02" y1="64" x2="483.82" y2="64" stroke="#1a1a1a" stroke-width="1.1"/>
<line x1="478.02" y1="88.5" x2="483.82" y2="88.5" stroke="#1a1a1a" stroke-width="1.1"/>
<rect x="473.32" y="70.9" width="15.2" height="7.6" rx="0.8" fill="#fff" fill-opacity="0.2" stroke="#000" stroke-width="1.2"/>
<line x1="473.32" y1="74.9" x2="488.52" y2="74.9" stroke="#000" stroke-width="1.9"/>
<circle cx="480.92" cy="74.5" r="1.55" fill="#000"/>
<circle cx="480.92" cy="57.7" r="1.6" fill="#F03030" fill-opacity="0.24" stroke="#E03030" stroke-opacity="0.32" stroke-width="0.5"/>
<line x1="501.45" y1="60" x2="501.45" y2="86.7" stroke="#1a1a1a" stroke-width="1.1"/>
<line x1="498.55" y1="60" x2="504.35" y2="60" stroke="#1a1a1a" stroke-width="1.1"/>
<line x1="498.55" y1="86.7" x2="504.35" y2="86.7" stroke="#1a1a1a" stroke-width="1.1"/>
<rect x="493.85" y="69.1" width="15.2" height="7.2" rx="0.8" fill="#fff" fill-opacity="0.2" stroke="#000" stroke-width="1.2"/>
<line x1="493.85" y1="73.4" x2="509.05" y2="73.4" stroke="#000" stroke-width="1.9"/>
<circle cx="501.45" cy="73" r="1.55" fill="#000"/>
<line x1="386.5" y1="2.6" x2="513.8" y2="2.6" stroke="#9a9a9a" stroke-width="1.5"/>
<line x1="513.8" y1="2.6" x2="513.8" y2="97.6" stroke="#555" stroke-width="1.1"/>
<line x1="386.5" y1="97.6" x2="514.3" y2="97.6" stroke="#555" stroke-width="1.1"/>
<line x1="386.5" y1="2.1" x2="386.5" y2="98.1" stroke="#555" stroke-width="1.1"/>
<line x1="383.5" y1="84.3" x2="386.5" y2="84.3" stroke="#333" stroke-width="1.1"/>
<text x="380.6" y="87.96" font-size="9.6" fill="#4d4d4d" text-anchor="end">20</text>
<line x1="383.5" y1="57.3" x2="386.5" y2="57.3" stroke="#333" stroke-width="1.1"/>
<text x="380.6" y="60.96" font-size="9.6" fill="#4d4d4d" text-anchor="end">40</text>
<line x1="383.5" y1="30.3" x2="386.5" y2="30.3" stroke="#333" stroke-width="1.1"/>
<text x="380.6" y="33.96" font-size="9.6" fill="#4d4d4d" text-anchor="end">60</text>
<line x1="383.5" y1="3.3" x2="386.5" y2="3.3" stroke="#333" stroke-width="1.1"/>
<text x="380.6" y="6.96" font-size="9.6" fill="#4d4d4d" text-anchor="end">80</text>
<line x1="398.8" y1="97.6" x2="398.8" y2="100.6" stroke="#333" stroke-width="1.1"/>
<text x="398.8" y="111.4" font-size="10.5" fill="#4d4d4d" text-anchor="middle">HW</text>
<line x1="419.33" y1="97.6" x2="419.33" y2="100.6" stroke="#333" stroke-width="1.1"/>
<text x="419.33" y="111.4" font-size="10.5" fill="#4d4d4d" text-anchor="middle">NB</text>
<line x1="439.86" y1="97.6" x2="439.86" y2="100.6" stroke="#333" stroke-width="1.1"/>
<text x="439.86" y="111.4" font-size="10.5" fill="#4d4d4d" text-anchor="middle">SF</text>
<line x1="460.39" y1="97.6" x2="460.39" y2="100.6" stroke="#333" stroke-width="1.1"/>
<text x="460.39" y="111.4" font-size="10.5" fill="#4d4d4d" text-anchor="middle">WF</text>
<line x1="480.92" y1="97.6" x2="480.92" y2="100.6" stroke="#333" stroke-width="1.1"/>
<text x="480.92" y="111.4" font-size="10.5" fill="#4d4d4d" text-anchor="middle">SN</text>
<line x1="501.45" y1="97.6" x2="501.45" y2="100.6" stroke="#333" stroke-width="1.1"/>
<text x="501.45" y="111.4" font-size="10.5" fill="#4d4d4d" text-anchor="middle">RM</text>
<text x="450.25" y="125.8" font-size="12.7" font-weight="normal" fill="#000" text-anchor="middle" textLength="35.9" lengthAdjust="spacingAndGlyphs">Station</text>
<text transform="translate(365.6 50.5) rotate(-90)" font-size="12.7" font-weight="normal" fill="#000" text-anchor="middle" textLength="67" lengthAdjust="spacingAndGlyphs">Nitrate(mg/l)</text>
<path d="M571.6 84.3h0M575.4 83.7h0M573.8 89.1h0M579.7 87.4h0M578.6 85.8h0M576.6 90.4h0M570.2 92.2h0M571.9 90.5h0M571.5 88.9h0M575.5 83.6h0M576.8 83.1h0M571.3 90.9h0M575.3 91.1h0M576.9 81.4h0M569.1 89.1h0M576 86.2h0M581.8 90.2h0M581.1 88.3h0M575.7 86.2h0M568.1 89.5h0M568.8 86.2h0M574.3 88.7h0M578.2 90.6h0M572.8 88.1h0M571.4 81.5h0M579.4 86h0M574.5 89h0M569.8 87.6h0M581.8 85h0M568.7 89.3h0M582.7 88.9h0M572.5 87h0M570.7 89h0M580.5 90h0M568.1 89.8h0M582.4 89.1h0M580.5 87h0M571.3 89.1h0M580.1 82.1h0M580.1 83.5h0M573.6 90.1h0M567.6 90.4h0M577.5 90.2h0M582 91.3h0M577.3 83.5h0M575.5 86.7h0M571.6 91.5h0M573.1 89.6h0M572.8 87.7h0M576.9 87.6h0M569.1 86.8h0M578.3 86.7h0M576.5 85.4h0M576.2 89.9h0M570.7 89.5h0M575.2 82h0M580.4 84.4h0M577.9 88.3h0M574.7 83.4h0M574.3 89.1h0M578.1 92h0M580.9 84.7h0M572.3 84.9h0M576.1 84.9h0M570.4 83.6h0M576.7 87h0M581.5 87.5h0M581.3 90.4h0M576.1 91.2h0M574.7 88.5h0M570.2 89.8h0M573.4 90.4h0M571.6 90.4h0M575.3 90.7h0M568.4 86.1h0M569.9 82.8h0M572 91.1h0M569.2 90.7h0M579.4 85.6h0M571.8 80.3h0M576.5 90h0M582.1 84.6h0M569.3 90.7h0M578.3 87.2h0M570.1 85.1h0M576.7 88.7h0M572.1 90h0M568.6 91.2h0M575.3 83.8h0M581.2 90.9h0M577.8 83.2h0M571.6 90.4h0M571.7 90.6h0M576.2 84.2h0M581 84.8h0M579.9 80.3h0M568.7 83.8h0M571.5 89h0M570.5 87.2h0M568 87.2h0M570.2 87.3h0M575.9 89.2h0M582.4 88.9h0M571.2 88.7h0M582.1 89.8h0M581.1 90.6h0M581.4 82.7h0M574.4 86.1h0M567.7 82.6h0M580.5 91.4h0M568.2 90.7h0M570.4 90.9h0M578.1 83.9h0M570.4 88.9h0M571.6 91.2h0M575 91.3h0M580.4 91.2h0M571.9 85.7h0M574.4 84.9h0M571.9 90.3h0M579.9 88.5h0M572 82.1h0M575 90.6h0M579.3 89.7h0M576.3 83.1h0M580.5 83.1h0M571.8 84.9h0M569.8 88.8h0M569.3 82.4h0M576.7 88.7h0M574.2 88.2h0M575.8 88.6h0M572.7 90.9h0M580.2 91.9h0M573.1 90.4h0M575.4 91.2h0M578.2 89.4h0M572.4 84.7h0M579.6 92.4h0M573.6 87.2h0M569 88.8h0M581.1 85h0M581.7 85.5h0M577.1 85.2h0M581.3 90.8h0M568.3 82.9h0M574.8 84.2h0M573 89.1h0M576.4 88.7h0M576.1 90.5h0M572.7 88.2h0M575.5 89.7h0M572 87.2h0M574.3 91.6h0M572.2 84.9h0M581.3 88.7h0M581.7 85.5h0M569.3 87h0M575.8 89.9h0M573.4 88.3h0M579.1 88.2h0M575.4 88.4h0M567.6 89h0M577.8 89.5h0M568.7 85.7h0M569.9 83h0M580.8 88.7h0M574.2 87.4h0M574.7 80.9h0M568.7 86.3h0M569.9 83h0M578.1 90.6h0M568.3 84.8h0M579 86.6h0M574.3 85h0M577.3 86h0M579.3 86h0M576.4 86.8h0M571.3 79.9h0M571.7 85.1h0M575.3 90.5h0M577.3 90.2h0M575 90.9h0M570.9 86.8h0M568 86.6h0M570.6 86.1h0M581.1 86.2h0M582 84.6h0M578.3 84.4h0M580.4 89.4h0M575.8 84.3h0M572.7 90.8h0M582.1 86.7h0M569.1 90.8h0M578.2 91h0M576.9 87.5h0M581.3 88.6h0M568.4 85.7h0M568.2 90.4h0M574.1 81.8h0M570.7 89.3h0M580.1 81.4h0M578 88.7h0M579 80.6h0M582.3 86.5h0M578.8 87.1h0M579.9 88.1h0M579.9 89.2h0M580 90.1h0M582.6 88.9h0M582.4 6.4h0M576.5 7h0M573.1 16.3h0M568.6 17h0M567.5 22.9h0M573.3 28.8h0M574 42.8h0M568.6 46.7h0M570.7 56.1h0M580.7 56.9h0M578.8 60.2h0M572.8 66.1h0M568.9 71.4h0M581.7 73h0M581.3 75h0M579.1 77h0" stroke="#F8766D" stroke-width="2.0" stroke-linecap="round" opacity="0.88"/>
<path d="M590.8 88.5h0M589.5 93.3h0M593.5 88.2h0M597 87.8h0M587.7 91.5h0M591.9 88h0M590.4 87.6h0M592.6 86.6h0M590.7 90.5h0M599.7 90.8h0M595 87h0M588.7 87.8h0M591.1 91.9h0M601.9 88.8h0M588.6 86.5h0M592 87.6h0M592.7 89.1h0M596.2 91.7h0M599.2 88.5h0M590.3 91.5h0M592.6 91h0M592.5 91.8h0M599.5 89.9h0M596.9 89.1h0M600.9 86.9h0M589.3 91.4h0M600.1 91.9h0M595.5 87.5h0M596.1 91.3h0M590.6 93.2h0M588.6 87.8h0M591.6 87.2h0M601.8 90.9h0M587.9 91.7h0M594.4 86.3h0M599 91.9h0M595.6 89.6h0M601.8 88.6h0M594.2 91.4h0M589.6 87.8h0M586.8 87.9h0M590.7 87.7h0M589.6 91.8h0M597.4 88.3h0M594.8 91.5h0M586.9 87.7h0M599.6 91.7h0M595 86.1h0M591.1 87h0M591.7 91h0M596.3 89.3h0M598.7 92.1h0M586.9 86.6h0M599.4 90.3h0M594.2 92.4h0M592.2 88.3h0M598.7 90.3h0M600.1 90.4h0M588.1 85.1h0M591.9 87.1h0M595.2 88.2h0M592.5 87.2h0M599.3 90.8h0M590.2 90.6h0M592.9 92.2h0M587.2 92.3h0M598.5 90.1h0M587 88.7h0M587.8 90.9h0M599.4 89.3h0M587 89.4h0M596.6 90.9h0M591.9 90.3h0M592.9 87.7h0M595.8 89.8h0M590.5 87.5h0M588.1 87.9h0M589.1 87.4h0M587.1 88.4h0M589.2 90h0M587.7 88.1h0M596.2 88.6h0M592.1 91.1h0M591.1 89.9h0M601.2 91.8h0M589.7 93.2h0M594.9 91.1h0M586.8 85.2h0M589.1 85.8h0M592.5 90.6h0M591 86.1h0M599 89.9h0M596.3 86.3h0M587 88.8h0M589.7 89.9h0M598.8 88.2h0M601.9 90.5h0M601.4 90.4h0M593.6 89.7h0M587.8 88h0M597.4 92h0M598.1 90.4h0M593.1 88.4h0M600.4 87.4h0M588.9 90.7h0M592.6 92.4h0M601.5 86.9h0M587.3 87.3h0M601.8 90.6h0M597.1 86.4h0M598.6 89.9h0M601.9 91.8h0M595.9 89.2h0M591.2 89.4h0M589.7 86.7h0M600.2 89.6h0M600.3 87h0M592.1 90.7h0M587.7 89.4h0M591.6 91.2h0M600.9 89.9h0M595 90.6h0M596.9 87.2h0M593.5 90.5h0M597.1 91.8h0M593 87.4h0M597.2 91h0M589.2 88.6h0M592.2 88h0M601.9 89.4h0M589.2 87.5h0M591.6 90h0M588.1 91.9h0M598.8 90.7h0M601.9 91.6h0M587.9 91.7h0M596.4 90.8h0M591.5 90.1h0M597 88.6h0M590.9 92h0M599.9 91.8h0M591.6 89.1h0M588.4 87h0M601.4 91.1h0M599.9 91.9h0M594.8 89.1h0M601.1 90.7h0M592.4 91.8h0M593.8 86.5h0M601.7 91.5h0M591 88.1h0M591.6 86.4h0M598.3 88.3h0M595.1 92.4h0M590 87.9h0M601.7 91.7h0M590.4 91.5h0M589.5 89.8h0M590.1 89.8h0M598.9 89.5h0M590.1 91.3h0M598 89.7h0M586.9 91.2h0M595.7 86.7h0M592.4 90.8h0M591.8 91.4h0M601 91.6h0M601.6 85.4h0M601.7 86.8h0M599.3 87.6h0M597.2 87.3h0M599.1 90.8h0M597.2 88.9h0M597.6 90.4h0M588.7 89.5h0M599.3 89.9h0M591 91.7h0M599 90.3h0M587.6 88.8h0M596.1 86.9h0M595.5 88.9h0M588.4 87.8h0M590 88.9h0M591.9 90h0M599 86.5h0M588.3 87h0M590.5 90.3h0M594.2 91.6h0M588.3 89.8h0M601.6 86.6h0M588.4 90.3h0M591.6 92.4h0M587.5 90.5h0M601.1 92.5h0M595.2 86.2h0M593.8 92.6h0M591.8 87h0M587.7 89.1h0M592.8 91h0M601.3 87.5h0M600.2 91.8h0M596.1 85.9h0M590.3 89.2h0M600.9 91.5h0M589.8 91.6h0M588.9 87.4h0M588.5 91.3h0M588.7 92.3h0M587 91.1h0M601.8 87.9h0M600.9 55.3h0M589.1 79.2h0M586.7 81.2h0M598.8 83.6h0M588.5 80.3h0M598.8 81.8h0M593.3 83.4h0M600.2 76.8h0M597 77.4h0M589.8 81.2h0M599.1 79h0" stroke="#B79F00" stroke-width="2.0" stroke-linecap="round" opacity="0.88"/>
<path d="M613.1 91.5h0M617.4 93.3h0M607.8 91.9h0M606.8 92.2h0M607.9 86.6h0M607.3 88.6h0M619.6 92.5h0M606.7 91h0M617 89.4h0M610.9 90.5h0M614.1 90.2h0M612.9 88.2h0M609.5 91.7h0M613.4 88.7h0M618.9 88h0M614.6 91.6h0M613.6 89.7h0M607.2 91.7h0M611.7 90.3h0M616.9 90.9h0M610.6 93.3h0M619.9 87.5h0M606.3 89.5h0M612.6 87h0M608.3 89.8h0M620.9 91.7h0M619.6 89.2h0M611.8 90.3h0M610.9 91.7h0M606.6 87.2h0M609.8 92h0M613 89.3h0M616.8 86.8h0M616 86.1h0M612.1 92h0M621.3 89.6h0M608.8 87.1h0M612.3 89.4h0M610.3 91h0M617.9 86.7h0M619.5 89.7h0M607.3 87.8h0M608 85.4h0M615.7 92.3h0M606 92.2h0M610.6 89.9h0M606.6 88.6h0M614.5 88.9h0M609.7 86h0M609.1 89.9h0M621 87.1h0M620.2 90.2h0M619.4 90.1h0M610.5 87.7h0M606.1 92.5h0M614.7 92.5h0M619.9 89.3h0M621.1 92.2h0M607.6 86.8h0M608.7 86.1h0M609.5 90.4h0M618.4 90.8h0M613.5 91.7h0M610.5 90h0M613.5 86.9h0M619.3 90.3h0M610.8 91.1h0M620.3 87.2h0M615.1 92.5h0M618 91.5h0M611 90.9h0M611.2 87.9h0M621 92.2h0M618.1 88.4h0M606.4 90.4h0M613.9 93.2h0M613.9 90.5h0M620 89h0M613.2 92.3h0M615.1 86.7h0M613.7 88.6h0M611 93.3h0M618.2 89.7h0M614.8 91.6h0M614.7 89.2h0M617.7 88.6h0M610.2 91h0M618.1 87h0M614.3 91.5h0M619.8 88.2h0M620.5 91.4h0M609.1 89.3h0M616.8 91h0M620.9 91.8h0M607.8 87.6h0M610.8 87.5h0M611.1 88.5h0M614.3 87.8h0M618.3 92.2h0M613.2 87.6h0M615.1 86.7h0M614.7 91.5h0M614.8 90.8h0M616.8 91.7h0M617.6 89.9h0M610.8 91.6h0M611.3 91.8h0M607 91.9h0M608 91.8h0M613.8 86h0M610.7 87.9h0M620.2 88.2h0M614.8 91.9h0M616.7 91.5h0M613.5 93.3h0M608.3 92h0M609.8 84.4h0M618.1 90h0M611 91h0M607.2 89.5h0M607.3 87.7h0M608.8 91.9h0M613.6 89.7h0M614.6 88.2h0M614.1 87.1h0M614.7 87.7h0M613.7 92.1h0M620.6 91.7h0M610.1 91.7h0M620.9 92.9h0M617.8 88.2h0M606.7 85.9h0M612 88.2h0M620.5 92.5h0M616.3 88.1h0M613.4 91.1h0M618.1 86.3h0M621.1 90.9h0M613.2 85.8h0M619.6 90.3h0M613.8 88.1h0M621.4 87.5h0M612.7 87.7h0M615.7 92h0M616.8 90.6h0M606.1 86.8h0M620.5 91.2h0M606.5 90.6h0M614.9 92.4h0M618.9 93h0M619.5 87.3h0M610.6 92.4h0M613.9 88.1h0M612.9 86.2h0M615.5 92.5h0M612.9 88.4h0M607.3 90.6h0M620.8 91.3h0M613.7 90.8h0M610.5 87.1h0M610.2 89.7h0M621 88.7h0M612.6 89.6h0M608.8 90.9h0M620.7 86.7h0M607.7 91.7h0M613.3 91.7h0M606.2 89.4h0M614 84.7h0M606.5 91h0M619.2 87.3h0M610.5 88.5h0M611.4 91.9h0M611.4 87.3h0M610.9 90.1h0M610.7 90.2h0M619.3 90h0M620.7 87.2h0M606.4 87.3h0M615.4 90.9h0M616.2 88.8h0M618.3 90.9h0M614.1 93.3h0M614.7 90.9h0M619.5 87.6h0M621.1 91.8h0M621.4 91.5h0M621.4 91.6h0M612.5 87.8h0M612.6 88.7h0M614.1 86.9h0M608.8 91h0M618 91.8h0M613.8 87.6h0M607.8 92h0M607.9 87.9h0M614.9 88.3h0M621.1 90.5h0M614.7 92.3h0M609.3 89.6h0M616.3 89.8h0M617.8 86.8h0M606.8 90.8h0M615.3 91.6h0M608.8 88.5h0M618.1 87.6h0M607.1 92h0M617.6 86.5h0M607.3 91.8h0M610.9 87.7h0M614.2 65.9h0M611.9 68h0M606.5 80h0M616.2 80.7h0M607.2 74.9h0M608.3 73.9h0M608.4 77.5h0M611.7 72.5h0M606.4 72.9h0M615.2 81.4h0M610.4 75.3h0" stroke="#00BA38" stroke-width="2.0" stroke-linecap="round" opacity="0.88"/>
<path d="M634.8 88.3h0M635.2 86h0M634.4 82.7h0M634.6 80.9h0M639.3 91.3h0M639.2 88.6h0M631.5 89.4h0M636.3 85.9h0M639.6 83.7h0M629.8 91h0M629.7 80.2h0M629.5 86.5h0M634.6 76.8h0M638.4 90.2h0M634.8 87.8h0M635.3 90.7h0M627.5 89.4h0M639.1 85.2h0M638.6 88.1h0M634.9 89.2h0M625.9 90.5h0M626 85.4h0M635 87.9h0M634.9 81.3h0M634.5 88.8h0M633.3 83.9h0M626.3 88.8h0M636.7 91.4h0M631.7 92.3h0M640 82.4h0M634.3 90.4h0M635.9 80.7h0M627.5 82.2h0M629.2 90.2h0M627.6 83.4h0M629.5 90.8h0M629 87.6h0M633.4 82.5h0M635.5 89.1h0M626.4 85.3h0M635.8 79.4h0M637.8 85.8h0M630.5 87.6h0M636.2 89.8h0M626.1 85.9h0M638.6 90.4h0M631.3 91.1h0M632.6 90.4h0M631.8 85.5h0M629.2 85.7h0M633.8 85.3h0M639.6 88.2h0M634.9 89.7h0M639.5 89h0M628.7 91h0M634.8 87.3h0M633.8 84.2h0M640.8 90.4h0M625.6 88.9h0M634.9 83.5h0M628.7 88.2h0M633.4 87.8h0M634.7 86.9h0M633.9 84.5h0M626.8 83.4h0M629.5 88h0M626.2 90.7h0M633.6 83.2h0M633.9 90.5h0M634 80h0M636.6 89.4h0M634 84.2h0M633 81.8h0M639.9 82.4h0M626.5 88h0M626.1 83.9h0M628.7 84.5h0M631.4 89.5h0M639.5 90.3h0M633 90.6h0M639.9 87.7h0M634.6 91.2h0M629.2 83.5h0M627.6 78.1h0M637.9 89.8h0M631.6 87.6h0M627.1 88.5h0M631.2 88.3h0M630.7 84h0M631.8 91.2h0M640 89.4h0M628.6 91.1h0M630.2 90.7h0M637.3 80.8h0M634.3 85.5h0M634.7 91.5h0M634.8 83.4h0M634.5 90.4h0M639.2 90.4h0M631.9 76.9h0M638.4 80.6h0M625.4 85.6h0M629.7 91.6h0M628.3 91.7h0M635.8 89.7h0M631.7 89.8h0M640.1 90.6h0M635.3 85.3h0M637.1 83.4h0M640.2 91.6h0M626.9 92.5h0M636.1 88.5h0M636.8 90.2h0M626.7 88.8h0M633.4 83.6h0M629.1 85.3h0M639.7 85.3h0M634.9 87.4h0M631.7 91h0M637.6 90.5h0M626.8 80.9h0M627.2 87.2h0M632.2 79.9h0M640.2 85.7h0M636 89.1h0M631.6 86h0M626.3 83.5h0M625.7 90.5h0M626.9 86.2h0M634.5 88.5h0M634.4 90.8h0M633.1 85.1h0M626 83.6h0M630.1 90.9h0M631.7 88.3h0M635 83.3h0M637.3 92h0M640.5 88.8h0M636.8 79.1h0M639.1 92h0M634.1 86.9h0M629.7 85.1h0M629.4 91.4h0M631.2 89.5h0M625.6 90.9h0M633.4 86.1h0M639.3 87.2h0M638.1 90.1h0M628.7 82.9h0M627.7 85.6h0M635.3 90.9h0M634.4 89.5h0M625.9 83.5h0M635.8 90.6h0M632.4 91.8h0M639.8 90.6h0M639.8 89.9h0M632.9 88.6h0M626.8 81.3h0M626.3 83.7h0M633.7 81.7h0M639.8 85.7h0M632.9 90.3h0M625.6 88.6h0M627.8 92.4h0M634.1 85.1h0M631.2 89.6h0M638.8 80.5h0M627.4 89.3h0M625.7 85h0M629.6 85h0M637 86.6h0M627.4 82.3h0M639.4 90.6h0M630.7 90.5h0M628.8 82.9h0M626.4 85.2h0M637.4 91.6h0M636.2 77.1h0M635.6 93.5h0M626.8 89.9h0M625.7 90.7h0M636.3 87.3h0M632.4 80.1h0M625.6 86.6h0M630.7 85.9h0M636 85.9h0M631.6 87.5h0M626.9 91.2h0M628.1 85.8h0M630.4 90.9h0M640.7 86h0M636.8 83.2h0M633.2 78.8h0M630.7 87.6h0M626.2 82.4h0M640.6 88.4h0M626.3 89.8h0M631.8 89.1h0M638.3 91.9h0M636.5 88h0M633.7 90.4h0M625.7 82.9h0M626.7 88.9h0M629.9 83h0M636.1 82.2h0M632.2 82.6h0M637.9 84.9h0M627.9 82.5h0M626.2 81.7h0M627.2 67h0M640.2 69.3h0M634.2 70.3h0M632.6 69.4h0M632.6 71h0M632.1 71.3h0M640.6 68.6h0" stroke="#12BFA6" stroke-width="2.0" stroke-linecap="round" opacity="0.88"/>
<path d="M644.8 89h0M645.4 90.4h0M657.2 89.5h0M653.7 84.4h0M646.8 83.6h0M645.5 91.9h0M650.9 81.3h0M652.2 83.6h0M658.5 90.8h0M657.1 84.4h0M655.7 91.3h0M650.9 87h0M646.6 84h0M645.2 86.4h0M656.2 90.9h0M652.6 91.2h0M647.1 81.6h0M645.3 85.7h0M647.6 88.5h0M644.7 89.2h0M648.8 88.4h0M650.6 81.6h0M657.5 81.8h0M658.5 81h0M649.1 89.6h0M646.9 86.4h0M657.5 87.4h0M649.4 85.8h0M654 86.7h0M649.6 87.5h0M647.6 80.1h0M647.9 90.4h0M651.1 88.9h0M647.9 78.1h0M658.7 90.9h0M646.4 90.2h0M657.5 82.8h0M654 88.1h0M653.7 80.1h0M653.9 83.7h0M648.6 90.8h0M659.6 80.5h0M650.8 90.2h0M649.5 87.8h0M658.9 90.4h0M650 83h0M649.6 88.5h0M651.1 84.1h0M658.3 90.8h0M648.6 91.4h0M650.7 87.9h0M658.2 87.6h0M644.7 90.3h0M655.7 89.8h0M659.2 82.7h0M653.6 89.2h0M651.2 87.7h0M655.6 84.4h0M654.1 92.4h0M656.7 89.8h0M655.5 88.8h0M657.7 85.9h0M653.8 82.9h0M657.7 88.3h0M656.3 88.6h0M654.1 87.7h0M657.3 91.4h0M647.4 83.8h0M656 85.5h0M660 84.2h0M654.7 91.5h0M658.8 89.7h0M659.7 89.2h0M647.8 87h0M659.5 89.3h0M651.1 89.4h0M654.1 84.4h0M655.9 90.8h0M651.2 89.6h0M659.6 83.2h0M653.9 87.2h0M654 91.6h0M653.7 85.2h0M649.7 88.4h0M650.6 90h0M654.1 87.9h0M655.4 88.9h0M655.4 90.6h0M649.9 84.3h0M657.5 89.5h0M650.1 85.9h0M649.1 92.5h0M651.2 88.1h0M654.7 88.9h0M653.7 89.8h0M654.3 77.4h0M653.5 91.1h0M657.2 89.1h0M649.7 82.9h0M652.7 91.8h0M657.7 91.2h0M658.2 88.1h0M650.4 90.5h0M653.3 91.4h0M645.7 85.8h0M656.5 90.8h0M645.2 92.4h0M654.1 81.2h0M650.1 91.7h0M654.1 83.7h0M654.2 91.3h0M648.5 88.8h0M648.9 86.8h0M657 92.1h0M650.7 88.9h0M653.6 86.7h0M658.9 89h0M659.8 86.8h0M652.6 79.8h0M651.6 90h0M646.1 87.6h0M645.9 89h0M658.8 80.4h0M647.9 91h0M645.2 91.9h0M658.3 79.5h0M656.5 90.9h0M654.3 85.2h0M654.5 78.6h0M657 88.8h0M651.2 90.1h0M657.9 86h0M653 86.4h0M655.5 90h0M656.1 80.6h0M651.7 87.1h0M651 91.4h0M659.3 91.3h0M649.3 90.1h0M648.2 83.5h0M645.6 90.3h0M658.4 89.2h0M655.8 91h0M651 90.9h0M658.9 87.2h0M655.4 88h0M650.6 80.8h0M651.9 90.8h0M658.2 91.2h0M652 82.3h0M651.2 91.4h0M654.9 82.2h0M647.9 91.5h0M650.3 85.1h0M645.2 82h0M650 84.3h0M660.1 90.9h0M647.3 91.4h0M655.5 81.7h0M654.7 89.2h0M649.9 89.3h0M654.1 92.7h0M656.1 84.6h0M646.2 87.9h0M656 83.1h0M645.7 83.9h0M646.1 89h0M646 89.2h0M654.2 82.9h0M648 91.3h0M655.8 91.1h0M646.3 88.1h0M652.7 89.4h0M655.9 83h0M653.8 89.7h0M654.1 81.2h0M646.7 84.8h0M652.8 90h0M656.3 90.2h0M646.3 90.6h0M658.6 86.9h0M652.2 88.4h0M654.5 89.3h0M645.9 89h0M654.7 90.2h0M646 81.4h0M649 89.6h0M653.7 90.2h0M657.5 83.8h0M651.2 90.3h0M647 88.4h0M647.7 90.8h0M649.4 88.5h0M658.3 87.4h0M648.6 87.9h0M648.3 80.2h0M648.7 90.6h0M649.1 81.7h0M647 86.2h0M658.1 89.3h0M658.2 80.4h0M651.8 92.3h0M646 85.2h0M651.6 76.2h0M650.8 80.7h0M657.7 87h0M657.1 87.3h0M646.3 89.9h0M647.9 84.7h0M649.6 89.1h0M646.6 66.4h0M648.7 74.8h0M650.7 73.2h0M658.1 73.8h0" stroke="#619CFF" stroke-width="2.0" stroke-linecap="round" opacity="0.88"/>
<path d="M671.6 91.6h0M670 81.4h0M664 84.8h0M673.3 87h0M664.3 84.3h0M672.1 88.5h0M667.3 90.9h0M672.7 85.4h0M667.7 78.5h0M664.1 74h0M671.8 90.1h0M677.1 91h0M665.5 78.9h0M666.6 83h0M665.4 84.6h0M671.7 80.4h0M674.4 90.5h0M673.6 87.6h0M672.3 89.4h0M676.2 89.9h0M669.8 78.7h0M679.2 82h0M669.4 86.9h0M674.7 86.1h0M671.7 86h0M673.3 89.8h0M671.7 82.2h0M664 90h0M674.1 81.5h0M678.5 77.5h0M677.7 91.7h0M670.1 78.7h0M678.9 85.1h0M675.6 90.3h0M678.5 82.3h0M671.5 88.6h0M669.5 87.6h0M670.4 81.6h0M674.6 88.6h0M675.9 80.2h0M667.8 78.7h0M673.9 84.6h0M664.2 73h0M668.3 84.5h0M678.9 85.6h0M676.7 92.1h0M677.2 87.6h0M672.4 81.5h0M665.5 87.8h0M670.3 92.5h0M669.8 85.6h0M669.8 80.3h0M668.2 77.4h0M672.1 90.3h0M668.4 80.5h0M676.9 88.1h0M664.7 79.6h0M675.7 85.8h0M672 80.5h0M671.2 81.3h0M664.5 77.7h0M669.5 75.7h0M669.2 90.7h0M675 86.4h0M677.1 87.4h0M671.7 90.3h0M665 83.8h0M672.9 87.4h0M678.8 84.3h0M678.7 90h0M667.5 90.4h0M679.1 79.9h0M666.7 84.9h0M678.1 80h0M668.3 79.4h0M670.1 90.6h0M668 89.1h0M679 85.7h0M672.7 76.7h0M668.8 90.4h0M665 88h0M666.1 86.8h0M669.1 87.1h0M672.5 90.8h0M677.3 90.6h0M672.9 80.6h0M671.8 88.7h0M667.5 78.1h0M677.7 79.6h0M669.1 85.9h0M672.4 84.2h0M677.6 84.1h0M678.7 83.5h0M667.9 74.3h0M671.4 82.4h0M674.7 82.4h0M671 90.6h0M670.4 79.4h0M666 90.1h0M670 84.3h0M667.1 75.5h0M669.9 81.7h0M665.8 88.5h0M669.2 88h0M666.4 81.9h0M675.9 83.4h0M669.3 88h0M671 82.9h0M666.1 84.9h0M673.2 85.2h0M664.9 91.1h0M674.1 92.3h0M677.8 80.3h0M666.8 86h0M676.4 89.8h0M678.1 78.8h0M672.7 81.1h0M667.2 79.7h0M678.6 87.9h0M677.3 92h0M665.7 84.1h0M667.6 87.6h0M665.4 81.2h0M677.9 88.1h0M676.5 81.6h0M679.1 84.4h0M664.8 82.2h0M667.4 83h0M676.1 83.3h0M676.4 90.4h0M676.8 88.9h0M676.1 88.7h0M674.3 90.3h0M673.2 75.9h0M677.2 87.9h0M668.9 77.4h0M666.5 83.2h0M672.1 91.5h0M667.2 81.1h0M679.3 89.6h0M668.3 87.3h0M671.1 85.1h0M670.8 77.4h0M668.3 89.4h0M670.2 79.1h0M676 91.5h0M666 83.6h0M670.4 87.3h0M671.2 84h0M668.4 79.9h0M668.4 84h0M674.1 83.1h0M669.2 84.1h0M674.6 75.2h0M668.3 88.4h0M674.3 84.5h0M667.6 73h0M674 89.6h0M679.3 77.9h0M666.1 84.6h0M669.5 88.2h0M677.9 84.4h0M669.9 82.5h0M674.7 90.4h0M675.1 78.9h0M673.8 85.5h0M668 84.4h0M671 85.1h0M670.1 86.8h0M678.5 80.8h0M664.3 92.5h0M671.3 87.7h0M678.3 82.3h0M672.5 73h0M668.6 90.4h0M665.1 91.8h0M675.2 84.3h0M674.5 81.1h0M668.6 80.1h0M671.3 88.3h0M665.8 89.9h0M670.1 87.1h0M664.8 81.2h0M668 92.4h0M665.8 88.5h0M666.5 78.4h0M675.6 91h0M670.3 86.4h0M670.8 86.4h0M667.8 83h0M672.6 88.8h0M670.3 82.7h0M664.1 87.5h0M675.9 89.1h0M677.5 81.1h0M666.5 83.7h0M673.1 78.1h0M673.9 84.8h0M664.5 91.2h0M667.8 83.2h0M665.7 82.2h0M668.1 89h0M668.1 90.1h0M666.7 84.5h0M677.3 89.9h0M671.4 91.5h0M665.7 92.7h0M667.8 87.6h0M666.2 81.1h0M678.1 90.5h0M677.2 68.9h0M672.1 67h0M673.8 67.4h0M668.8 69.5h0M675.8 68.1h0M668.5 66.5h0M678 69.8h0" stroke="#F564E3" stroke-width="2.0" stroke-linecap="round" opacity="0.88"/>
<line x1="575" y1="79.5" x2="575" y2="93.4" stroke="#1a1a1a" stroke-width="1.1"/>
<line x1="572.1" y1="79.5" x2="577.9" y2="79.5" stroke="#1a1a1a" stroke-width="1.1"/>
<line x1="572.1" y1="93.4" x2="577.9" y2="93.4" stroke="#1a1a1a" stroke-width="1.1"/>
<rect x="567.8" y="85.1" width="14.4" height="4.9" rx="0.8" fill="#fff" fill-opacity="0.2" stroke="#000" stroke-width="1.2"/>
<line x1="567.8" y1="88.5" x2="582.2" y2="88.5" stroke="#000" stroke-width="1.9"/>
<circle cx="575" cy="84.2" r="1.55" fill="#000"/>
<circle cx="575" cy="6.4" r="1.6" fill="#F03030" fill-opacity="0.24" stroke="#E03030" stroke-opacity="0.32" stroke-width="0.5"/>
<circle cx="575" cy="7" r="1.6" fill="#F03030" fill-opacity="0.24" stroke="#E03030" stroke-opacity="0.32" stroke-width="0.5"/>
<circle cx="575" cy="16.3" r="1.6" fill="#F03030" fill-opacity="0.24" stroke="#E03030" stroke-opacity="0.32" stroke-width="0.5"/>
<circle cx="575" cy="17" r="1.6" fill="#F03030" fill-opacity="0.24" stroke="#E03030" stroke-opacity="0.32" stroke-width="0.5"/>
<circle cx="575" cy="22.9" r="1.6" fill="#F03030" fill-opacity="0.24" stroke="#E03030" stroke-opacity="0.32" stroke-width="0.5"/>
<circle cx="575" cy="28.8" r="1.6" fill="#F03030" fill-opacity="0.24" stroke="#E03030" stroke-opacity="0.32" stroke-width="0.5"/>
<circle cx="575" cy="42.8" r="1.6" fill="#F03030" fill-opacity="0.24" stroke="#E03030" stroke-opacity="0.32" stroke-width="0.5"/>
<circle cx="575" cy="46.7" r="1.6" fill="#F03030" fill-opacity="0.24" stroke="#E03030" stroke-opacity="0.32" stroke-width="0.5"/>
<circle cx="575" cy="56.1" r="1.6" fill="#F03030" fill-opacity="0.24" stroke="#E03030" stroke-opacity="0.32" stroke-width="0.5"/>
<circle cx="575" cy="56.9" r="1.6" fill="#F03030" fill-opacity="0.24" stroke="#E03030" stroke-opacity="0.32" stroke-width="0.5"/>
<circle cx="575" cy="60.2" r="1.6" fill="#F03030" fill-opacity="0.24" stroke="#E03030" stroke-opacity="0.32" stroke-width="0.5"/>
<circle cx="575" cy="66.1" r="1.6" fill="#F03030" fill-opacity="0.24" stroke="#E03030" stroke-opacity="0.32" stroke-width="0.5"/>
<circle cx="575" cy="71.4" r="1.6" fill="#F03030" fill-opacity="0.24" stroke="#E03030" stroke-opacity="0.32" stroke-width="0.5"/>
<circle cx="575" cy="73" r="1.6" fill="#F03030" fill-opacity="0.24" stroke="#E03030" stroke-opacity="0.32" stroke-width="0.5"/>
<circle cx="575" cy="75" r="1.6" fill="#F03030" fill-opacity="0.24" stroke="#E03030" stroke-opacity="0.32" stroke-width="0.5"/>
<circle cx="575" cy="77" r="1.6" fill="#F03030" fill-opacity="0.24" stroke="#E03030" stroke-opacity="0.32" stroke-width="0.5"/>
<line x1="594.35" y1="84.5" x2="594.35" y2="93.3" stroke="#1a1a1a" stroke-width="1.1"/>
<line x1="591.45" y1="84.5" x2="597.25" y2="84.5" stroke="#1a1a1a" stroke-width="1.1"/>
<line x1="591.45" y1="93.3" x2="597.25" y2="93.3" stroke="#1a1a1a" stroke-width="1.1"/>
<rect x="587.15" y="88" width="14.4" height="3.3" rx="0.8" fill="#fff" fill-opacity="0.2" stroke="#000" stroke-width="1.2"/>
<line x1="587.15" y1="89.8" x2="601.55" y2="89.8" stroke="#000" stroke-width="1.9"/>
<circle cx="594.35" cy="89.5" r="1.55" fill="#000"/>
<circle cx="594.35" cy="55.3" r="1.6" fill="#F03030" fill-opacity="0.24" stroke="#E03030" stroke-opacity="0.32" stroke-width="0.5"/>
<circle cx="594.35" cy="72.4" r="1.6" fill="#F03030" fill-opacity="0.24" stroke="#E03030" stroke-opacity="0.32" stroke-width="0.5"/>
<circle cx="594.35" cy="73.55" r="1.6" fill="#F03030" fill-opacity="0.24" stroke="#E03030" stroke-opacity="0.32" stroke-width="0.5"/>
<circle cx="594.35" cy="74.7" r="1.6" fill="#F03030" fill-opacity="0.24" stroke="#E03030" stroke-opacity="0.32" stroke-width="0.5"/>
<circle cx="594.35" cy="75.85" r="1.6" fill="#F03030" fill-opacity="0.24" stroke="#E03030" stroke-opacity="0.32" stroke-width="0.5"/>
<circle cx="594.35" cy="77" r="1.6" fill="#F03030" fill-opacity="0.24" stroke="#E03030" stroke-opacity="0.32" stroke-width="0.5"/>
<circle cx="594.35" cy="78.15" r="1.6" fill="#F03030" fill-opacity="0.24" stroke="#E03030" stroke-opacity="0.32" stroke-width="0.5"/>
<circle cx="594.35" cy="79.3" r="1.6" fill="#F03030" fill-opacity="0.24" stroke="#E03030" stroke-opacity="0.32" stroke-width="0.5"/>
<circle cx="594.35" cy="80.45" r="1.6" fill="#F03030" fill-opacity="0.24" stroke="#E03030" stroke-opacity="0.32" stroke-width="0.5"/>
<circle cx="594.35" cy="81.6" r="1.6" fill="#F03030" fill-opacity="0.24" stroke="#E03030" stroke-opacity="0.32" stroke-width="0.5"/>
<circle cx="594.35" cy="82.75" r="1.6" fill="#F03030" fill-opacity="0.24" stroke="#E03030" stroke-opacity="0.32" stroke-width="0.5"/>
<circle cx="594.35" cy="83.9" r="1.6" fill="#F03030" fill-opacity="0.24" stroke="#E03030" stroke-opacity="0.32" stroke-width="0.5"/>
<line x1="613.7" y1="84" x2="613.7" y2="93.3" stroke="#1a1a1a" stroke-width="1.1"/>
<line x1="610.8" y1="84" x2="616.6" y2="84" stroke="#1a1a1a" stroke-width="1.1"/>
<line x1="610.8" y1="93.3" x2="616.6" y2="93.3" stroke="#1a1a1a" stroke-width="1.1"/>
<rect x="606.5" y="88" width="14.4" height="3.5" rx="0.8" fill="#fff" fill-opacity="0.2" stroke="#000" stroke-width="1.2"/>
<line x1="606.5" y1="89.8" x2="620.9" y2="89.8" stroke="#000" stroke-width="1.9"/>
<circle cx="613.7" cy="89.5" r="1.55" fill="#000"/>
<circle cx="613.7" cy="65.9" r="1.6" fill="#F03030" fill-opacity="0.24" stroke="#E03030" stroke-opacity="0.32" stroke-width="0.5"/>
<circle cx="613.7" cy="68" r="1.6" fill="#F03030" fill-opacity="0.24" stroke="#E03030" stroke-opacity="0.32" stroke-width="0.5"/>
<circle cx="613.7" cy="72.4" r="1.6" fill="#F03030" fill-opacity="0.24" stroke="#E03030" stroke-opacity="0.32" stroke-width="0.5"/>
<circle cx="613.7" cy="73.55" r="1.6" fill="#F03030" fill-opacity="0.24" stroke="#E03030" stroke-opacity="0.32" stroke-width="0.5"/>
<circle cx="613.7" cy="74.7" r="1.6" fill="#F03030" fill-opacity="0.24" stroke="#E03030" stroke-opacity="0.32" stroke-width="0.5"/>
<circle cx="613.7" cy="75.85" r="1.6" fill="#F03030" fill-opacity="0.24" stroke="#E03030" stroke-opacity="0.32" stroke-width="0.5"/>
<circle cx="613.7" cy="77" r="1.6" fill="#F03030" fill-opacity="0.24" stroke="#E03030" stroke-opacity="0.32" stroke-width="0.5"/>
<circle cx="613.7" cy="78.15" r="1.6" fill="#F03030" fill-opacity="0.24" stroke="#E03030" stroke-opacity="0.32" stroke-width="0.5"/>
<circle cx="613.7" cy="79.3" r="1.6" fill="#F03030" fill-opacity="0.24" stroke="#E03030" stroke-opacity="0.32" stroke-width="0.5"/>
<circle cx="613.7" cy="80.45" r="1.6" fill="#F03030" fill-opacity="0.24" stroke="#E03030" stroke-opacity="0.32" stroke-width="0.5"/>
<circle cx="613.7" cy="81.6" r="1.6" fill="#F03030" fill-opacity="0.24" stroke="#E03030" stroke-opacity="0.32" stroke-width="0.5"/>
<circle cx="613.7" cy="82.75" r="1.6" fill="#F03030" fill-opacity="0.24" stroke="#E03030" stroke-opacity="0.32" stroke-width="0.5"/>
<line x1="633.05" y1="73.8" x2="633.05" y2="93.5" stroke="#1a1a1a" stroke-width="1.1"/>
<line x1="630.15" y1="73.8" x2="635.95" y2="73.8" stroke="#1a1a1a" stroke-width="1.1"/>
<line x1="630.15" y1="93.5" x2="635.95" y2="93.5" stroke="#1a1a1a" stroke-width="1.1"/>
<rect x="625.85" y="83.7" width="14.4" height="6.6" rx="0.8" fill="#fff" fill-opacity="0.2" stroke="#000" stroke-width="1.2"/>
<line x1="625.85" y1="87.5" x2="640.25" y2="87.5" stroke="#000" stroke-width="1.9"/>
<circle cx="633.05" cy="86.5" r="1.55" fill="#000"/>
<circle cx="633.05" cy="67" r="1.6" fill="#F03030" fill-opacity="0.24" stroke="#E03030" stroke-opacity="0.32" stroke-width="0.5"/>
<circle cx="633.05" cy="65.6" r="1.6" fill="#F03030" fill-opacity="0.24" stroke="#E03030" stroke-opacity="0.32" stroke-width="0.5"/>
<circle cx="633.05" cy="66.75" r="1.6" fill="#F03030" fill-opacity="0.24" stroke="#E03030" stroke-opacity="0.32" stroke-width="0.5"/>
<circle cx="633.05" cy="67.9" r="1.6" fill="#F03030" fill-opacity="0.24" stroke="#E03030" stroke-opacity="0.32" stroke-width="0.5"/>
<circle cx="633.05" cy="69.05" r="1.6" fill="#F03030" fill-opacity="0.24" stroke="#E03030" stroke-opacity="0.32" stroke-width="0.5"/>
<circle cx="633.05" cy="70.2" r="1.6" fill="#F03030" fill-opacity="0.24" stroke="#E03030" stroke-opacity="0.32" stroke-width="0.5"/>
<circle cx="633.05" cy="71.35" r="1.6" fill="#F03030" fill-opacity="0.24" stroke="#E03030" stroke-opacity="0.32" stroke-width="0.5"/>
<line x1="652.4" y1="74.7" x2="652.4" y2="93.4" stroke="#1a1a1a" stroke-width="1.1"/>
<line x1="649.5" y1="74.7" x2="655.3" y2="74.7" stroke="#1a1a1a" stroke-width="1.1"/>
<line x1="649.5" y1="93.4" x2="655.3" y2="93.4" stroke="#1a1a1a" stroke-width="1.1"/>
<rect x="645.2" y="84.2" width="14.4" height="6.1" rx="0.8" fill="#fff" fill-opacity="0.2" stroke="#000" stroke-width="1.2"/>
<line x1="645.2" y1="88.7" x2="659.6" y2="88.7" stroke="#000" stroke-width="1.9"/>
<circle cx="652.4" cy="87.5" r="1.55" fill="#000"/>
<circle cx="652.4" cy="66.4" r="1.6" fill="#F03030" fill-opacity="0.24" stroke="#E03030" stroke-opacity="0.32" stroke-width="0.5"/>
<circle cx="652.4" cy="73" r="1.6" fill="#F03030" fill-opacity="0.24" stroke="#E03030" stroke-opacity="0.32" stroke-width="0.5"/>
<circle cx="652.4" cy="74.15" r="1.6" fill="#F03030" fill-opacity="0.24" stroke="#E03030" stroke-opacity="0.32" stroke-width="0.5"/>
<circle cx="652.4" cy="75.3" r="1.6" fill="#F03030" fill-opacity="0.24" stroke="#E03030" stroke-opacity="0.32" stroke-width="0.5"/>
<line x1="671.75" y1="73" x2="671.75" y2="93.4" stroke="#1a1a1a" stroke-width="1.1"/>
<line x1="668.85" y1="73" x2="674.65" y2="73" stroke="#1a1a1a" stroke-width="1.1"/>
<line x1="668.85" y1="93.4" x2="674.65" y2="93.4" stroke="#1a1a1a" stroke-width="1.1"/>
<rect x="664.55" y="82.6" width="14.4" height="7.2" rx="0.8" fill="#fff" fill-opacity="0.2" stroke="#000" stroke-width="1.2"/>
<line x1="664.55" y1="86.5" x2="678.95" y2="86.5" stroke="#000" stroke-width="1.9"/>
<circle cx="671.75" cy="85.5" r="1.55" fill="#000"/>
<circle cx="671.75" cy="64.5" r="1.6" fill="#F03030" fill-opacity="0.24" stroke="#E03030" stroke-opacity="0.32" stroke-width="0.5"/>
<circle cx="671.75" cy="65.65" r="1.6" fill="#F03030" fill-opacity="0.24" stroke="#E03030" stroke-opacity="0.32" stroke-width="0.5"/>
<circle cx="671.75" cy="66.8" r="1.6" fill="#F03030" fill-opacity="0.24" stroke="#E03030" stroke-opacity="0.32" stroke-width="0.5"/>
<circle cx="671.75" cy="67.95" r="1.6" fill="#F03030" fill-opacity="0.24" stroke="#E03030" stroke-opacity="0.32" stroke-width="0.5"/>
<circle cx="671.75" cy="69.1" r="1.6" fill="#F03030" fill-opacity="0.24" stroke="#E03030" stroke-opacity="0.32" stroke-width="0.5"/>
<circle cx="671.75" cy="70.25" r="1.6" fill="#F03030" fill-opacity="0.24" stroke="#E03030" stroke-opacity="0.32" stroke-width="0.5"/>
<circle cx="671.75" cy="71.4" r="1.6" fill="#F03030" fill-opacity="0.24" stroke="#E03030" stroke-opacity="0.32" stroke-width="0.5"/>
<line x1="563.4" y1="2.6" x2="683.4" y2="2.6" stroke="#9a9a9a" stroke-width="1.5"/>
<line x1="683.4" y1="2.6" x2="683.4" y2="97.9" stroke="#555" stroke-width="1.1"/>
<line x1="563.4" y1="97.9" x2="683.9" y2="97.9" stroke="#555" stroke-width="1.1"/>
<line x1="563.4" y1="2.1" x2="563.4" y2="98.4" stroke="#555" stroke-width="1.1"/>
<line x1="560.4" y1="93.6" x2="563.4" y2="93.6" stroke="#333" stroke-width="1.1"/>
<text x="557.5" y="97.26" font-size="9.6" fill="#4d4d4d" text-anchor="end">0.00</text>
<line x1="560.4" y1="68.45" x2="563.4" y2="68.45" stroke="#333" stroke-width="1.1"/>
<text x="557.5" y="72.11" font-size="9.6" fill="#4d4d4d" text-anchor="end">0.25</text>
<line x1="560.4" y1="43.3" x2="563.4" y2="43.3" stroke="#333" stroke-width="1.1"/>
<text x="557.5" y="46.96" font-size="9.6" fill="#4d4d4d" text-anchor="end">0.50</text>
<line x1="560.4" y1="18.15" x2="563.4" y2="18.15" stroke="#333" stroke-width="1.1"/>
<text x="557.5" y="21.81" font-size="9.6" fill="#4d4d4d" text-anchor="end">0.75</text>
<line x1="575" y1="97.9" x2="575" y2="100.9" stroke="#333" stroke-width="1.1"/>
<text x="575" y="111.4" font-size="10.5" fill="#4d4d4d" text-anchor="middle">HW</text>
<line x1="594.35" y1="97.9" x2="594.35" y2="100.9" stroke="#333" stroke-width="1.1"/>
<text x="594.35" y="111.4" font-size="10.5" fill="#4d4d4d" text-anchor="middle">NB</text>
<line x1="613.7" y1="97.9" x2="613.7" y2="100.9" stroke="#333" stroke-width="1.1"/>
<text x="613.7" y="111.4" font-size="10.5" fill="#4d4d4d" text-anchor="middle">SF</text>
<line x1="633.05" y1="97.9" x2="633.05" y2="100.9" stroke="#333" stroke-width="1.1"/>
<text x="633.05" y="111.4" font-size="10.5" fill="#4d4d4d" text-anchor="middle">WF</text>
<line x1="652.4" y1="97.9" x2="652.4" y2="100.9" stroke="#333" stroke-width="1.1"/>
<text x="652.4" y="111.4" font-size="10.5" fill="#4d4d4d" text-anchor="middle">SN</text>
<line x1="671.75" y1="97.9" x2="671.75" y2="100.9" stroke="#333" stroke-width="1.1"/>
<text x="671.75" y="111.4" font-size="10.5" fill="#4d4d4d" text-anchor="middle">RM</text>
<text x="623.4" y="125.8" font-size="12.7" font-weight="normal" fill="#000" text-anchor="middle" textLength="35.9" lengthAdjust="spacingAndGlyphs">Station</text>
<text transform="translate(535.6 50.7) rotate(-90)" font-size="12.7" font-weight="normal" fill="#000" text-anchor="middle" textLength="96.2" lengthAdjust="spacingAndGlyphs">Ammonium (mg/l)</text>
<path d="M396.2 199.1h0M408.9 224.3h0M405.7 222.4h0M398.9 182.2h0M397.1 214.5h0M407.6 216.5h0M401.6 216.4h0M406 202h0M403.6 218.4h0M396.3 217.9h0M396.4 214.4h0M401.9 200.1h0M397.8 181h0M394.9 206h0M393.8 225.5h0M403.4 203h0M401.5 222.7h0M393.8 197.8h0M406 212.5h0M406.8 190.5h0M397.9 189h0M403.4 188.4h0M405.2 211.8h0M406.8 225.4h0M394.6 169h0M401.1 213.3h0M402.8 192.5h0M401.3 217.9h0M398.7 222.5h0M392.9 212.8h0M398.3 169.7h0M402.4 225.4h0M398.1 205h0M394.9 197h0M406.1 214.5h0M399.7 223.8h0M399.6 221.3h0M396.3 211.7h0M400 219.7h0M403.5 205h0M402.1 224.7h0M401 229.6h0M403.6 209.2h0M398 221.7h0M403.1 186.6h0M398.8 190.4h0M408.3 157.1h0M394.1 199.6h0M399.5 207.8h0M394 214.8h0M408.9 197.9h0M404 187.2h0M396.6 198.3h0M401.9 217h0M407.6 222.6h0M395.5 222.1h0M406.1 155.7h0M397.8 230.7h0M397.1 223.1h0M396.2 193.2h0M400.8 219.2h0M392.9 192.5h0M405.9 218.2h0M408.4 217.4h0M404.2 201.5h0M395.3 195.6h0M398.7 216.6h0M396.8 213.9h0M393.2 221.2h0M406.8 187.6h0M401.6 193.5h0M394.7 176.1h0M405.5 180.2h0M393.9 218.4h0M406.7 174.6h0M401.9 199.9h0M398.9 190.2h0M400.7 220h0M401.5 200.7h0M401.9 225.4h0M408.3 189.9h0M400.5 199.3h0M404.8 224.4h0M402.1 192.8h0M401.6 187.1h0M407.6 222.1h0M402 190.6h0M407 193.3h0M402.4 218.1h0M408.2 197.7h0M408.8 190.1h0M402 182.3h0M407.8 193.4h0M408.5 194.9h0M407.9 190.6h0M394.2 214.2h0M396.1 216.9h0M402.7 203.3h0M403.3 221.8h0M393 167.2h0M408.7 205.4h0M402.9 225.3h0M399.5 225.5h0M403.4 180.2h0M408.3 190h0M397.5 183h0M404.7 182.5h0M405.6 217h0M394.6 223h0M394.7 222.6h0M397.3 185.3h0M399 216.4h0M396 190.7h0M406.6 221.7h0M395.3 209.7h0M403.8 189.7h0M394.6 206.5h0M401.1 209.3h0M402.4 219.9h0M405 199.7h0M400.8 195.1h0M408.2 216h0M407.5 219.9h0M397.6 222.7h0M402.5 226.3h0M406.4 211.4h0M400.8 220.2h0M402.6 159.9h0M396.7 221.5h0M398 193h0M401 210.8h0M406.1 198.9h0M401 214.4h0M398.2 224.8h0M393.9 215.4h0M399.3 226.8h0M406 182.1h0M405.7 222.4h0M406.5 191.9h0M394.3 212.8h0M402.7 186.5h0M401.8 212.6h0M394.7 212.4h0M393 206.6h0M397.3 191.9h0M407.9 215.8h0M396.7 189.8h0M407.3 184.8h0M398.5 223.1h0M403.5 207.5h0M406.6 215.6h0M397.5 224.8h0M404 176.4h0M401.3 211.8h0M394.2 190.3h0M408.8 212.9h0M394.2 225.6h0M404.6 220h0M404 220.3h0M405.7 215.5h0M407.2 189.4h0M396.5 221.9h0M405.8 207.6h0M407.6 211.7h0M392.9 180.8h0M406.4 185.5h0M394.9 226h0M393 189.3h0M403.3 229.4h0M397.3 216.7h0M408.7 210h0M403.1 188.3h0M406.9 202.5h0M404.8 214.2h0M400.6 221.8h0M401.2 210.7h0M402.2 196.9h0M401.5 221.3h0M396.5 205.3h0M394.4 226.5h0M403.7 179.3h0M398 224.5h0M404.8 225h0M408.4 221.6h0M406.1 214.4h0M408.5 216.9h0M408.6 220.5h0M397.8 164h0M396.9 222.1h0M406.4 217.6h0M395.5 227.9h0M403.2 221.1h0M406.6 219.8h0M399.4 188.3h0M400.5 227.1h0M400.1 221.9h0M393.2 221.4h0M398.9 222.2h0M398.1 221.6h0M400.2 224.3h0M396.6 221.5h0M394.6 182.3h0M402.8 191.2h0M398.2 218.8h0M397.1 190h0M393.4 222.3h0M397.5 192h0M394.6 203.8h0M392.9 201.7h0M405.6 223.1h0M393.2 144h0" stroke="#F8766D" stroke-width="2.0" stroke-linecap="round" opacity="0.88"/>
<path d="M420.1 193.3h0M428.6 210.8h0M419.2 198.9h0M422.7 215.1h0M413.4 199.2h0M416.7 195.1h0M419.2 200.9h0M417 220.1h0M422.6 225.4h0M425.3 211.5h0M418.6 201.4h0M426.1 223.7h0M416 218.1h0M416.8 221.2h0M425 203.8h0M428.3 205.4h0M420.6 224.3h0M426.8 219.4h0M420.6 196.4h0M415.4 222h0M424.2 213.5h0M426.5 196.4h0M424.3 214.5h0M414.7 231.2h0M416.6 222.2h0M422.8 204.6h0M420.4 216.5h0M425 198.7h0M422.5 214.7h0M423.7 213.7h0M416.7 207.2h0M423.3 195.5h0M417.8 210.6h0M415.1 208.3h0M418.7 207.7h0M427.2 208.7h0M421.8 223.2h0M414.3 223.6h0M420.2 214h0M428 204.9h0M425.9 214.1h0M417.1 209.3h0M415 206.6h0M422.2 209.7h0M428.1 196h0M424.6 222.4h0M419.1 214.4h0M416.3 215.7h0M428.7 210.2h0M414.6 192.5h0M427.7 208.8h0M418.7 204.1h0M417.3 209.8h0M427 227.1h0M420.3 218.8h0M416.8 211h0M428.5 211.1h0M414.9 209.3h0M428.9 213.1h0M420.6 205.9h0M428.3 222h0M426.8 215.6h0M426.3 220.9h0M427.6 206.5h0M425.9 212.6h0M416.8 214.1h0M428.4 216.8h0M415.9 209h0M419.9 216.7h0M424.1 220.3h0M418.1 217.5h0M418.6 212.1h0M425.5 219.8h0M424.3 207h0M421.3 201.6h0M414.7 193.9h0M427.3 215.9h0M428.1 206.9h0M418.4 211.3h0M421.3 198.8h0M421.1 223.3h0M425.4 201.3h0M426.1 217.1h0M415.5 214h0M416.4 205.2h0M415.7 222.6h0M420.1 195.5h0M418.4 200.5h0M421.1 194.8h0M418.8 210.2h0M414 206.8h0M415.5 222h0M420.6 215.5h0M426.6 205.3h0M424.3 191.1h0M413.3 210.9h0M423.5 216.5h0M417.3 210.3h0M420.6 221.5h0M414 226.6h0M415.2 224.1h0M427.7 208.9h0M428.1 225.2h0M425.5 196.2h0M414.8 217.4h0M424.9 225h0M424 199.8h0M418.9 194.8h0M423.7 213.9h0M420.6 210.2h0M422.4 202.2h0M423.5 203.7h0M421.8 209.6h0M426 205.2h0M425.3 224.8h0M418.5 206.1h0M414.6 210.9h0M420.2 227h0M422.7 200.7h0M423.5 207.1h0M415.7 214.7h0M422.2 214.7h0M419.6 215h0M418.9 213.7h0M421.7 206.7h0M416.3 199.3h0M414.5 215.2h0M422.7 211.4h0M427.6 218.5h0M415.1 227.1h0M418.6 222.1h0M423 222.9h0M413.5 186.1h0M422.2 215.3h0M427.8 201.6h0M418.2 189.5h0M424.6 208.1h0M419.5 224.8h0M424.5 209.9h0M425.2 207.2h0M427 205.4h0M428 219.4h0M418.9 210.3h0M427.4 201h0M428.2 224.6h0M423.3 202.7h0M420.6 198.7h0M417.7 221.8h0M420.1 221.6h0M420.7 229.8h0M415.5 208.3h0M414.8 224.5h0M427.7 189.8h0M425.2 207.1h0M416.1 209.2h0M419.1 203.9h0M414.4 205.8h0M420.1 213.1h0M418.7 216.3h0M421.9 223.5h0M420.4 226.2h0M427.2 225.3h0M420 225.7h0M425.5 214.7h0M427.2 199h0M428.2 221.9h0M420.8 204.1h0M422.7 207.2h0M420.5 221.6h0M420.4 221.9h0M422 195.4h0M422.8 203h0M413.7 224.2h0M423.2 221.8h0M428.1 228.8h0M417.5 216.4h0M420.5 223.1h0M423.4 202.7h0M413.7 229.3h0M414.9 215.6h0M425.8 220.4h0M425.4 202.2h0M413.2 194.7h0M419.8 196.8h0M420 224.1h0M419.7 230.6h0M425.3 212h0M422.3 207.8h0M422.4 212.4h0M417.9 221.6h0M417 221.7h0M418.6 225.9h0M422.5 201.1h0M428.4 221.7h0M425.8 211.1h0M413.4 205.4h0M426.4 195.5h0M419.4 222.7h0M413.1 215.5h0M418.8 213h0M424.2 209.6h0M427 192h0M417.3 205.3h0M421.4 222.5h0M427.7 206.9h0M417 221.2h0M425.8 227.1h0M417 208h0M414.8 217.6h0M424.4 220.2h0" stroke="#B79F00" stroke-width="2.0" stroke-linecap="round" opacity="0.88"/>
<path d="M435.8 227.3h0M437.2 217.5h0M439.2 210.5h0M448.4 219.5h0M446.5 214.9h0M439.5 218.5h0M446.5 221.1h0M443.6 225.3h0M436.8 206.4h0M441.8 208.1h0M446.8 216.2h0M435.8 215.9h0M442.1 225.6h0M433.6 215.8h0M433.9 209.4h0M440.6 227.7h0M437.2 220.6h0M440 220h0M437.9 230.4h0M435.6 217.5h0M441.3 212.9h0M449.1 220.2h0M433.7 205.6h0M435.7 207.5h0M435.2 211.2h0M441 217.6h0M439.9 212.5h0M443.4 210.3h0M442.3 221.9h0M443 208.7h0M444 227.2h0M439.2 209.5h0M440.2 209.3h0M440.9 220.8h0M441.4 209.6h0M433.6 224h0M444.7 215.3h0M437.4 224.9h0M436.1 207.3h0M438.3 222.8h0M443.2 226.2h0M433.6 215.3h0M441.5 221.4h0M442.6 217.6h0M443.4 204.1h0M443.3 225h0M437.4 221.3h0M435.1 218.9h0M435 220h0M448.8 200.9h0M437.9 211.7h0M436.3 210.6h0M441.9 216.8h0M448.2 223.4h0M445.9 215.6h0M444.1 227.5h0M447.9 228h0M444.6 197.3h0M442.2 224.6h0M444.8 227.1h0M447.1 213.3h0M439 214.4h0M438.3 223.8h0M435.5 223.3h0M449.1 214.4h0M433.9 208.6h0M436.8 217.9h0M444.3 217.5h0M442.4 220.1h0M439.3 220.7h0M441 219.2h0M444.6 222.8h0M438.6 216.1h0M433.8 210.3h0M433.7 218.4h0M433.6 219.9h0M447.6 216.5h0M443 219.6h0M445.3 214.6h0M443.4 223.1h0M434.6 212.1h0M447.2 213h0M433.5 223h0M434.9 221.6h0M448.2 197.7h0M439.3 212.5h0M435 214.4h0M438.1 224.3h0M438.9 220.3h0M437.5 228.7h0M446.6 225.8h0M434.1 216.7h0M445.6 210h0M433.2 214.8h0M447.6 217.8h0M434 211.9h0M441.5 223.7h0M445.5 218.9h0M437.8 206.6h0M434 208.5h0M435.6 224.1h0M443.7 221.9h0M438.9 211.7h0M437.2 213.8h0M435.4 216.8h0M448 223.9h0M439.8 207.8h0M441.7 209.9h0M436 221.8h0M434.4 224.5h0M433.6 223.7h0M441.3 206.1h0M444.7 223.5h0M446.9 215.4h0M433.9 224.6h0M436 204.7h0M445.6 214.6h0M437.6 213.1h0M438.4 224.4h0M446.2 223.9h0M436.5 218.5h0M438.5 224.2h0M436.3 216.2h0M447.8 208.1h0M446.6 216.3h0M441.8 226.2h0M437.4 217.2h0M438.2 213.2h0M439.4 215.5h0M446.8 216.9h0M439.3 224.2h0M433.3 224.5h0M434.2 219h0M438.2 210.8h0M441 217h0M448.6 225.7h0M440.8 217.1h0M446 208.6h0M437.7 218.4h0M449 217.2h0M445.8 221.3h0M440.4 210.6h0M435.2 212.4h0M442.2 223.4h0M447.6 215h0M447.4 211.1h0M436.9 215.7h0M447.6 213.9h0M434.1 218h0M434.4 210.6h0M434.6 213.1h0M438.7 211.2h0M440.7 220.2h0M441.3 212.7h0M446.5 214.9h0M440.2 208.3h0M448.2 225.3h0M434.7 217.6h0M435.3 211.1h0M439.2 221.1h0M448.4 226h0M439.1 219h0M445.5 223.5h0M437.5 212.5h0M440.2 218.4h0M442 210.5h0M447.7 224.7h0M438.4 217.7h0M443.5 224h0M442.6 214h0M434.5 211.4h0M443.7 206.7h0M433.3 216h0M443.8 218.3h0M438.9 220.7h0M434.1 221.6h0M437.1 220.4h0M433.2 214.2h0M436.9 215.4h0M433.7 215.5h0M440.1 224.4h0M444.4 213.3h0M443.7 224.4h0M441.4 217h0M443.8 223.5h0M434.1 213.9h0M439.7 224.5h0M449.1 205.2h0M444.5 224.7h0M436.4 224.2h0M440 220.2h0M437.2 220.6h0M433.9 219.5h0M442.4 213.3h0M436.4 228.4h0M441.6 212.6h0M445.8 202.8h0M441.8 229.4h0M433.8 218.5h0M445.8 206.5h0M437.4 217.8h0M437.7 225.7h0M443.9 216.5h0M442.3 206.9h0M448.7 213.8h0M447.8 225.5h0M442.2 217.3h0M439.6 203.5h0M441.7 228.4h0M445.2 228.7h0M433.9 186.7h0" stroke="#00BA38" stroke-width="2.0" stroke-linecap="round" opacity="0.88"/>
<path d="M462.1 206.4h0M465 210.2h0M462 202.2h0M466.1 201.1h0M459.9 215.8h0M455.1 198.4h0M458 184h0M453.5 197.7h0M466.2 175.6h0M465.9 205.8h0M466.8 202.5h0M463.9 190.6h0M455 185.2h0M453.7 215.2h0M459.2 216.4h0M466.9 176.6h0M461.2 193.8h0M463.1 205.6h0M468.6 187.7h0M456.2 224.8h0M469 216.3h0M465.3 215.3h0M465.3 196.4h0M468.4 203.8h0M461 204.3h0M463.1 169.8h0M462.5 224.8h0M455.9 193.4h0M462.4 187.8h0M461.8 197.9h0M468.4 211.4h0M468.5 189h0M468.4 213.4h0M456.7 204.2h0M459 200.6h0M455.9 194.5h0M456.8 187h0M463.4 191.2h0M466.6 210.3h0M453.9 207.9h0M468.2 211.8h0M462.4 192.1h0M455.4 221.7h0M462.7 197.8h0M465.8 206.9h0M464.7 193.1h0M464.2 198.8h0M459.3 198.3h0M464.4 207.6h0M462 191.2h0M460.4 190.4h0M458.2 193.9h0M468.1 195.7h0M468.9 212.9h0M465.1 207.1h0M454.8 205.2h0M456.9 216.9h0M460 194h0M461.6 215.1h0M467.8 207.3h0M464.8 204.4h0M469.4 198.1h0M468.7 196.3h0M454.2 199.3h0M468 196.3h0M466.2 190.3h0M453.6 209.1h0M455.9 200.7h0M468.1 172.4h0M469.1 213.4h0M462.7 207.5h0M459.6 209.9h0M462.8 186.3h0M456.4 206.2h0M455.3 198.9h0M459.2 202.6h0M456.7 196.9h0M454.2 203.8h0M457.1 217.9h0M457.6 199.3h0M453.5 193.5h0M455 214.5h0M454.9 191.9h0M461.3 213.7h0M464.3 206.9h0M454.8 213.4h0M458 176.9h0M461.9 209.6h0M460.6 196.8h0M454.8 188.2h0M456.7 191.4h0M463.3 207.6h0M466.3 209.5h0M456.2 205.9h0M462.8 212.6h0M462.5 194h0M459.9 196.2h0M460.7 217.5h0M454.2 192.4h0M458.5 190.7h0M466.5 208.8h0M461.5 212.9h0M469.1 181.4h0M456.2 220.8h0M461.9 201.6h0M464.5 215.5h0M461.4 182.4h0M463.6 184.4h0M464.2 206.3h0M460.4 215.8h0M453.4 186.9h0M453.9 194.8h0M462.4 183.7h0M456.1 176.2h0M466.7 198.6h0M466.5 208.4h0M458.6 201h0M464.9 224.1h0M455 213.2h0M461.8 199.1h0M461.2 205.4h0M453.6 202.7h0M464.8 190.7h0M468.4 210.3h0M463.7 198h0M455.6 191.1h0M468.7 196.5h0M465 217.8h0M461.1 197.5h0M463 206.8h0M459.8 216.5h0M457.8 173.2h0M461.2 175.6h0M457.2 187.6h0M454.1 211.8h0M458.8 165.4h0M464.1 212.8h0M467.6 213.9h0M458.7 203.5h0M455.9 201.5h0M464.9 216.3h0M466.1 200.9h0M465.2 207.8h0M463.9 216.5h0M464.7 220.1h0M465.4 209.4h0M455 212.7h0M457.3 191.8h0M469.3 205.4h0M464.1 194.9h0M463.8 210h0M457.5 214.6h0M455.9 197.5h0M468.7 189h0M456.6 202.3h0M468.3 201.4h0M462 200.9h0M461.8 194.6h0M463.6 217.6h0M465.5 198.5h0M465.6 201.7h0M466.4 197.3h0M469.2 189.9h0M463 181.7h0M460.3 203.2h0M464.6 209.9h0M456.4 199.2h0M461.3 198.8h0M463.8 214.7h0M462.9 209.1h0M458.2 205.4h0M461.2 180.9h0M468.6 181.9h0M463.2 201.4h0M460 195.6h0M466.3 206.3h0M457.1 199.7h0M461.3 190h0M468.5 214.7h0M460.9 206.1h0M467.4 188.5h0M453.9 210.5h0M460.6 187.4h0M465.7 178.1h0M467.8 214.4h0M466.8 214.8h0M463.2 218.1h0M456.8 220.3h0M463.3 208.9h0M458.6 198.8h0M468.3 197.4h0M457.8 196.9h0M465.9 200.9h0M455.7 202.2h0M454.6 219h0M460.5 207.9h0M456.4 213.8h0M458.1 193.6h0M468.9 201.1h0M461.4 209h0M465.8 213.3h0M461.3 219.3h0M461.5 178.7h0M462.4 212.9h0M463.8 184.6h0M465.8 198.7h0M453.7 213.9h0M462.6 214.4h0M467.6 186.2h0M463.2 198.8h0M454.4 152.8h0" stroke="#12BFA6" stroke-width="2.0" stroke-linecap="round" opacity="0.88"/>
<path d="M488.6 222.1h0M480.5 224.8h0M480.9 215.1h0M473.9 215.5h0M480.9 209.3h0M482.1 188.3h0M480.7 202.8h0M475.8 213.3h0M483.1 219.7h0M474 203.1h0M479.1 212.2h0M487.5 218.7h0M477.8 201.8h0M483.6 206h0M482.4 204.9h0M480.8 211.5h0M488.8 218.8h0M476.3 203.3h0M481.3 214.3h0M487.5 213.6h0M480.9 211.2h0M485.7 221.4h0M481.8 211.7h0M484.8 219h0M485.5 190.1h0M481.1 212.9h0M474.7 203.4h0M476.5 205.9h0M478.8 207.2h0M487 205.8h0M482.2 216.6h0M475.7 205.3h0M474 225.3h0M488.4 223.2h0M479 212.8h0M474.3 224h0M480.7 198.8h0M480.3 205.3h0M485.3 219.6h0M485.6 209.4h0M475.2 203.5h0M479.4 208.4h0M475 214.7h0M489.3 211h0M476.1 215.7h0M486.2 212.6h0M481.7 201.5h0M489.3 209.6h0M489.2 211.4h0M480.8 224.7h0M482.4 217.5h0M486.6 208.7h0M483.4 218.4h0M481.7 218.8h0M485 202.3h0M480.9 188.1h0M478 210.2h0M475.4 210h0M483.1 202.7h0M474.7 208.6h0M477.8 198.1h0M480.2 212.8h0M475.5 217.3h0M481.5 213.4h0M478.3 209.3h0M478.5 210.9h0M480.7 209.9h0M488.9 219.2h0M476.5 204.5h0M481.2 206.5h0M479.3 214.8h0M476.1 201.9h0M477.1 207.5h0M484.3 222.3h0M475.8 198.5h0M478.2 209h0M481.9 210.4h0M482.5 216.3h0M475.6 208.3h0M484.6 203.8h0M485.7 221.8h0M486.7 210.7h0M488.3 210.3h0M481.1 214.5h0M484.7 210.8h0M483.6 207h0M475.8 213.5h0M484.6 204.9h0M489.3 200.9h0M474 200.3h0M474.1 208.6h0M488.9 211.5h0M476.1 223.8h0M483.4 221.9h0M478.1 193.4h0M484.8 219h0M478.7 217.2h0M474.4 212.8h0M476.3 204.8h0M479.7 212.8h0M489.5 227.8h0M481.3 207.8h0M474 202.2h0M486.2 205.4h0M475.8 207.2h0M482.4 212.9h0M482.1 222.2h0M481.2 208.8h0M479.3 218.1h0M475.7 219.8h0M488 204.6h0M474.5 213.2h0M488.9 207.4h0M487.2 215h0M487.3 208.5h0M485.9 208h0M477.5 203.9h0M483.8 205.9h0M485.4 222.1h0M481.3 199.5h0M487.7 210.8h0M488.7 218.7h0M483.3 194.6h0M487.6 210.4h0M480.1 204.7h0M484.8 221.5h0M478.8 210.5h0M477.4 214.1h0M476 213.5h0M474.1 200.4h0M480.4 211.3h0M478.5 211.6h0M483.6 206.7h0M476.5 193h0M488.4 220.2h0M477.3 200h0M489.4 221.7h0M484.1 202.6h0M484.4 203.8h0M486.3 208.8h0M475.8 217.9h0M475.2 202.9h0M485.8 208.3h0M477.8 217.3h0M474.2 210.5h0M488.4 205.1h0M474.1 210.1h0M486.3 216h0M477.5 204.6h0M482.1 214.9h0M483.6 195.9h0M473.9 205.8h0M487.4 192.8h0M479.7 215.4h0M479.3 198.8h0M489.5 198.6h0M482.4 215.6h0M474.6 203.1h0M485.3 211.3h0M484.7 213.4h0M480.8 212.6h0M483.2 190.7h0M474.8 206.7h0M485.7 222.4h0M485.5 220.4h0M485.3 207.8h0M480.2 195.8h0M478.4 193.7h0M477.5 210.1h0M486 207h0M482.8 210.7h0M480.1 211.3h0M484.1 218.1h0M487.3 201.3h0M489 214.4h0M488.9 217.6h0M483.9 212.1h0M482 216.6h0M487.4 199.6h0M483.5 207.5h0M487.1 207.9h0M487.9 220.2h0M476.3 216.7h0M478 213.7h0M489 219.6h0M474.8 209.4h0M482.9 221.4h0M475.6 214.1h0M484.2 208.3h0M477.3 199h0M481.1 206.5h0M478 216h0M484.7 215.2h0M473.5 226.4h0M487.2 217.4h0M486.2 207.8h0M486.1 205.9h0M487.1 207.4h0M487.4 214.4h0M481.3 218h0M487.3 218.5h0M474.7 202.2h0M475.4 217.3h0M477.9 188.1h0M476.2 206.7h0M475.8 212.3h0M478.1 211.4h0M483.3 224.8h0M475.8 224h0M480.4 214.1h0M481.2 163.2h0" stroke="#619CFF" stroke-width="2.0" stroke-linecap="round" opacity="0.88"/>
<path d="M503.9 205.3h0M508.5 216.6h0M495.4 215.7h0M504.9 218.2h0M495.2 206.7h0M499.4 196.8h0M503.6 218.8h0M498.9 206.7h0M504.5 220.4h0M506.1 209.7h0M499.6 217.7h0M500 204.2h0M503 215h0M505.3 206.7h0M507.4 216.3h0M500 203.8h0M503.9 203.7h0M502.1 213.5h0M501.9 214.9h0M499.3 219.1h0M507.3 207.4h0M500.2 203.8h0M495.9 219.4h0M500.8 210.5h0M507.8 214.7h0M506.8 207.5h0M504.9 213.5h0M495.4 206.1h0M499.1 200.3h0M500.9 199.7h0M504.1 218.5h0M498.4 203.9h0M501.9 217.3h0M495.4 219.2h0M504.2 203h0M498.5 208.8h0M495.3 200.3h0M500.7 213.4h0M498.7 202.2h0M497.6 217.5h0M494.8 209.9h0M494.2 214.7h0M506.5 205.7h0M503.8 202h0M499.9 206.6h0M504.1 210.3h0M499.9 201.3h0M497.8 207.1h0M496.4 209.4h0M502 209.9h0M508.1 206.7h0M493.8 203.1h0M508.7 202.7h0M503.5 204.2h0M499.9 210h0M500.1 206.1h0M509.3 220h0M502.4 205.6h0M501.2 217.1h0M494.2 207.9h0M496.1 206.2h0M496.9 210.1h0M501.2 216.3h0M493.6 217.6h0M505.2 205.1h0M506.4 206.7h0M499.7 200.2h0M504.9 216.4h0M501 202.7h0M508.1 211.2h0M501.7 219.2h0M504.5 214.7h0M506.2 211.5h0M502 211.4h0M494.4 214.2h0M499.4 202.6h0M502.6 219.3h0M504.8 212.2h0M496.3 213.7h0M501.9 221.2h0M504.2 213.3h0M508.9 204.6h0M495.1 218.2h0M504.2 213.5h0M504.9 219h0M499.1 209h0M501.4 218.4h0M504.5 210h0M507 217.2h0M495.4 217.7h0M500.6 213h0M508.4 216.9h0M494.9 196.3h0M501.2 218.9h0M505.1 202h0M494.3 202.9h0M507.5 210.1h0M499.8 209.8h0M497.5 200.1h0M507.1 215.2h0M500.1 209.8h0M505.4 201.4h0M500 199.7h0M504.1 207h0M501 218.1h0M495.4 221h0M498.8 216.7h0M505.4 213.8h0M508.2 202.7h0M505 203.6h0M500.9 219h0M500.6 216.5h0M495.4 196.5h0M493.8 220.4h0M507.2 216.9h0M507 204.9h0M494.8 217.5h0M506.9 208.4h0M498.7 210.8h0M506.8 206.1h0M496.1 205.3h0M509.7 220h0M499 200.1h0M498.4 201h0M505.1 207.2h0M505.3 211.7h0M505.2 203.3h0M501.4 212.7h0M509.6 210.3h0M494.6 213.3h0M502.2 204.3h0M501.2 216.9h0M495.6 211.2h0M502.4 207.9h0M500.9 203.5h0M508.6 214.2h0M496.6 217.9h0M502.5 198.9h0M501.7 213.2h0M497 214.4h0M504.6 221.1h0M501.2 209.3h0M508.5 218h0M500.6 209h0M502.1 214.6h0M496.3 216.2h0M502.9 208.5h0M500.6 208h0M495.8 213.9h0M507 214.9h0M506 199.7h0M508.1 219h0M494.6 213.3h0M505.4 204h0M495 215.4h0M497.5 216.1h0M501.9 207h0M506.6 201.8h0M494.1 205.5h0M501.6 211.2h0M508.7 202.7h0M507.4 213.6h0M506.2 202.6h0M496.5 202.8h0M502.9 217.8h0M507.2 202.7h0M498.2 205.8h0M499 206.1h0M504.7 215.1h0M502.4 194.9h0M500.1 205.3h0M507.8 218h0M509.6 199.9h0M497 208.5h0M505.6 205h0M502.7 203.6h0M494.1 216.8h0M494.6 221.1h0M504.1 205.2h0M497.9 198.8h0M497.7 216h0M498.4 213.8h0M508.6 207.2h0M495.1 218h0M502.9 206.5h0M497.2 200.3h0M501.2 217.8h0M500.2 219.3h0M507.4 220.8h0M495.9 218.3h0M502.1 210.3h0M502.6 216.6h0M494.5 207.2h0M500 207.5h0M502 205.7h0M505.3 218h0M501 222.6h0M508.6 213.3h0M505.6 202.1h0M496.9 202.9h0M500.7 208.2h0M496.8 208.4h0M501.3 217.8h0M503.1 202.9h0M509.2 202.9h0M503.1 207.8h0M497 213.4h0M499.7 211.5h0M504.1 213.9h0M499.9 203.8h0M503.8 171.3h0M508.9 182.2h0M501.4 185.5h0" stroke="#F564E3" stroke-width="2.0" stroke-linecap="round" opacity="0.88"/>
<line x1="400.9" y1="154.8" x2="400.9" y2="230.7" stroke="#1a1a1a" stroke-width="1.1"/>
<line x1="398" y1="154.8" x2="403.8" y2="154.8" stroke="#1a1a1a" stroke-width="1.1"/>
<line x1="398" y1="230.7" x2="403.8" y2="230.7" stroke="#1a1a1a" stroke-width="1.1"/>
<rect x="393.5" y="193.2" width="14.8" height="27.9" rx="0.8" fill="#fff" fill-opacity="0.2" stroke="#000" stroke-width="1.2"/>
<line x1="393.5" y1="210.8" x2="408.3" y2="210.8" stroke="#000" stroke-width="1.9"/>
<circle cx="400.9" cy="206.8" r="1.55" fill="#000"/>
<circle cx="400.9" cy="144" r="1.6" fill="#F03030" fill-opacity="0.24" stroke="#E03030" stroke-opacity="0.32" stroke-width="0.5"/>
<line x1="421.06" y1="181.8" x2="421.06" y2="231.2" stroke="#1a1a1a" stroke-width="1.1"/>
<line x1="418.16" y1="181.8" x2="423.96" y2="181.8" stroke="#1a1a1a" stroke-width="1.1"/>
<line x1="418.16" y1="231.2" x2="423.96" y2="231.2" stroke="#1a1a1a" stroke-width="1.1"/>
<rect x="413.66" y="204.5" width="14.8" height="16.3" rx="0.8" fill="#fff" fill-opacity="0.2" stroke="#000" stroke-width="1.2"/>
<line x1="413.66" y1="212.9" x2="428.46" y2="212.9" stroke="#000" stroke-width="1.9"/>
<circle cx="421.06" cy="212" r="1.55" fill="#000"/>
<line x1="441.22" y1="196.3" x2="441.22" y2="230.4" stroke="#1a1a1a" stroke-width="1.1"/>
<line x1="438.32" y1="196.3" x2="444.12" y2="196.3" stroke="#1a1a1a" stroke-width="1.1"/>
<line x1="438.32" y1="230.4" x2="444.12" y2="230.4" stroke="#1a1a1a" stroke-width="1.1"/>
<rect x="433.82" y="211.5" width="14.8" height="11.5" rx="0.8" fill="#fff" fill-opacity="0.2" stroke="#000" stroke-width="1.2"/>
<line x1="433.82" y1="216.9" x2="448.62" y2="216.9" stroke="#000" stroke-width="1.9"/>
<circle cx="441.22" cy="216.4" r="1.55" fill="#000"/>
<circle cx="441.22" cy="186.7" r="1.6" fill="#F03030" fill-opacity="0.24" stroke="#E03030" stroke-opacity="0.32" stroke-width="0.5"/>
<line x1="461.38" y1="165.4" x2="461.38" y2="224.8" stroke="#1a1a1a" stroke-width="1.1"/>
<line x1="458.48" y1="165.4" x2="464.28" y2="165.4" stroke="#1a1a1a" stroke-width="1.1"/>
<line x1="458.48" y1="224.8" x2="464.28" y2="224.8" stroke="#1a1a1a" stroke-width="1.1"/>
<rect x="453.98" y="192.9" width="14.8" height="19.7" rx="0.8" fill="#fff" fill-opacity="0.2" stroke="#000" stroke-width="1.2"/>
<line x1="453.98" y1="201.9" x2="468.78" y2="201.9" stroke="#000" stroke-width="1.9"/>
<circle cx="461.38" cy="201" r="1.55" fill="#000"/>
<circle cx="461.38" cy="152.8" r="1.6" fill="#F03030" fill-opacity="0.24" stroke="#E03030" stroke-opacity="0.32" stroke-width="0.5"/>
<line x1="481.54" y1="188.1" x2="481.54" y2="227.8" stroke="#1a1a1a" stroke-width="1.1"/>
<line x1="478.64" y1="188.1" x2="484.44" y2="188.1" stroke="#1a1a1a" stroke-width="1.1"/>
<line x1="478.64" y1="227.8" x2="484.44" y2="227.8" stroke="#1a1a1a" stroke-width="1.1"/>
<rect x="474.14" y="205.6" width="14.8" height="12.2" rx="0.8" fill="#fff" fill-opacity="0.2" stroke="#000" stroke-width="1.2"/>
<line x1="474.14" y1="211.5" x2="488.94" y2="211.5" stroke="#000" stroke-width="1.9"/>
<circle cx="481.54" cy="210.8" r="1.55" fill="#000"/>
<circle cx="481.54" cy="163.2" r="1.6" fill="#F03030" fill-opacity="0.24" stroke="#E03030" stroke-opacity="0.32" stroke-width="0.5"/>
<line x1="501.7" y1="193.2" x2="501.7" y2="224.3" stroke="#1a1a1a" stroke-width="1.1"/>
<line x1="498.8" y1="193.2" x2="504.6" y2="193.2" stroke="#1a1a1a" stroke-width="1.1"/>
<line x1="498.8" y1="224.3" x2="504.6" y2="224.3" stroke="#1a1a1a" stroke-width="1.1"/>
<rect x="494.3" y="205.6" width="14.8" height="10.8" rx="0.8" fill="#fff" fill-opacity="0.2" stroke="#000" stroke-width="1.2"/>
<line x1="494.3" y1="210.7" x2="509.1" y2="210.7" stroke="#000" stroke-width="1.9"/>
<circle cx="501.7" cy="210" r="1.55" fill="#000"/>
<circle cx="501.7" cy="171.3" r="1.6" fill="#F03030" fill-opacity="0.24" stroke="#E03030" stroke-opacity="0.32" stroke-width="0.5"/>
<circle cx="501.7" cy="182.2" r="1.6" fill="#F03030" fill-opacity="0.24" stroke="#E03030" stroke-opacity="0.32" stroke-width="0.5"/>
<circle cx="501.7" cy="185.5" r="1.6" fill="#F03030" fill-opacity="0.24" stroke="#E03030" stroke-opacity="0.32" stroke-width="0.5"/>
<line x1="388.8" y1="140.6" x2="513.8" y2="140.6" stroke="#9a9a9a" stroke-width="1.5"/>
<line x1="513.8" y1="140.6" x2="513.8" y2="235.3" stroke="#555" stroke-width="1.1"/>
<line x1="388.8" y1="235.3" x2="514.3" y2="235.3" stroke="#555" stroke-width="1.1"/>
<line x1="388.8" y1="140.1" x2="388.8" y2="235.8" stroke="#555" stroke-width="1.1"/>
<line x1="385.8" y1="213.3" x2="388.8" y2="213.3" stroke="#333" stroke-width="1.1"/>
<text x="382.9" y="217.03" font-size="9.8" fill="#4d4d4d" text-anchor="end">0.2</text>
<line x1="385.8" y1="189.33" x2="388.8" y2="189.33" stroke="#333" stroke-width="1.1"/>
<text x="382.9" y="193.06" font-size="9.8" fill="#4d4d4d" text-anchor="end">0.4</text>
<line x1="385.8" y1="165.37" x2="388.8" y2="165.37" stroke="#333" stroke-width="1.1"/>
<text x="382.9" y="169.1" font-size="9.8" fill="#4d4d4d" text-anchor="end">0.6</text>
<line x1="385.8" y1="141.4" x2="388.8" y2="141.4" stroke="#333" stroke-width="1.1"/>
<text x="382.9" y="145.13" font-size="9.8" fill="#4d4d4d" text-anchor="end">0.8</text>
<line x1="400.9" y1="235.3" x2="400.9" y2="238.3" stroke="#333" stroke-width="1.1"/>
<text x="400.9" y="248.8" font-size="10.5" fill="#4d4d4d" text-anchor="middle">HW</text>
<line x1="421.06" y1="235.3" x2="421.06" y2="238.3" stroke="#333" stroke-width="1.1"/>
<text x="421.06" y="248.8" font-size="10.5" fill="#4d4d4d" text-anchor="middle">NB</text>
<line x1="441.22" y1="235.3" x2="441.22" y2="238.3" stroke="#333" stroke-width="1.1"/>
<text x="441.22" y="248.8" font-size="10.5" fill="#4d4d4d" text-anchor="middle">SF</text>
<line x1="461.38" y1="235.3" x2="461.38" y2="238.3" stroke="#333" stroke-width="1.1"/>
<text x="461.38" y="248.8" font-size="10.5" fill="#4d4d4d" text-anchor="middle">WF</text>
<line x1="481.54" y1="235.3" x2="481.54" y2="238.3" stroke="#333" stroke-width="1.1"/>
<text x="481.54" y="248.8" font-size="10.5" fill="#4d4d4d" text-anchor="middle">SN</text>
<line x1="501.7" y1="235.3" x2="501.7" y2="238.3" stroke="#333" stroke-width="1.1"/>
<text x="501.7" y="248.8" font-size="10.5" fill="#4d4d4d" text-anchor="middle">RM</text>
<text x="451.3" y="262.6" font-size="12.7" font-weight="normal" fill="#000" text-anchor="middle" textLength="35.9" lengthAdjust="spacingAndGlyphs">Station</text>
<text transform="translate(365.4 187.9) rotate(-90)" font-size="12.7" font-weight="normal" fill="#000" text-anchor="middle" textLength="95.1" lengthAdjust="spacingAndGlyphs">Phosphorus (mg/l)</text>
<path d="M572.4 167.5h0M578.6 221.1h0M568.3 179h0M571.9 220.4h0M569.4 217.3h0M566.1 205.9h0M568.1 181.2h0M576.7 187.7h0M571.5 176.8h0M573 177.3h0M575.7 203h0M576.8 207.4h0M567.5 211.8h0M568.5 190.3h0M570.7 222.4h0M576.4 231.4h0M580 171.3h0M571.7 213h0M566.4 166.6h0M572.5 212.8h0M577.2 176.2h0M575.7 195.3h0M565.7 179.3h0M567.6 223.7h0M573.1 208.4h0M570.6 189h0M575.8 175h0M567.6 175.5h0M580.1 211h0M575.3 185.7h0M566.5 194.7h0M565.4 203h0M571.7 223.5h0M577.3 187.9h0M566.9 208.7h0M573.8 211.2h0M576.5 219.2h0M575 207.7h0M567.9 204.6h0M578.5 165.1h0M570.4 224.7h0M575.4 196.1h0M574.7 174.5h0M565.3 181.1h0M577.6 220.2h0M567.4 225.3h0M576 175.1h0M579.2 182.1h0M568.6 210.5h0M569.1 205.6h0M569.8 171.8h0M574.5 223.4h0M574.5 183.4h0M575.3 174.3h0M565.9 219.5h0M577.7 180.5h0M571 231.4h0M576 222.2h0M572.1 224.7h0M573.3 228.9h0M571.7 222.1h0M569.1 210h0M564.9 219.4h0M579 222.7h0M571.4 210.1h0M578.6 221.4h0M578.8 173.4h0M570.6 216.8h0M570.3 224.2h0M568.7 171h0M574.4 219.7h0M580.3 183.9h0M569.7 184.7h0M574.1 230.4h0M568.5 190.8h0M574.4 207.8h0M575.8 224.2h0M578.7 210.1h0M577.7 204.7h0M575.3 201.4h0M569.6 204.4h0M574.5 221.1h0M567.3 196.2h0M576.6 182.3h0M570.4 226.4h0M566.2 181.8h0M574.2 220.8h0M565.6 207.3h0M568.1 206.5h0M565.6 178h0M574.5 177.3h0M572.7 223.8h0M574.5 198.2h0M579 177.9h0M570.2 185.1h0M567.6 224.3h0M570.1 194.9h0M571.9 211.4h0M573.3 215.2h0M568.2 189.3h0M577.1 218.7h0M572.4 179h0M565.4 224.1h0M574.1 222.4h0M566.9 203.6h0M574 229.7h0M572.5 214.2h0M569.8 201.8h0M577 211.6h0M574.6 223.7h0M569.1 193.1h0M579.7 205.1h0M571.8 215.7h0M569.4 211.9h0M577.8 216.5h0M568.2 213.6h0M578.4 167h0M568.4 207.2h0M577.8 219.8h0M564.9 190.7h0M572.5 225.7h0M580.1 220.1h0M567.8 225.5h0M580.2 220.2h0M566.5 180.4h0M579.2 202.7h0M565.2 227h0M569.4 161.6h0M578.1 190.9h0M568 220.7h0M569.5 212.1h0M580 215.3h0M565 206.5h0M577.4 219.9h0M573.1 228.7h0M574.6 220.7h0M575.3 221h0M576.6 208.9h0M564.9 187.6h0M574.6 210h0M580.1 197.1h0M571.4 208h0M576.3 206.2h0M575.7 213.2h0M573.3 231.4h0M576.7 183h0M568.3 222h0M577.1 200.7h0M579.7 164.1h0M573.2 215.6h0M576.8 211.5h0M578.4 181.4h0M574.4 214h0M577.5 223.1h0M575.7 220.5h0M572.6 202.9h0M569.9 190.1h0M566.5 206.4h0M577.8 179.1h0M573.7 172h0M577.7 221.5h0M577.1 162h0M571 214.1h0M570.6 221.2h0M566.4 215.2h0M580.1 205.1h0M576.8 191.3h0M568.2 180.8h0M565.8 188.7h0M565.3 226.4h0M564.9 181.3h0M572.3 177.4h0M577.7 183.5h0M574 223.4h0M568.2 201.6h0M564.8 220.9h0M578.4 167h0M570.7 209.8h0M575.6 220.1h0M565.3 231.4h0M574.2 214.9h0M576.5 169.5h0M565.5 208.1h0M576.6 196.4h0M567.9 202.5h0M576.2 222.8h0M574.2 207.7h0M576.9 222.6h0M567.9 155.2h0M568.5 210.7h0M574.2 160h0M569.6 226.8h0M566.2 187.2h0M572.7 178.9h0M568.1 196.6h0M580 199.4h0M575.2 220h0M575.5 201.1h0M566.5 192.9h0M574 174.9h0M571.3 184.9h0M575.8 213.6h0M575.4 216.7h0M572.8 192.6h0M579.5 221.3h0M578.4 189.8h0M575.2 180.9h0M577.6 202.1h0M576 210.6h0M565.2 222.5h0" stroke="#F8766D" stroke-width="2.0" stroke-linecap="round" opacity="0.88"/>
<path d="M594.4 226.9h0M586.9 225.1h0M597.6 210.8h0M597.1 218.7h0M596.7 195.4h0M598.9 210.6h0M593.9 218.5h0M586.3 207.9h0M593.1 225.8h0M598.6 218.5h0M589.3 194.9h0M597.1 211.1h0M585.8 217.7h0M591.6 220.3h0M589.8 226.2h0M593.2 225.5h0M589.9 200.1h0M595.5 211.2h0M594.9 222.6h0M591.8 214.9h0M592.4 223.1h0M596.9 217.1h0M588.4 216.8h0M590.7 210.6h0M592.1 213.1h0M590.2 220.8h0M590.3 225.5h0M586.6 196.7h0M586.3 195.5h0M596.6 218.5h0M597.3 230.9h0M598 221.8h0M592.5 211.8h0M588.1 213.1h0M596 178.5h0M593.4 213.7h0M592.2 208h0M587.2 225h0M588.3 198.3h0M598.3 221.9h0M599.6 207.5h0M589.7 202.8h0M584.7 223.2h0M589.6 202.2h0M600.2 226.6h0M597.9 204.9h0M598 201.2h0M599.6 212.1h0M585 220.1h0M596 222.4h0M594.1 220.3h0M594.4 196.6h0M597 202h0M588.1 211.8h0M589.3 224.9h0M596.5 206.7h0M598.5 224.2h0M594.4 190.8h0M595.8 201.4h0M600 223.5h0M596.7 219.6h0M595.6 187.3h0M597.5 215.6h0M596.3 224.5h0M597.1 197.1h0M596.9 215.6h0M586.9 224.4h0M594.1 186.8h0M589.8 213.4h0M587.1 216.2h0M598.7 198.6h0M590.5 194.4h0M584.6 222.5h0M585.3 206h0M592 196.2h0M590.3 216h0M594.2 217.3h0M593.8 226.2h0M596.9 203.9h0M586.5 200.2h0M590.3 195h0M591 194.3h0M592.1 216h0M592.2 229.9h0M585.1 203.3h0M592 198.5h0M591.7 186.9h0M588.7 226.6h0M596.6 221.7h0M586.7 198.2h0M586.5 191.4h0M589.7 211.5h0M595.6 209.4h0M586.4 216.4h0M599.5 225.7h0M593.5 211.8h0M586.3 211.6h0M589.1 230h0M595.8 215.7h0M593.8 222.9h0M597.1 209.5h0M588 214.4h0M598.4 193.1h0M592.6 215.4h0M590.3 209.7h0M596.8 223h0M597.1 224.7h0M595.3 214.1h0M590.3 201.2h0M599.5 224h0M595.7 212.8h0M586 222h0M592.8 224.5h0M587.4 203.2h0M588.7 201.9h0M585.6 228.2h0M595.7 220.6h0M592.4 224h0M596.5 218.3h0M587 210.5h0M589.5 205.7h0M600.2 200.3h0M594.4 220.9h0M595.5 201.8h0M587.5 220.9h0M592.3 223.1h0M586 228.9h0M598 225.1h0M594.4 214.7h0M596.7 219.7h0M591.4 202.8h0M585.8 223h0M597 200.8h0M598.5 222.9h0M600.1 225.8h0M596.5 208.3h0M590.9 201.1h0M592.3 184.9h0M593.1 211.9h0M587.8 202h0M593 179.7h0M598.9 225.8h0M587.8 215.1h0M594.7 222.1h0M589.9 197.9h0M592.8 199.3h0M592.8 209h0M597.6 214.8h0M599.7 197.7h0M587.4 220.6h0M587.5 224.4h0M585.2 206.4h0M597.4 222h0M594.6 221.5h0M592.2 226h0M599 222.2h0M585.7 224.6h0M596.3 225.8h0M590 195h0M586.5 204.8h0M587.2 223.8h0M589.6 205.7h0M600 225.4h0M589.4 206.1h0M596.7 202.2h0M592.2 189.7h0M598.9 222.4h0M588.4 221.3h0M588.1 224.8h0M594.2 227.2h0M598 225.1h0M600 210.8h0M594.3 223.3h0M584.7 219.1h0M585.4 210h0M599 222.6h0M584.7 220.7h0M597.7 223.9h0M597.1 210.3h0M591.4 208.7h0M592.1 225.1h0M589.6 223.7h0M593.5 189.1h0M587 203.7h0M584.8 225.4h0M591.8 220.9h0M600.1 227.5h0M589.1 205.4h0M599.8 220.8h0M588.7 221h0M599 222.2h0M594.2 194.5h0M588.4 221.2h0M599.1 228.2h0M594.9 194.3h0M586.6 213.5h0M593 212.3h0M595.7 213.4h0M594.8 193.8h0M593 217.2h0M590.1 227.5h0M588.1 203.1h0M591.5 210.6h0M594.5 220.7h0M590.9 224.2h0M587.4 183.4h0M597.2 198.1h0M600.1 227h0M585.1 213.1h0M593.9 212.6h0" stroke="#B79F00" stroke-width="2.0" stroke-linecap="round" opacity="0.88"/>
<path d="M615.9 198.7h0M617.5 203.9h0M609.6 203.6h0M613 213.9h0M609.4 223.9h0M610.3 207.7h0M614.7 226.2h0M611.3 220.9h0M606.1 209h0M606.4 225.8h0M614.4 206.9h0M615.6 226.1h0M611.7 223.2h0M617.9 219.2h0M606.6 221.1h0M609.2 214.4h0M614 227h0M610.8 214.1h0M618.2 222h0M619.2 217.5h0M610.4 218.1h0M610.7 218.1h0M618.7 224.8h0M612.7 204.3h0M614 218.9h0M617.5 210.2h0M609.6 205.2h0M610.8 222.7h0M604.7 219.2h0M615.3 224.8h0M607.3 217.2h0M610.6 228.5h0M618.8 220.3h0M609.7 224.4h0M605.9 226.1h0M609.6 225.9h0M607.8 211.4h0M608.7 220.8h0M613.6 225.3h0M614.8 226h0M612.7 219.8h0M615.6 205.4h0M606.8 219.4h0M610.1 211.4h0M615.7 219.3h0M608.2 209.8h0M609.5 223.3h0M616.3 198.7h0M608.7 224.4h0M610.3 224.6h0M615.4 202.1h0M604.7 203.8h0M613.3 197.5h0M612.5 199.7h0M618.7 224.7h0M614.7 209.5h0M614.7 208.6h0M610 208h0M612.3 218.7h0M605.3 208.6h0M611.3 219.9h0M606.6 209.2h0M616.6 222.3h0M607.5 204.2h0M607.7 200.9h0M604.7 213.2h0M611 202.9h0M617.3 205.4h0M619.3 204.6h0M606 220.9h0M616.8 213.1h0M611.9 225.2h0M606.4 208.7h0M615.2 199.1h0M606.2 218.2h0M610.3 207.2h0M612.8 201.6h0M613.2 227.4h0M607.3 225h0M607.5 224.7h0M610.2 224.1h0M604.6 221.8h0M606.5 204h0M615.8 215.2h0M609.9 223.5h0M613.8 211.1h0M604.7 221.8h0M606.4 221.4h0M606.2 212.7h0M605.8 228.2h0M618.4 216.7h0M619.2 212.8h0M613.6 206.9h0M607.7 212.1h0M605.7 201.8h0M611.4 205.9h0M607.5 201h0M613.8 215.3h0M614 217.8h0M618.3 219.2h0M614.5 208h0M606.7 210.8h0M606.1 215.3h0M618.4 210.2h0M606.3 227h0M611.9 205.6h0M608.6 222.6h0M609.9 221.1h0M615 213.5h0M619.4 220.6h0M618.8 221h0M611.6 212h0M606.9 202.7h0M604.8 215h0M615.7 227.3h0M611.2 210.4h0M616.7 211.4h0M619.5 205.4h0M605.8 216.9h0M612.6 224.7h0M609.6 211.2h0M604.8 206.3h0M609.9 205.8h0M606.2 226h0M613.6 221.8h0M605.1 225.6h0M619.5 219.5h0M615.2 224.1h0M607 217.9h0M606 208.8h0M604.6 227.3h0M619.6 214.2h0M607.9 215.1h0M604.6 222.1h0M606.2 227.1h0M608.1 214.4h0M611.9 207.6h0M611 212h0M612.8 208.8h0M604.9 200.1h0M608.4 218.3h0M605 211h0M613.8 226h0M606.9 220.5h0M617.7 226.1h0M607.5 221.2h0M610.8 206.5h0M607.7 208h0M618 225.4h0M612.8 217.6h0M605.8 227.5h0M618.3 211.9h0M612.9 215.4h0M606.1 201.2h0M620.1 210h0M611.9 228.4h0M608.9 213.4h0M617.6 220.2h0M617 217.3h0M605.7 215.1h0M612.8 223.7h0M605.9 227.8h0M617.6 209.9h0M613.1 226.7h0M616.2 209.5h0M604.4 197.9h0M604.8 224.5h0M610.2 224.1h0M614.7 216.4h0M613.4 223.2h0M612.6 207.7h0M610.7 229.3h0M607.8 225.1h0M614.9 213.7h0M612 219.9h0M610.2 211.5h0M609.6 209.2h0M619 214.9h0M613.4 227.2h0M611.5 218.2h0M612.4 223.2h0M612.3 215.7h0M607.9 221.1h0M616.9 208.9h0M614.4 224h0M610.5 219.6h0M615.3 227h0M608.2 214.4h0M609.1 223.7h0M618.1 221.9h0M605 225.1h0M609 206.3h0M617.4 209.9h0M611.7 225.2h0M619.3 211.1h0M616.8 201.6h0M608 211.4h0M616.9 217.5h0M607.6 219.3h0M604.5 224.5h0M613.9 223.3h0M611.1 218.7h0M607.7 208.4h0M618.3 220.2h0M612.4 219.6h0M607.7 209.6h0M605.6 202.4h0M605.4 218.1h0M609.9 225.1h0M613.6 223.6h0" stroke="#00BA38" stroke-width="2.0" stroke-linecap="round" opacity="0.88"/>
<path d="M630.6 209.1h0M624.7 214.5h0M636.9 223.9h0M630.6 215.5h0M638.8 218.2h0M630.6 188h0M626.5 220.8h0M624.7 211.7h0M636.8 223.1h0M634.4 216.3h0M637.7 219.9h0M637.8 192.7h0M635.7 219.2h0M625.9 221.9h0M635.8 198.5h0M628.9 218.6h0M636.2 222.2h0M630.4 212.7h0M624.8 209.2h0M632.9 193.7h0M627.5 228h0M638.5 214.3h0M629.3 201.7h0M630.3 206h0M626.7 207.1h0M639.2 213.6h0M639.7 198.1h0M627.3 206.9h0M636.1 218h0M631.3 217.6h0M634.1 218.3h0M630.2 213h0M639.4 208.1h0M635.5 203.8h0M626.4 213.1h0M633.8 216.8h0M634.7 215.4h0M635.3 197.2h0M626.8 212.7h0M636.2 212.2h0M637.2 218.3h0M634.6 190.9h0M637.1 218h0M635.4 210.7h0M628.3 214.3h0M634 205.5h0M625.2 186.3h0M624.9 214.1h0M637.2 213.3h0M624.4 202.6h0M636.8 207.1h0M637.8 193.1h0M636.7 218.9h0M637.6 216.8h0M625.1 219.6h0M638.3 203.8h0M625.4 205.4h0M633.6 208.6h0M637 217.4h0M639.8 214.9h0M638.3 214.2h0M632.2 215.7h0M628.2 197.5h0M635.9 217.2h0M626.9 213.2h0M637.5 217.7h0M627.5 192.6h0M633.1 219.8h0M626 200h0M633.7 197.9h0M632 197h0M635.2 204.2h0M635.9 222.9h0M629.9 218.4h0M628.4 215.8h0M636.8 208.1h0M638 222.8h0M630.4 218.1h0M624.7 217.9h0M635.1 193.4h0M630.1 215.4h0M630 208.6h0M625.2 209.4h0M628.8 210.8h0M637.9 214.6h0M630.6 197.5h0M636.6 215.9h0M636.3 201.4h0M629.4 205.3h0M634.9 207.5h0M635.8 197.4h0M633.7 211h0M624.7 209.9h0M626.7 205h0M636.2 196.9h0M634.9 214h0M628.8 204.4h0M639.2 218h0M637.4 200.6h0M626 203.2h0M638 211.6h0M627 219.7h0M625.6 201.3h0M637.4 207.4h0M637.6 196.2h0M632 217.2h0M631.3 210.6h0M629.8 197.6h0M628.4 207.9h0M638.9 217.3h0M636.9 211h0M639.4 209.3h0M639.9 217.5h0M631.3 221.2h0M633.9 213.3h0M627.3 195.7h0M625.9 199.5h0M635.7 205.9h0M637.3 216.2h0M634.7 199.5h0M631.9 196.7h0M631.7 220.9h0M633.5 204.5h0M634.5 207.9h0M636.8 210.8h0M628.1 202.2h0M638.8 218.6h0M627.7 214.8h0M629.3 199.5h0M635.4 206.1h0M630.7 206.6h0M634 194.3h0M631.7 195.2h0M629.1 211.2h0M638.8 209.3h0M639.2 221h0M637.4 225.9h0M631.2 220.9h0M637.7 194.6h0M628.2 208.2h0M626.3 192.7h0M626 222.8h0M625.1 212.2h0M633.8 217.9h0M638.5 186.2h0M638.2 219.5h0M638.2 220.9h0M626 191.3h0M624.7 218.3h0M637.6 225.1h0M627.1 216.4h0M638.2 215.5h0M629.9 213.2h0M624.9 209.8h0M627.5 212.3h0M634.9 211.5h0M625.5 189.5h0M627.8 206.2h0M631.6 197.6h0M628.1 196h0M637 199.2h0M624.6 193.6h0M634 209.9h0M632.6 194.7h0M631.6 208.8h0M634.1 223.5h0M629.6 218.2h0M625.1 214.2h0M634.2 202.4h0M635.4 219.2h0M632.6 206.3h0M639.5 191.8h0M635.6 189.8h0M625.4 218h0M628.8 198.4h0M634.8 212.6h0M634.2 218h0M632.4 216.1h0M624.8 221.5h0M625.7 206.6h0M628.7 214.1h0M631.9 223h0M628.7 209.1h0M625.1 182.1h0M629.7 190h0M635.6 222.3h0M636.1 206.6h0M628.3 198.4h0M627.3 210.5h0M626.6 209.3h0M631 199h0M626.7 220.9h0M626.8 218.1h0M630.9 222h0M629.3 222.4h0M637 212.4h0M632 191.7h0M629.6 208.1h0M628.3 214.8h0M637.3 193.5h0M633.5 206.8h0M636.8 207h0M624.5 213.4h0M624.5 183.7h0M635.4 212.2h0M638.4 194.9h0M629.3 211.7h0M629.4 218.2h0M637.1 218.7h0M638.1 190h0M631.6 170.9h0" stroke="#12BFA6" stroke-width="2.0" stroke-linecap="round" opacity="0.88"/>
<path d="M657.2 220.1h0M645.7 205.5h0M647.7 215.7h0M655.7 211.8h0M658.1 200.4h0M659 203.9h0M658 192.1h0M656.3 209.1h0M645.7 206.6h0M656.9 206.8h0M649 217.3h0M645.3 217.2h0M655.9 221.1h0M654.5 214.7h0M655.6 216.8h0M655.8 200.1h0M650.9 206.8h0M645 214.8h0M648.9 223.9h0M648.2 214.6h0M651.7 218.8h0M655.6 207.9h0M657.4 207.9h0M654.6 217.8h0M651.7 217.6h0M651.2 220.4h0M653.1 205.3h0M654.4 203.7h0M646.9 219.3h0M644.3 203.1h0M658.9 220.8h0M644.6 212.8h0M646.8 217.7h0M645.2 226.4h0M656.8 215.8h0M654.6 216.3h0M649.6 207.3h0M644.1 213.8h0M657.9 219.1h0M652.5 220.4h0M656.3 218.4h0M645.6 220.3h0M653.3 220.4h0M658.8 206.2h0M654.3 218.7h0M645.2 204.8h0M654.4 191.1h0M658.9 210.4h0M657.1 216.2h0M656.8 203.9h0M655.3 218h0M645.1 214.6h0M658.6 218.6h0M648.6 199.8h0M653 214.7h0M651 218.5h0M653.8 213.9h0M652.2 218.5h0M647.6 218.9h0M647 203.6h0M656 199.7h0M653.6 210.8h0M653.2 205.6h0M651.2 207.4h0M655.7 202.6h0M652.9 216h0M659.6 208.2h0M645 206.8h0M654.3 221.4h0M644.2 215.3h0M651.4 209.8h0M653.6 212.5h0M644.6 221h0M644.1 205.9h0M657.2 207.3h0M654.1 206h0M658.6 194.8h0M649.4 215.1h0M645.6 198.1h0M645.3 210.6h0M654.7 208.5h0M653.2 201.4h0M656.6 213h0M644.5 208.6h0M656.9 221.8h0M655.9 205.5h0M652.1 218.8h0M657.3 217.7h0M648.3 218h0M655 219.8h0M648.9 222.2h0M655.2 201.9h0M649.6 207.1h0M651.4 212.1h0M653 212.3h0M656.7 219.9h0M655.7 212.1h0M654.8 209.9h0M657.3 215.1h0M654.9 209.1h0M657.6 220.7h0M646.1 219.3h0M645 209.4h0M647 202.1h0M658.3 206.4h0M647.7 219.4h0M651.1 208.7h0M645.2 217h0M650.5 220.1h0M651.5 206.2h0M648.8 212.3h0M645.2 212.2h0M644.3 211.3h0M652.7 220.3h0M659.1 205.9h0M650.6 210.8h0M657.1 212.2h0M647.1 193.2h0M652.1 212.5h0M656.9 216.3h0M657 223.6h0M644.8 212.9h0M656.3 206.2h0M652.7 196.8h0M652.9 203.6h0M653.5 210.3h0M659.6 208.3h0M649.9 214.8h0M645 209.6h0M646.4 218.5h0M649.7 207.2h0M651.6 209.1h0M653.5 224.2h0M656.1 220.1h0M652.9 204.2h0M654.3 214.7h0M649.4 215.4h0M648.6 211.1h0M655.6 223h0M650.5 222.3h0M646.3 216.7h0M655.1 223.5h0M659.7 219.5h0M653 200h0M647.8 214h0M651.7 219.5h0M650.2 201.6h0M647.4 204.8h0M655.1 215.1h0M654.6 202.9h0M644.7 201.6h0M653.1 208.4h0M652.4 212h0M648 204h0M647.3 205.1h0M651.1 215.8h0M649.6 216.5h0M646.7 211.4h0M656.8 214.2h0M644.2 220.8h0M650.3 220.2h0M657.5 204.5h0M648.7 205.9h0M644.3 210h0M656.9 219.5h0M645.6 206.9h0M656.6 206h0M659.5 218.5h0M655 221.4h0M647.6 202.9h0M644.3 215.6h0M656.5 209.7h0M648.4 213.9h0M649.6 212.9h0M644.3 215.6h0M657.1 213.2h0M644.3 207.4h0M644.2 209.9h0M646.7 214.2h0M659.3 213.4h0M649.6 200.5h0M650.3 225.5h0M652.2 204.8h0M651.4 222.3h0M655.1 220h0M651.8 216h0M648.2 223.2h0M650.1 214.8h0M657.6 202.1h0M651.1 203.9h0M654.5 215.2h0M659.6 206.1h0M654.2 207.9h0M650.9 210.8h0M657.4 218.2h0M658.9 211.1h0M650.8 220.7h0M658.5 217.4h0M654 210.7h0M655.5 220.5h0M655.9 215.9h0M649.8 212.1h0M648.3 201.3h0M656.9 219.2h0M652.8 209h0M644 212.4h0M645.1 210.5h0M657.6 215.6h0M658.1 222h0M654 214.7h0" stroke="#619CFF" stroke-width="2.0" stroke-linecap="round" opacity="0.88"/>
<path d="M664.7 200.1h0M679.1 201.5h0M671.7 208.5h0M677.8 213.8h0M666.2 204.6h0M678 222.7h0M667.3 204.3h0M668.4 193.6h0M672.4 204.1h0M672.2 212.9h0M665.6 209.4h0M664.8 206.2h0M664 209.2h0M678.1 218.3h0M664.1 191.6h0M671.6 198.9h0M667.9 216.4h0M669.4 198.4h0M666.9 204.1h0M665.4 205.6h0M668.2 213.4h0M671.6 205.2h0M676.6 212.6h0M673.5 200.9h0M672.1 215.8h0M677.1 214h0M678.8 202.2h0M663.9 209.9h0M665.3 192h0M678.8 215.4h0M675.7 204.8h0M675.5 202.2h0M674.6 191.1h0M670.7 214.6h0M679.2 220.7h0M676.2 205.8h0M672.4 194.8h0M677.8 211.9h0M669.8 216.3h0M670 222.8h0M677.6 204.8h0M665.3 224.7h0M671.6 208.3h0M677.9 204h0M677.1 208.9h0M668.2 207.8h0M678 216.5h0M666.2 202.8h0M673.2 200.6h0M677.7 207.8h0M666.9 205.8h0M664.9 216.2h0M678.8 222.2h0M677.2 200.2h0M666.9 209.6h0M675.2 206.2h0M675 202.2h0M667.1 214.6h0M668.4 212.7h0M670.4 205.7h0M665.9 184.2h0M669 216.2h0M669.4 201.1h0M679.3 214.3h0M670.9 210.1h0M664.3 199.8h0M673.9 203.7h0M663.9 211.8h0M679.2 204.5h0M669.6 206.4h0M665.5 219.7h0M676.9 207.3h0M679.4 196.3h0M666.4 202.6h0M678.6 225.1h0M670.3 219.3h0M677.4 217h0M667.5 207.3h0M665.7 195.7h0M676 201.2h0M678.4 214h0M676.5 202.3h0M677.1 210.7h0M675.7 207.9h0M667.2 203.5h0M677.2 210.1h0M670.2 199.2h0M670.6 210.5h0M677.7 225.1h0M675.5 203.7h0M664 207.2h0M666.2 204.5h0M665.4 196h0M674.4 204.7h0M666.1 207.5h0M668.2 204.8h0M675.9 218.5h0M666.8 203.4h0M673.7 199h0M665.5 199.4h0M674.9 219.5h0M679.2 203.5h0M672.5 215.8h0M670.8 217.2h0M668.3 199.9h0M673.7 208.8h0M675.2 195.2h0M668.6 199.2h0M673.7 209.4h0M667.7 220.9h0M671.4 213.2h0M673.9 206.4h0M665.3 206.2h0M668.9 218.5h0M675.8 203.6h0M672.5 207h0M664.6 214.5h0M665.6 215.3h0M669.1 203.8h0M669.1 199.3h0M675.7 192.1h0M667.2 208h0M677 209.8h0M665.5 205.2h0M670 210.9h0M677.8 196.8h0M666.6 216.7h0M666.6 214.9h0M672.1 191.7h0M671.3 210.5h0M672 201.2h0M670.4 212.3h0M677 214.9h0M674.1 206h0M676.6 200.8h0M676.8 208h0M671.8 207h0M673.2 208h0M671.6 219.9h0M667.8 211.2h0M677.5 209.2h0M672.8 196.6h0M666.6 214.1h0M676.4 204h0M678.4 214.8h0M678.1 196.9h0M677.3 188.9h0M675.7 218.9h0M674.6 208.8h0M670.8 200.1h0M672.2 206.4h0M678.9 218.7h0M668.4 209.1h0M674.1 214.1h0M674 192.5h0M670.8 206.3h0M677.5 215h0M665.8 206h0M666.8 221.9h0M666.9 198.3h0M673 208.1h0M676.7 208.7h0M666.7 207h0M666.1 193.1h0M665.4 203.2h0M679.2 218.2h0M677.4 206.6h0M671 208h0M678.9 196.1h0M666.6 215.6h0M669.2 208.6h0M675.8 196.2h0M669.9 190.7h0M670.9 214.3h0M669.4 219.8h0M678.3 214h0M668.4 206.9h0M679.1 197.8h0M679.3 216.7h0M679.4 208.8h0M664.1 203.6h0M677.4 206.3h0M673.7 206.2h0M668.9 200.7h0M667.2 206.8h0M672.6 213.4h0M679.4 218.8h0M664.4 196.3h0M670.1 197h0M671.7 217.4h0M666.7 193.5h0M669 201.1h0M678.2 206.2h0M674.5 201h0M675.4 212.4h0M672.6 216.7h0M675.3 215.3h0M676.8 199.9h0M670.3 211.4h0M665.7 212.4h0M673.7 207.6h0M666.4 218.9h0M669.6 199.7h0M678.2 199h0M670.6 212.9h0M671 214.7h0M670.3 194.2h0M671 210.9h0M671.5 196.6h0M671.3 215.6h0" stroke="#F564E3" stroke-width="2.0" stroke-linecap="round" opacity="0.88"/>
<line x1="572.6" y1="144.2" x2="572.6" y2="231.4" stroke="#1a1a1a" stroke-width="1.1"/>
<line x1="569.7" y1="144.2" x2="575.5" y2="144.2" stroke="#1a1a1a" stroke-width="1.1"/>
<line x1="569.7" y1="231.4" x2="575.5" y2="231.4" stroke="#1a1a1a" stroke-width="1.1"/>
<rect x="565.2" y="182.3" width="14.8" height="37" rx="0.8" fill="#fff" fill-opacity="0.2" stroke="#000" stroke-width="1.2"/>
<line x1="565.2" y1="204.6" x2="580" y2="204.6" stroke="#000" stroke-width="1.9"/>
<circle cx="572.6" cy="198.6" r="1.55" fill="#000"/>
<line x1="592.4" y1="177.5" x2="592.4" y2="230.9" stroke="#1a1a1a" stroke-width="1.1"/>
<line x1="589.5" y1="177.5" x2="595.3" y2="177.5" stroke="#1a1a1a" stroke-width="1.1"/>
<line x1="589.5" y1="230.9" x2="595.3" y2="230.9" stroke="#1a1a1a" stroke-width="1.1"/>
<rect x="585" y="204.4" width="14.8" height="17.8" rx="0.8" fill="#fff" fill-opacity="0.2" stroke="#000" stroke-width="1.2"/>
<line x1="585" y1="213.6" x2="599.8" y2="213.6" stroke="#000" stroke-width="1.9"/>
<circle cx="592.4" cy="212.2" r="1.55" fill="#000"/>
<line x1="612.2" y1="192.5" x2="612.2" y2="230.9" stroke="#1a1a1a" stroke-width="1.1"/>
<line x1="609.3" y1="192.5" x2="615.1" y2="192.5" stroke="#1a1a1a" stroke-width="1.1"/>
<line x1="609.3" y1="230.9" x2="615.1" y2="230.9" stroke="#1a1a1a" stroke-width="1.1"/>
<rect x="604.8" y="210.3" width="14.8" height="13.8" rx="0.8" fill="#fff" fill-opacity="0.2" stroke="#000" stroke-width="1.2"/>
<line x1="604.8" y1="218" x2="619.6" y2="218" stroke="#000" stroke-width="1.9"/>
<circle cx="612.2" cy="216.1" r="1.55" fill="#000"/>
<line x1="632" y1="174.6" x2="632" y2="228" stroke="#1a1a1a" stroke-width="1.1"/>
<line x1="629.1" y1="174.6" x2="634.9" y2="174.6" stroke="#1a1a1a" stroke-width="1.1"/>
<line x1="629.1" y1="228" x2="634.9" y2="228" stroke="#1a1a1a" stroke-width="1.1"/>
<rect x="624.6" y="200.2" width="14.8" height="16.8" rx="0.8" fill="#fff" fill-opacity="0.2" stroke="#000" stroke-width="1.2"/>
<line x1="624.6" y1="209.8" x2="639.4" y2="209.8" stroke="#000" stroke-width="1.9"/>
<circle cx="632" cy="207.4" r="1.55" fill="#000"/>
<circle cx="632" cy="170.9" r="1.6" fill="#F03030" fill-opacity="0.24" stroke="#E03030" stroke-opacity="0.32" stroke-width="0.5"/>
<line x1="651.8" y1="191.1" x2="651.8" y2="226.6" stroke="#1a1a1a" stroke-width="1.1"/>
<line x1="648.9" y1="191.1" x2="654.7" y2="191.1" stroke="#1a1a1a" stroke-width="1.1"/>
<line x1="648.9" y1="226.6" x2="654.7" y2="226.6" stroke="#1a1a1a" stroke-width="1.1"/>
<rect x="644.4" y="206.9" width="14.8" height="11.5" rx="0.8" fill="#fff" fill-opacity="0.2" stroke="#000" stroke-width="1.2"/>
<line x1="644.4" y1="213.6" x2="659.2" y2="213.6" stroke="#000" stroke-width="1.9"/>
<circle cx="651.8" cy="212.2" r="1.55" fill="#000"/>
<line x1="671.6" y1="184.2" x2="671.6" y2="225.1" stroke="#1a1a1a" stroke-width="1.1"/>
<line x1="668.7" y1="184.2" x2="674.5" y2="184.2" stroke="#1a1a1a" stroke-width="1.1"/>
<line x1="668.7" y1="225.1" x2="674.5" y2="225.1" stroke="#1a1a1a" stroke-width="1.1"/>
<rect x="664.2" y="201.7" width="14.8" height="11.9" rx="0.8" fill="#fff" fill-opacity="0.2" stroke="#000" stroke-width="1.2"/>
<line x1="664.2" y1="207.4" x2="679" y2="207.4" stroke="#000" stroke-width="1.9"/>
<circle cx="671.6" cy="207.8" r="1.55" fill="#000"/>
<line x1="561.3" y1="140.3" x2="683.4" y2="140.3" stroke="#9a9a9a" stroke-width="1.5"/>
<line x1="683.4" y1="140.3" x2="683.4" y2="235.3" stroke="#555" stroke-width="1.1"/>
<line x1="561.3" y1="235.3" x2="683.9" y2="235.3" stroke="#555" stroke-width="1.1"/>
<line x1="561.3" y1="139.8" x2="561.3" y2="235.8" stroke="#555" stroke-width="1.1"/>
<line x1="558.3" y1="225.3" x2="561.3" y2="225.3" stroke="#333" stroke-width="1.1"/>
<text x="555.4" y="228.9" font-size="9.4" fill="#4d4d4d" text-anchor="end">25</text>
<line x1="558.3" y1="204.33" x2="561.3" y2="204.33" stroke="#333" stroke-width="1.1"/>
<text x="555.4" y="207.93" font-size="9.4" fill="#4d4d4d" text-anchor="end">50</text>
<line x1="558.3" y1="183.35" x2="561.3" y2="183.35" stroke="#333" stroke-width="1.1"/>
<text x="555.4" y="186.95" font-size="9.4" fill="#4d4d4d" text-anchor="end">75</text>
<line x1="558.3" y1="162.38" x2="561.3" y2="162.38" stroke="#333" stroke-width="1.1"/>
<text x="555.4" y="165.98" font-size="9.4" fill="#4d4d4d" text-anchor="end">100</text>
<line x1="558.3" y1="141.4" x2="561.3" y2="141.4" stroke="#333" stroke-width="1.1"/>
<text x="555.4" y="145" font-size="9.4" fill="#4d4d4d" text-anchor="end">125</text>
<line x1="572.6" y1="235.3" x2="572.6" y2="238.3" stroke="#333" stroke-width="1.1"/>
<text x="572.6" y="248.8" font-size="10.5" fill="#4d4d4d" text-anchor="middle">HW</text>
<line x1="592.4" y1="235.3" x2="592.4" y2="238.3" stroke="#333" stroke-width="1.1"/>
<text x="592.4" y="248.8" font-size="10.5" fill="#4d4d4d" text-anchor="middle">NB</text>
<line x1="612.2" y1="235.3" x2="612.2" y2="238.3" stroke="#333" stroke-width="1.1"/>
<text x="612.2" y="248.8" font-size="10.5" fill="#4d4d4d" text-anchor="middle">SF</text>
<line x1="632" y1="235.3" x2="632" y2="238.3" stroke="#333" stroke-width="1.1"/>
<text x="632" y="248.8" font-size="10.5" fill="#4d4d4d" text-anchor="middle">WF</text>
<line x1="651.8" y1="235.3" x2="651.8" y2="238.3" stroke="#333" stroke-width="1.1"/>
<text x="651.8" y="248.8" font-size="10.5" fill="#4d4d4d" text-anchor="middle">SN</text>
<line x1="671.6" y1="235.3" x2="671.6" y2="238.3" stroke="#333" stroke-width="1.1"/>
<text x="671.6" y="248.8" font-size="10.5" fill="#4d4d4d" text-anchor="middle">RM</text>
<text x="622.35" y="262.6" font-size="12.7" font-weight="normal" fill="#000" text-anchor="middle" textLength="35.9" lengthAdjust="spacingAndGlyphs">Station</text>
<text transform="translate(535.6 187.8) rotate(-90)" font-size="12.7" font-weight="normal" fill="#000" text-anchor="middle" textLength="75.6" lengthAdjust="spacingAndGlyphs">Chloride(mg/l)</text>
<text x="7.4" y="258.6" font-size="11.2" fill="#111" textLength="12.4" lengthAdjust="spacingAndGlyphs">(a)</text>
<text x="365.8" y="260" font-size="11.6" fill="#111" textLength="13.5" lengthAdjust="spacingAndGlyphs">(b)</text>
<circle cx="153" cy="287" r="1.7" fill="#000"/>
<text x="168.5" y="290.5" font-size="9.6" fill="#222" textLength="21.4" lengthAdjust="spacingAndGlyphs">Mean</text>
<circle cx="508.2" cy="287" r="1.7" fill="#000"/>
<text x="524" y="290.5" font-size="9.6" fill="#222" textLength="21.5" lengthAdjust="spacingAndGlyphs">Mean</text>
</svg></body></html>
